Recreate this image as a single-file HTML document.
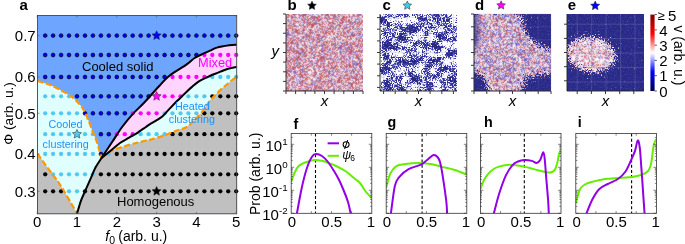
<!DOCTYPE html>
<html><head><meta charset="utf-8"><style>
html,body{margin:0;padding:0;background:#fff;width:685px;height:244px;overflow:hidden;position:relative}
</style></head><body>
<svg xmlns="http://www.w3.org/2000/svg" width="685" height="244" viewBox="0 0 685 244" style="position:absolute;left:0;top:0;will-change:transform">
<defs>
<clipPath id="ca"><rect x="37.5" y="15.5" width="199.2" height="198.3"/></clipPath>
</defs>
<g clip-path="url(#ca)">
<rect x="37.5" y="15.5" width="199.2" height="198.3" fill="#6ea6ff"/>
<path d="M37.5,153.6 C38.7,155.3 42.0,160.2 44.5,163.6 C47.0,167.0 50.0,170.9 52.3,174.0 C54.6,177.1 56.6,179.6 58.5,182.3 C60.4,185.1 61.8,187.4 63.7,190.5 C65.6,193.6 67.6,197.1 69.8,200.9 C72.0,204.8 75.8,211.5 77.0,213.6 L37.5,214 Z" fill="#c0c0c0"/>
<path d="M77.0,213.6 C77.7,211.4 79.7,204.3 81.0,200.6 C82.3,196.9 83.5,194.9 85.0,191.3 C86.5,187.8 88.5,183.3 90.3,179.3 C92.1,175.3 93.7,170.9 95.6,167.3 C97.5,163.8 100.5,159.6 101.5,158.0 " fill="none"/>
<path d="M77.0,213.6 C77.7,211.4 79.7,204.3 81.0,200.6 C82.3,196.9 83.5,194.9 85.0,191.3 C86.5,187.8 88.5,183.3 90.3,179.3 C92.1,175.3 93.7,170.9 95.6,167.3 C97.5,163.8 100.5,159.6 101.5,158.0 L101.5,158.0 C102.2,157.3 104.2,155.3 106.0,154.0 C107.8,152.7 109.2,151.7 112.3,150.4 C115.4,149.1 120.6,147.4 124.6,146.2 C128.5,145.0 132.4,143.9 136.0,143.0 C139.6,142.1 143.3,141.2 146.0,140.5 C148.7,139.8 149.2,139.9 152.3,139.1 C155.4,138.2 160.5,136.8 164.6,135.4 C168.7,134.0 173.7,131.7 176.9,130.5 C180.1,129.3 182.0,129.2 184.0,128.3 C186.0,127.4 187.5,126.5 189.0,125.3 C190.5,124.1 191.6,122.8 193.0,121.4 C194.4,120.1 195.8,118.8 197.3,117.2 C198.8,115.6 200.6,113.8 202.2,111.7 C203.8,109.7 205.7,106.9 207.1,104.9 C208.5,103.0 209.2,101.5 210.5,100.0 C211.8,98.5 212.9,97.5 214.7,95.7 C216.5,93.9 219.4,90.9 221.3,89.1 C223.2,87.3 224.5,86.4 226.2,85.0 C227.9,83.6 229.8,81.9 231.6,80.5 C233.4,79.1 236.1,77.2 237.0,76.5 L240,76.5 L240,214 L77.0,214 Z" fill="#c0c0c0"/>
<path d="M101.5,158.0 C102.2,157.3 104.2,155.3 106.0,154.0 C107.8,152.7 109.2,151.7 112.3,150.4 C115.4,149.1 120.6,147.4 124.6,146.2 C128.5,145.0 132.4,143.9 136.0,143.0 C139.6,142.1 143.3,141.2 146.0,140.5 C148.7,139.8 149.2,139.9 152.3,139.1 C155.4,138.2 160.5,136.8 164.6,135.4 C168.7,134.0 173.7,131.7 176.9,130.5 C180.1,129.3 182.0,129.2 184.0,128.3 C186.0,127.4 187.5,126.5 189.0,125.3 C190.5,124.1 191.6,122.8 193.0,121.4 C194.4,120.1 195.8,118.8 197.3,117.2 C198.8,115.6 200.6,113.8 202.2,111.7 C203.8,109.7 205.7,106.9 207.1,104.9 C208.5,103.0 209.2,101.5 210.5,100.0 C211.8,98.5 212.9,97.5 214.7,95.7 C216.5,93.9 219.4,90.9 221.3,89.1 C223.2,87.3 224.5,86.4 226.2,85.0 C227.9,83.6 229.8,81.9 231.6,80.5 C233.4,79.1 236.1,77.2 237.0,76.5 L240,76.5 L240,66.8 L237.0,66.8 C235.7,67.1 231.4,67.8 229.0,68.5 C226.6,69.2 224.7,69.9 222.7,70.7 C220.7,71.5 218.9,72.3 216.9,73.1 C214.9,73.9 212.9,74.6 210.8,75.5 C208.8,76.4 206.7,77.4 204.6,78.4 C202.5,79.4 200.6,80.3 198.5,81.7 C196.4,83.1 194.4,84.8 192.3,86.6 C190.2,88.3 188.2,90.3 186.2,92.2 C184.1,94.1 181.9,96.3 180.0,98.2 C178.1,100.1 176.5,101.5 174.6,103.5 C172.7,105.5 170.6,107.7 168.5,109.9 C166.4,112.1 164.4,114.7 162.3,116.5 C160.2,118.3 158.1,119.3 156.0,120.6 C153.9,121.9 151.7,123.0 150.0,124.1 C148.3,125.2 147.2,126.1 145.6,127.2 C144.0,128.3 142.2,129.5 140.5,130.7 C138.8,131.8 137.1,133.1 135.4,134.1 C133.7,135.1 131.9,135.9 130.2,136.9 C128.5,137.9 126.8,139.0 125.1,140.0 C123.4,141.0 122.5,141.1 120.0,143.0 C117.5,144.9 113.1,148.7 110.0,151.2 C106.9,153.7 102.9,156.9 101.5,158.0 Z" fill="#e0ffff"/>
<path d="M101.5,158.0 C102.9,156.9 106.9,153.7 110.0,151.2 C113.1,148.7 117.5,144.9 120.0,143.0 C122.5,141.1 123.4,141.0 125.1,140.0 C126.8,139.0 128.5,137.9 130.2,136.9 C131.9,135.9 133.7,135.1 135.4,134.1 C137.1,133.1 138.8,131.8 140.5,130.7 C142.2,129.5 144.0,128.3 145.6,127.2 C147.2,126.1 148.3,125.2 150.0,124.1 C151.7,123.0 153.9,121.9 156.0,120.6 C158.1,119.3 160.2,118.3 162.3,116.5 C164.4,114.7 166.4,112.1 168.5,109.9 C170.6,107.7 172.7,105.5 174.6,103.5 C176.5,101.5 178.1,100.1 180.0,98.2 C181.9,96.3 184.1,94.1 186.2,92.2 C188.2,90.3 190.2,88.3 192.3,86.6 C194.4,84.8 196.4,83.1 198.5,81.7 C200.6,80.3 202.5,79.4 204.6,78.4 C206.7,77.4 208.8,76.4 210.8,75.5 C212.9,74.6 214.9,73.9 216.9,73.1 C218.9,72.3 220.7,71.5 222.7,70.7 C224.7,69.9 226.6,69.2 229.0,68.5 C231.4,67.8 235.7,67.1 237.0,66.8 L240,66.8 L240,44.6 L237.0,44.6 C235.7,44.7 232.5,44.8 229.2,45.3 C225.8,45.8 220.1,46.7 216.9,47.6 C213.7,48.5 212.3,49.7 210.0,50.7 C207.7,51.8 205.4,52.7 202.8,53.9 C200.2,55.1 197.3,56.2 194.6,58.0 C191.9,59.8 190.5,61.7 186.4,64.6 C182.3,67.5 174.5,71.7 170.0,75.2 C165.5,78.7 163.8,81.2 159.5,85.7 C155.2,90.2 148.9,97.7 144.3,102.5 C139.7,107.3 135.7,110.7 132.0,114.8 C128.3,118.9 125.4,122.5 122.1,127.0 C118.8,131.5 115.7,136.6 112.3,141.8 C108.9,147.0 103.3,155.3 101.5,158.0 Z" fill="#ffd5ff"/>
<path d="M37.5,81.0 C39.4,81.6 45.3,83.0 49.0,84.5 C52.7,86.0 55.8,87.6 59.6,89.7 C63.4,91.8 68.2,94.1 71.9,97.0 C75.6,99.9 79.0,103.2 81.7,106.9 C84.4,110.6 86.1,115.2 87.9,119.2 C89.7,123.2 91.0,127.2 92.5,131.0 C94.0,134.8 95.7,138.7 96.9,142.0 C98.1,145.3 98.7,148.3 99.5,151.0 C100.3,153.7 101.2,156.8 101.5,158.0 L101.5,158.0 C100.5,159.6 97.5,163.8 95.6,167.3 C93.7,170.9 92.1,175.3 90.3,179.3 C88.5,183.3 86.5,187.8 85.0,191.3 C83.5,194.9 82.3,196.9 81.0,200.6 C79.7,204.3 77.7,211.4 77.0,213.6 L77.0,213.6 C75.8,211.5 72.0,204.8 69.8,200.9 C67.6,197.1 65.6,193.6 63.7,190.5 C61.8,187.4 60.4,185.1 58.5,182.3 C56.6,179.6 54.6,177.1 52.3,174.0 C50.0,170.9 47.0,167.0 44.5,163.6 C42.0,160.2 38.7,155.3 37.5,153.6 L36,153.6 L36,81 Z" fill="#e0ffff"/>
</g>
<g><circle cx="45.2" cy="35.6" r="1.9" fill="#0000ff" stroke="#000" stroke-width="0.65"/><circle cx="53.1" cy="35.6" r="1.9" fill="#0000ff" stroke="#000" stroke-width="0.65"/><circle cx="61.1" cy="35.6" r="1.9" fill="#0000ff" stroke="#000" stroke-width="0.65"/><circle cx="69.0" cy="35.6" r="1.9" fill="#0000ff" stroke="#000" stroke-width="0.65"/><circle cx="77.0" cy="35.6" r="1.9" fill="#0000ff" stroke="#000" stroke-width="0.65"/><circle cx="85.0" cy="35.6" r="1.9" fill="#0000ff" stroke="#000" stroke-width="0.65"/><circle cx="92.9" cy="35.6" r="1.9" fill="#0000ff" stroke="#000" stroke-width="0.65"/><circle cx="100.9" cy="35.6" r="1.9" fill="#0000ff" stroke="#000" stroke-width="0.65"/><circle cx="108.8" cy="35.6" r="1.9" fill="#0000ff" stroke="#000" stroke-width="0.65"/><circle cx="116.8" cy="35.6" r="1.9" fill="#0000ff" stroke="#000" stroke-width="0.65"/><circle cx="124.8" cy="35.6" r="1.9" fill="#0000ff" stroke="#000" stroke-width="0.65"/><circle cx="132.7" cy="35.6" r="1.9" fill="#0000ff" stroke="#000" stroke-width="0.65"/><circle cx="140.7" cy="35.6" r="1.9" fill="#0000ff" stroke="#000" stroke-width="0.65"/><circle cx="148.6" cy="35.6" r="1.9" fill="#0000ff" stroke="#000" stroke-width="0.65"/><circle cx="164.6" cy="35.6" r="1.9" fill="#0000ff" stroke="#000" stroke-width="0.65"/><circle cx="172.5" cy="35.6" r="1.9" fill="#0000ff" stroke="#000" stroke-width="0.65"/><circle cx="180.5" cy="35.6" r="1.9" fill="#0000ff" stroke="#000" stroke-width="0.65"/><circle cx="188.4" cy="35.6" r="1.9" fill="#0000ff" stroke="#000" stroke-width="0.65"/><circle cx="196.4" cy="35.6" r="1.9" fill="#0000ff" stroke="#000" stroke-width="0.65"/><circle cx="204.4" cy="35.6" r="1.9" fill="#0000ff" stroke="#000" stroke-width="0.65"/><circle cx="212.3" cy="35.6" r="1.9" fill="#0000ff" stroke="#000" stroke-width="0.65"/><circle cx="220.3" cy="35.6" r="1.9" fill="#0000ff" stroke="#000" stroke-width="0.65"/><circle cx="228.2" cy="35.6" r="1.9" fill="#0000ff" stroke="#000" stroke-width="0.65"/><circle cx="236.2" cy="35.6" r="1.9" fill="#0000ff" stroke="#000" stroke-width="0.65"/><circle cx="45.2" cy="55.0" r="1.9" fill="#0000ff" stroke="#000" stroke-width="0.65"/><circle cx="53.1" cy="55.0" r="1.9" fill="#0000ff" stroke="#000" stroke-width="0.65"/><circle cx="61.1" cy="55.0" r="1.9" fill="#0000ff" stroke="#000" stroke-width="0.65"/><circle cx="69.0" cy="55.0" r="1.9" fill="#0000ff" stroke="#000" stroke-width="0.65"/><circle cx="77.0" cy="55.0" r="1.9" fill="#0000ff" stroke="#000" stroke-width="0.65"/><circle cx="85.0" cy="55.0" r="1.9" fill="#0000ff" stroke="#000" stroke-width="0.65"/><circle cx="92.9" cy="55.0" r="1.9" fill="#0000ff" stroke="#000" stroke-width="0.65"/><circle cx="100.9" cy="55.0" r="1.9" fill="#0000ff" stroke="#000" stroke-width="0.65"/><circle cx="108.8" cy="55.0" r="1.9" fill="#0000ff" stroke="#000" stroke-width="0.65"/><circle cx="116.8" cy="55.0" r="1.9" fill="#0000ff" stroke="#000" stroke-width="0.65"/><circle cx="124.8" cy="55.0" r="1.9" fill="#0000ff" stroke="#000" stroke-width="0.65"/><circle cx="132.7" cy="55.0" r="1.9" fill="#0000ff" stroke="#000" stroke-width="0.65"/><circle cx="140.7" cy="55.0" r="1.9" fill="#0000ff" stroke="#000" stroke-width="0.65"/><circle cx="148.6" cy="55.0" r="1.9" fill="#0000ff" stroke="#000" stroke-width="0.65"/><circle cx="156.6" cy="55.0" r="1.9" fill="#0000ff" stroke="#000" stroke-width="0.65"/><circle cx="164.6" cy="55.0" r="1.9" fill="#0000ff" stroke="#000" stroke-width="0.65"/><circle cx="172.5" cy="55.0" r="1.9" fill="#0000ff" stroke="#000" stroke-width="0.65"/><circle cx="180.5" cy="55.0" r="1.9" fill="#0000ff" stroke="#000" stroke-width="0.65"/><circle cx="188.4" cy="55.0" r="1.9" fill="#0000ff" stroke="#000" stroke-width="0.65"/><circle cx="196.4" cy="55.0" r="1.9" fill="#0000ff" stroke="#000" stroke-width="0.65"/><circle cx="204.4" cy="55.0" r="2.15" fill="#ff00ff"/><circle cx="212.3" cy="55.0" r="2.15" fill="#ff00ff"/><circle cx="220.3" cy="55.0" r="2.15" fill="#ff00ff"/><circle cx="228.2" cy="55.0" r="2.15" fill="#ff00ff"/><circle cx="236.2" cy="55.0" r="2.15" fill="#ff00ff"/><circle cx="45.2" cy="77.0" r="1.9" fill="#0000ff" stroke="#000" stroke-width="0.65"/><circle cx="53.1" cy="77.0" r="1.9" fill="#0000ff" stroke="#000" stroke-width="0.65"/><circle cx="61.1" cy="77.0" r="1.9" fill="#0000ff" stroke="#000" stroke-width="0.65"/><circle cx="69.0" cy="77.0" r="1.9" fill="#0000ff" stroke="#000" stroke-width="0.65"/><circle cx="77.0" cy="77.0" r="1.9" fill="#0000ff" stroke="#000" stroke-width="0.65"/><circle cx="85.0" cy="77.0" r="1.9" fill="#0000ff" stroke="#000" stroke-width="0.65"/><circle cx="92.9" cy="77.0" r="1.9" fill="#0000ff" stroke="#000" stroke-width="0.65"/><circle cx="100.9" cy="77.0" r="1.9" fill="#0000ff" stroke="#000" stroke-width="0.65"/><circle cx="108.8" cy="77.0" r="1.9" fill="#0000ff" stroke="#000" stroke-width="0.65"/><circle cx="116.8" cy="77.0" r="1.9" fill="#0000ff" stroke="#000" stroke-width="0.65"/><circle cx="124.8" cy="77.0" r="1.9" fill="#0000ff" stroke="#000" stroke-width="0.65"/><circle cx="132.7" cy="77.0" r="1.9" fill="#0000ff" stroke="#000" stroke-width="0.65"/><circle cx="140.7" cy="77.0" r="1.9" fill="#0000ff" stroke="#000" stroke-width="0.65"/><circle cx="148.6" cy="77.0" r="1.9" fill="#0000ff" stroke="#000" stroke-width="0.65"/><circle cx="156.6" cy="77.0" r="1.9" fill="#0000ff" stroke="#000" stroke-width="0.65"/><circle cx="164.6" cy="77.0" r="1.9" fill="#0000ff" stroke="#000" stroke-width="0.65"/><circle cx="172.5" cy="77.0" r="2.15" fill="#ff00ff"/><circle cx="180.5" cy="77.0" r="2.15" fill="#ff00ff"/><circle cx="188.4" cy="77.0" r="2.15" fill="#ff00ff"/><circle cx="196.4" cy="77.0" r="2.15" fill="#ff00ff"/><circle cx="204.4" cy="77.0" r="2.15" fill="#ff00ff"/><circle cx="212.3" cy="77.0" r="2.15" fill="#55c8f0"/><circle cx="220.3" cy="77.0" r="2.15" fill="#55c8f0"/><circle cx="228.2" cy="77.0" r="2.15" fill="#55c8f0"/><circle cx="236.2" cy="77.0" r="2.15" fill="#55c8f0"/><circle cx="45.2" cy="96.3" r="2.15" fill="#55c8f0"/><circle cx="53.1" cy="96.3" r="2.15" fill="#55c8f0"/><circle cx="61.1" cy="96.3" r="2.15" fill="#55c8f0"/><circle cx="69.0" cy="96.3" r="2.15" fill="#55c8f0"/><circle cx="77.0" cy="96.3" r="1.9" fill="#0000ff" stroke="#000" stroke-width="0.65"/><circle cx="85.0" cy="96.3" r="1.9" fill="#0000ff" stroke="#000" stroke-width="0.65"/><circle cx="92.9" cy="96.3" r="1.9" fill="#0000ff" stroke="#000" stroke-width="0.65"/><circle cx="100.9" cy="96.3" r="1.9" fill="#0000ff" stroke="#000" stroke-width="0.65"/><circle cx="108.8" cy="96.3" r="1.9" fill="#0000ff" stroke="#000" stroke-width="0.65"/><circle cx="116.8" cy="96.3" r="1.9" fill="#0000ff" stroke="#000" stroke-width="0.65"/><circle cx="124.8" cy="96.3" r="1.9" fill="#0000ff" stroke="#000" stroke-width="0.65"/><circle cx="132.7" cy="96.3" r="1.9" fill="#0000ff" stroke="#000" stroke-width="0.65"/><circle cx="140.7" cy="96.3" r="1.9" fill="#0000ff" stroke="#000" stroke-width="0.65"/><circle cx="148.6" cy="96.3" r="1.9" fill="#0000ff" stroke="#000" stroke-width="0.65"/><circle cx="164.6" cy="96.3" r="2.15" fill="#ff00ff"/><circle cx="172.5" cy="96.3" r="2.15" fill="#ff00ff"/><circle cx="180.5" cy="96.3" r="2.15" fill="#ff00ff"/><circle cx="188.4" cy="96.3" r="2.15" fill="#55c8f0"/><circle cx="196.4" cy="96.3" r="2.15" fill="#55c8f0"/><circle cx="204.4" cy="96.3" r="2.15" fill="#55c8f0"/><circle cx="212.3" cy="96.3" r="2.15" fill="#000000"/><circle cx="220.3" cy="96.3" r="2.15" fill="#000000"/><circle cx="228.2" cy="96.3" r="2.15" fill="#000000"/><circle cx="236.2" cy="96.3" r="2.15" fill="#000000"/><circle cx="45.2" cy="113.3" r="2.15" fill="#55c8f0"/><circle cx="53.1" cy="113.3" r="2.15" fill="#55c8f0"/><circle cx="61.1" cy="113.3" r="2.15" fill="#55c8f0"/><circle cx="69.0" cy="113.3" r="2.15" fill="#55c8f0"/><circle cx="77.0" cy="113.3" r="2.15" fill="#55c8f0"/><circle cx="85.0" cy="113.3" r="1.9" fill="#0000ff" stroke="#000" stroke-width="0.65"/><circle cx="92.9" cy="113.3" r="1.9" fill="#0000ff" stroke="#000" stroke-width="0.65"/><circle cx="100.9" cy="113.3" r="1.9" fill="#0000ff" stroke="#000" stroke-width="0.65"/><circle cx="108.8" cy="113.3" r="1.9" fill="#0000ff" stroke="#000" stroke-width="0.65"/><circle cx="116.8" cy="113.3" r="1.9" fill="#0000ff" stroke="#000" stroke-width="0.65"/><circle cx="124.8" cy="113.3" r="1.9" fill="#0000ff" stroke="#000" stroke-width="0.65"/><circle cx="132.7" cy="113.3" r="2.15" fill="#ff00ff"/><circle cx="140.7" cy="113.3" r="2.15" fill="#ff00ff"/><circle cx="148.6" cy="113.3" r="2.15" fill="#ff00ff"/><circle cx="156.6" cy="113.3" r="2.15" fill="#ff00ff"/><circle cx="164.6" cy="113.3" r="2.15" fill="#55c8f0"/><circle cx="172.5" cy="113.3" r="2.15" fill="#55c8f0"/><circle cx="180.5" cy="113.3" r="2.15" fill="#55c8f0"/><circle cx="188.4" cy="113.3" r="2.15" fill="#55c8f0"/><circle cx="196.4" cy="113.3" r="2.15" fill="#55c8f0"/><circle cx="204.4" cy="113.3" r="2.15" fill="#000000"/><circle cx="212.3" cy="113.3" r="2.15" fill="#000000"/><circle cx="220.3" cy="113.3" r="2.15" fill="#000000"/><circle cx="228.2" cy="113.3" r="2.15" fill="#000000"/><circle cx="236.2" cy="113.3" r="2.15" fill="#000000"/><circle cx="45.2" cy="134.2" r="2.15" fill="#55c8f0"/><circle cx="53.1" cy="134.2" r="2.15" fill="#55c8f0"/><circle cx="61.1" cy="134.2" r="2.15" fill="#55c8f0"/><circle cx="69.0" cy="134.2" r="2.15" fill="#55c8f0"/><circle cx="85.0" cy="134.2" r="2.15" fill="#55c8f0"/><circle cx="92.9" cy="134.2" r="2.15" fill="#55c8f0"/><circle cx="100.9" cy="134.2" r="1.9" fill="#0000ff" stroke="#000" stroke-width="0.65"/><circle cx="108.8" cy="134.2" r="1.9" fill="#0000ff" stroke="#000" stroke-width="0.65"/><circle cx="116.8" cy="134.2" r="2.15" fill="#ff00ff"/><circle cx="124.8" cy="134.2" r="2.15" fill="#ff00ff"/><circle cx="132.7" cy="134.2" r="2.15" fill="#ff00ff"/><circle cx="140.7" cy="134.2" r="2.15" fill="#55c8f0"/><circle cx="148.6" cy="134.2" r="2.15" fill="#55c8f0"/><circle cx="156.6" cy="134.2" r="2.15" fill="#55c8f0"/><circle cx="164.6" cy="134.2" r="2.15" fill="#55c8f0"/><circle cx="172.5" cy="134.2" r="2.15" fill="#000000"/><circle cx="180.5" cy="134.2" r="2.15" fill="#000000"/><circle cx="188.4" cy="134.2" r="2.15" fill="#000000"/><circle cx="196.4" cy="134.2" r="2.15" fill="#000000"/><circle cx="204.4" cy="134.2" r="2.15" fill="#000000"/><circle cx="212.3" cy="134.2" r="2.15" fill="#000000"/><circle cx="220.3" cy="134.2" r="2.15" fill="#000000"/><circle cx="228.2" cy="134.2" r="2.15" fill="#000000"/><circle cx="236.2" cy="134.2" r="2.15" fill="#000000"/><circle cx="45.2" cy="154.0" r="2.15" fill="#55c8f0"/><circle cx="53.1" cy="154.0" r="2.15" fill="#55c8f0"/><circle cx="61.1" cy="154.0" r="2.15" fill="#55c8f0"/><circle cx="69.0" cy="154.0" r="2.15" fill="#55c8f0"/><circle cx="77.0" cy="154.0" r="2.15" fill="#55c8f0"/><circle cx="85.0" cy="154.0" r="2.15" fill="#55c8f0"/><circle cx="92.9" cy="154.0" r="2.15" fill="#55c8f0"/><circle cx="100.9" cy="154.0" r="1.9" fill="#0000ff" stroke="#000" stroke-width="0.65"/><circle cx="108.8" cy="154.0" r="2.15" fill="#55c8f0"/><circle cx="116.8" cy="154.0" r="2.15" fill="#000000"/><circle cx="124.8" cy="154.0" r="2.15" fill="#000000"/><circle cx="132.7" cy="154.0" r="2.15" fill="#000000"/><circle cx="140.7" cy="154.0" r="2.15" fill="#000000"/><circle cx="148.6" cy="154.0" r="2.15" fill="#000000"/><circle cx="156.6" cy="154.0" r="2.15" fill="#000000"/><circle cx="164.6" cy="154.0" r="2.15" fill="#000000"/><circle cx="172.5" cy="154.0" r="2.15" fill="#000000"/><circle cx="180.5" cy="154.0" r="2.15" fill="#000000"/><circle cx="188.4" cy="154.0" r="2.15" fill="#000000"/><circle cx="196.4" cy="154.0" r="2.15" fill="#000000"/><circle cx="204.4" cy="154.0" r="2.15" fill="#000000"/><circle cx="212.3" cy="154.0" r="2.15" fill="#000000"/><circle cx="220.3" cy="154.0" r="2.15" fill="#000000"/><circle cx="228.2" cy="154.0" r="2.15" fill="#000000"/><circle cx="236.2" cy="154.0" r="2.15" fill="#000000"/><circle cx="45.2" cy="174.3" r="2.15" fill="#000000"/><circle cx="53.1" cy="174.3" r="2.15" fill="#55c8f0"/><circle cx="61.1" cy="174.3" r="2.15" fill="#55c8f0"/><circle cx="69.0" cy="174.3" r="2.15" fill="#55c8f0"/><circle cx="77.0" cy="174.3" r="2.15" fill="#55c8f0"/><circle cx="85.0" cy="174.3" r="2.15" fill="#55c8f0"/><circle cx="92.9" cy="174.3" r="2.15" fill="#55c8f0"/><circle cx="100.9" cy="174.3" r="2.15" fill="#000000"/><circle cx="108.8" cy="174.3" r="2.15" fill="#000000"/><circle cx="116.8" cy="174.3" r="2.15" fill="#000000"/><circle cx="124.8" cy="174.3" r="2.15" fill="#000000"/><circle cx="132.7" cy="174.3" r="2.15" fill="#000000"/><circle cx="140.7" cy="174.3" r="2.15" fill="#000000"/><circle cx="148.6" cy="174.3" r="2.15" fill="#000000"/><circle cx="156.6" cy="174.3" r="2.15" fill="#000000"/><circle cx="164.6" cy="174.3" r="2.15" fill="#000000"/><circle cx="172.5" cy="174.3" r="2.15" fill="#000000"/><circle cx="180.5" cy="174.3" r="2.15" fill="#000000"/><circle cx="188.4" cy="174.3" r="2.15" fill="#000000"/><circle cx="196.4" cy="174.3" r="2.15" fill="#000000"/><circle cx="204.4" cy="174.3" r="2.15" fill="#000000"/><circle cx="212.3" cy="174.3" r="2.15" fill="#000000"/><circle cx="220.3" cy="174.3" r="2.15" fill="#000000"/><circle cx="228.2" cy="174.3" r="2.15" fill="#000000"/><circle cx="236.2" cy="174.3" r="2.15" fill="#000000"/><circle cx="45.2" cy="191.3" r="2.15" fill="#000000"/><circle cx="53.1" cy="191.3" r="2.15" fill="#000000"/><circle cx="61.1" cy="191.3" r="2.15" fill="#000000"/><circle cx="69.0" cy="191.3" r="2.15" fill="#55c8f0"/><circle cx="77.0" cy="191.3" r="2.15" fill="#55c8f0"/><circle cx="85.0" cy="191.3" r="2.15" fill="#000000"/><circle cx="92.9" cy="191.3" r="2.15" fill="#000000"/><circle cx="100.9" cy="191.3" r="2.15" fill="#000000"/><circle cx="108.8" cy="191.3" r="2.15" fill="#000000"/><circle cx="116.8" cy="191.3" r="2.15" fill="#000000"/><circle cx="124.8" cy="191.3" r="2.15" fill="#000000"/><circle cx="132.7" cy="191.3" r="2.15" fill="#000000"/><circle cx="140.7" cy="191.3" r="2.15" fill="#000000"/><circle cx="148.6" cy="191.3" r="2.15" fill="#000000"/><circle cx="164.6" cy="191.3" r="2.15" fill="#000000"/><circle cx="172.5" cy="191.3" r="2.15" fill="#000000"/><circle cx="180.5" cy="191.3" r="2.15" fill="#000000"/><circle cx="188.4" cy="191.3" r="2.15" fill="#000000"/><circle cx="196.4" cy="191.3" r="2.15" fill="#000000"/><circle cx="204.4" cy="191.3" r="2.15" fill="#000000"/><circle cx="212.3" cy="191.3" r="2.15" fill="#000000"/><circle cx="220.3" cy="191.3" r="2.15" fill="#000000"/><circle cx="228.2" cy="191.3" r="2.15" fill="#000000"/><circle cx="236.2" cy="191.3" r="2.15" fill="#000000"/></g>
<g clip-path="url(#ca)" fill="none">
<path d="M37.5,153.6 C38.7,155.3 42.0,160.2 44.5,163.6 C47.0,167.0 50.0,170.9 52.3,174.0 C54.6,177.1 56.6,179.6 58.5,182.3 C60.4,185.1 61.8,187.4 63.7,190.5 C65.6,193.6 67.6,197.1 69.8,200.9 C72.0,204.8 75.8,211.5 77.0,213.6" stroke="#ff9800" stroke-width="2.2" stroke-dasharray="6 2.6"/>
<path d="M37.5,81.0 C39.4,81.6 45.3,83.0 49.0,84.5 C52.7,86.0 55.8,87.6 59.6,89.7 C63.4,91.8 68.2,94.1 71.9,97.0 C75.6,99.9 79.0,103.2 81.7,106.9 C84.4,110.6 86.1,115.2 87.9,119.2 C89.7,123.2 91.0,127.2 92.5,131.0 C94.0,134.8 95.7,138.7 96.9,142.0 C98.1,145.3 98.7,148.3 99.5,151.0 C100.3,153.7 101.2,156.8 101.5,158.0" stroke="#ff9800" stroke-width="2.2" stroke-dasharray="6 2.6"/>
<path d="M101.5,158.0 C102.2,157.3 104.2,155.3 106.0,154.0 C107.8,152.7 109.2,151.7 112.3,150.4 C115.4,149.1 120.6,147.4 124.6,146.2 C128.5,145.0 132.4,143.9 136.0,143.0 C139.6,142.1 143.3,141.2 146.0,140.5 C148.7,139.8 149.2,139.9 152.3,139.1 C155.4,138.2 160.5,136.8 164.6,135.4 C168.7,134.0 173.7,131.7 176.9,130.5 C180.1,129.3 182.0,129.2 184.0,128.3 C186.0,127.4 187.5,126.5 189.0,125.3 C190.5,124.1 191.6,122.8 193.0,121.4 C194.4,120.1 195.8,118.8 197.3,117.2 C198.8,115.6 200.6,113.8 202.2,111.7 C203.8,109.7 205.7,106.9 207.1,104.9 C208.5,103.0 209.2,101.5 210.5,100.0 C211.8,98.5 212.9,97.5 214.7,95.7 C216.5,93.9 219.4,90.9 221.3,89.1 C223.2,87.3 224.5,86.4 226.2,85.0 C227.9,83.6 229.8,81.9 231.6,80.5 C233.4,79.1 236.1,77.2 237.0,76.5" stroke="#ff9800" stroke-width="2.2" stroke-dasharray="6 2.6"/>
<path d="M77.0,213.6 C77.7,211.4 79.7,204.3 81.0,200.6 C82.3,196.9 83.5,194.9 85.0,191.3 C86.5,187.8 88.5,183.3 90.3,179.3 C92.1,175.3 93.7,170.9 95.6,167.3 C97.5,163.8 100.5,159.6 101.5,158.0 L101.5,158.0 C103.3,155.3 108.9,147.0 112.3,141.8 C115.7,136.6 118.8,131.5 122.1,127.0 C125.4,122.5 128.3,118.9 132.0,114.8 C135.7,110.7 139.7,107.3 144.3,102.5 C148.9,97.7 155.2,90.2 159.5,85.7 C163.8,81.2 165.5,78.7 170.0,75.2 C174.5,71.7 182.3,67.5 186.4,64.6 C190.5,61.7 191.9,59.8 194.6,58.0 C197.3,56.2 200.2,55.1 202.8,53.9 C205.4,52.7 207.7,51.8 210.0,50.7 C212.3,49.7 213.7,48.5 216.9,47.6 C220.1,46.7 225.8,45.8 229.2,45.3 C232.5,44.8 235.7,44.7 237.0,44.6" stroke="#000" stroke-width="2"/>
<path d="M101.5,158.0 C102.9,156.9 106.9,153.7 110.0,151.2 C113.1,148.7 117.5,144.9 120.0,143.0 C122.5,141.1 123.4,141.0 125.1,140.0 C126.8,139.0 128.5,137.9 130.2,136.9 C131.9,135.9 133.7,135.1 135.4,134.1 C137.1,133.1 138.8,131.8 140.5,130.7 C142.2,129.5 144.0,128.3 145.6,127.2 C147.2,126.1 148.3,125.2 150.0,124.1 C151.7,123.0 153.9,121.9 156.0,120.6 C158.1,119.3 160.2,118.3 162.3,116.5 C164.4,114.7 166.4,112.1 168.5,109.9 C170.6,107.7 172.7,105.5 174.6,103.5 C176.5,101.5 178.1,100.1 180.0,98.2 C181.9,96.3 184.1,94.1 186.2,92.2 C188.2,90.3 190.2,88.3 192.3,86.6 C194.4,84.8 196.4,83.1 198.5,81.7 C200.6,80.3 202.5,79.4 204.6,78.4 C206.7,77.4 208.8,76.4 210.8,75.5 C212.9,74.6 214.9,73.9 216.9,73.1 C218.9,72.3 220.7,71.5 222.7,70.7 C224.7,69.9 226.6,69.2 229.0,68.5 C231.4,67.8 235.7,67.1 237.0,66.8" stroke="#000" stroke-width="2"/>
</g>
<path d="M156.6,30.8 L158.0,33.7 L161.2,34.1 L158.8,36.3 L159.4,39.5 L156.6,37.9 L153.8,39.5 L154.4,36.3 L152.0,34.1 L155.2,33.7 Z" fill="#0000ff" stroke="#222" stroke-width="0.5" stroke-linejoin="miter"/>
<path d="M156.6,91.5 L158.0,94.4 L161.2,94.8 L158.8,97.0 L159.4,100.2 L156.6,98.6 L153.8,100.2 L154.4,97.0 L152.0,94.8 L155.2,94.4 Z" fill="#ff00ff" stroke="#222" stroke-width="0.5" stroke-linejoin="miter"/>
<path d="M77.0,129.4 L78.4,132.3 L81.6,132.7 L79.2,134.9 L79.8,138.1 L77.0,136.5 L74.2,138.1 L74.8,134.9 L72.4,132.7 L75.6,132.3 Z" fill="#55c8f0" stroke="#222" stroke-width="0.5" stroke-linejoin="miter"/>
<path d="M156.6,186.5 L158.0,189.4 L161.2,189.8 L158.8,192.0 L159.4,195.2 L156.6,193.6 L153.8,195.2 L154.4,192.0 L152.0,189.8 L155.2,189.4 Z" fill="#000" stroke="#222" stroke-width="0.5" stroke-linejoin="miter"/>
<path d="M37.2,15.5 v2 M37.2,213.8 v-2 M77.0,15.5 v2 M77.0,213.8 v-2 M116.8,15.5 v2 M116.8,213.8 v-2 M156.6,15.5 v2 M156.6,213.8 v-2 M196.4,15.5 v2 M196.4,213.8 v-2 M236.2,15.5 v2 M236.2,213.8 v-2 M37.5,191.3 h2 M236.7,191.3 h-2 M37.5,154.0 h2 M236.7,154.0 h-2 M37.5,113.3 h2 M236.7,113.3 h-2 M37.5,77.0 h2 M236.7,77.0 h-2 M37.5,35.6 h2 M236.7,35.6 h-2" stroke="#555" stroke-width="0.6" fill="none"/>
<rect x="37.5" y="15.5" width="199.2" height="198.3" fill="none" stroke="#444" stroke-width="0.9"/>
<g font-family='"Liberation Sans", sans-serif'>
<text x="19.4" y="10.1" font-size="15" font-weight="bold">a</text>
<text x="35.7" y="196.6" font-size="15" text-anchor="end">0.3</text>
<text x="35.7" y="159.3" font-size="15" text-anchor="end">0.4</text>
<text x="35.7" y="118.6" font-size="15" text-anchor="end">0.5</text>
<text x="35.7" y="82.3" font-size="15" text-anchor="end">0.6</text>
<text x="35.7" y="40.9" font-size="15" text-anchor="end">0.7</text>
<text x="37.2" y="227.2" font-size="15" text-anchor="middle">0</text>
<text x="77.0" y="227.2" font-size="15" text-anchor="middle">1</text>
<text x="116.8" y="227.2" font-size="15" text-anchor="middle">2</text>
<text x="156.6" y="227.2" font-size="15" text-anchor="middle">3</text>
<text x="196.4" y="227.2" font-size="15" text-anchor="middle">4</text>
<text x="236.2" y="227.2" font-size="15" text-anchor="middle">5</text>
<text x="0" y="0" font-size="13.7" text-anchor="middle" transform="translate(12.7,113.4) rotate(-90)">Φ (arb. u.)</text>
<text x="105.2" y="240.5" font-size="14"><tspan font-style="italic">f</tspan><tspan font-size="10.5" dy="3.6" dx="0.2">0</tspan><tspan dy="-3.6" dx="-0.8"> (arb. u.)</tspan></text>
<text x="82" y="71" font-size="13">Cooled solid</text>
<text x="198" y="67" font-size="12.8" fill="#ff00ff">Mixed</text>
<text x="175" y="109.6" font-size="10.8" fill="#1e90ff">Heated</text>
<text x="168.8" y="123.3" font-size="10.8" fill="#1e90ff">clustering</text>
<text x="48.4" y="128.1" font-size="10.8" fill="#1e90ff">Cooled</text>
<text x="42.6" y="148.1" font-size="10.8" fill="#1e90ff">clustering</text>
<text x="117" y="206" font-size="13">Homogenous</text>
</g>
<defs>
<pattern id="pb" width="77" height="77" patternUnits="userSpaceOnUse" x="286" y="14">
<rect width="77" height="77" fill="#c04f58"/>
<path fill="#7a70d0" d="M8 0h2v1h-2zM13 0h1v1h-1zM19 0h2v1h-2zM26 0h1v1h-1zM35 0h1v1h-1zM42 0h1v1h-1zM56 0h1v1h-1zM71 0h2v1h-2zM14 1h1v1h-1zM23 1h1v1h-1zM35 1h1v1h-1zM46 1h3v1h-3zM51 1h1v1h-1zM54 1h1v1h-1zM63 1h1v1h-1zM67 1h1v1h-1zM73 1h2v1h-2zM14 2h1v1h-1zM25 2h1v1h-1zM27 2h1v1h-1zM42 2h1v1h-1zM49 2h1v1h-1zM66 2h1v1h-1zM5 3h3v1h-3zM17 3h1v1h-1zM26 3h1v1h-1zM28 3h2v1h-2zM31 3h1v1h-1zM35 3h1v1h-1zM39 3h1v1h-1zM47 3h1v1h-1zM49 3h2v1h-2zM56 3h1v1h-1zM60 3h1v1h-1zM71 3h1v1h-1zM13 4h1v1h-1zM15 4h1v1h-1zM17 4h2v1h-2zM27 4h1v1h-1zM34 4h1v1h-1zM41 4h1v1h-1zM55 4h1v1h-1zM65 4h1v1h-1zM69 4h1v1h-1zM72 4h1v1h-1zM2 5h1v1h-1zM19 5h2v1h-2zM42 5h1v1h-1zM49 5h1v1h-1zM69 5h1v1h-1zM72 5h1v1h-1zM75 5h1v1h-1zM2 6h1v1h-1zM5 6h1v1h-1zM26 6h1v1h-1zM28 6h1v1h-1zM41 6h1v1h-1zM52 6h1v1h-1zM69 6h1v1h-1zM24 7h1v1h-1zM30 7h1v1h-1zM41 7h1v1h-1zM63 7h1v1h-1zM12 8h1v1h-1zM15 8h1v1h-1zM17 8h1v1h-1zM21 8h1v1h-1zM28 8h1v1h-1zM30 8h1v1h-1zM45 8h1v1h-1zM57 8h1v1h-1zM60 8h1v1h-1zM62 8h1v1h-1zM66 8h2v1h-2zM69 8h1v1h-1zM71 8h3v1h-3zM7 9h1v1h-1zM14 9h1v1h-1zM31 9h2v1h-2zM37 9h1v1h-1zM40 9h1v1h-1zM44 9h1v1h-1zM46 9h1v1h-1zM48 9h2v1h-2zM66 9h1v1h-1zM3 10h1v1h-1zM6 10h1v1h-1zM20 10h1v1h-1zM52 10h2v1h-2zM56 10h1v1h-1zM60 10h2v1h-2zM66 10h1v1h-1zM16 11h1v1h-1zM22 11h2v1h-2zM64 11h1v1h-1zM67 11h1v1h-1zM8 12h2v1h-2zM12 12h1v1h-1zM19 12h1v1h-1zM27 12h1v1h-1zM31 12h1v1h-1zM39 12h1v1h-1zM45 12h1v1h-1zM47 12h1v1h-1zM63 12h1v1h-1zM21 13h1v1h-1zM30 13h1v1h-1zM33 13h1v1h-1zM43 13h2v1h-2zM47 13h1v1h-1zM54 13h1v1h-1zM60 13h2v1h-2zM63 13h1v1h-1zM66 13h2v1h-2zM17 14h1v1h-1zM28 14h1v1h-1zM36 14h1v1h-1zM52 14h1v1h-1zM58 14h1v1h-1zM72 14h1v1h-1zM74 14h1v1h-1zM76 14h1v1h-1zM0 15h2v1h-2zM25 15h1v1h-1zM34 15h1v1h-1zM43 15h1v1h-1zM49 15h1v1h-1zM67 15h3v1h-3zM2 16h1v1h-1zM9 16h1v1h-1zM32 16h1v1h-1zM40 16h1v1h-1zM8 17h1v1h-1zM10 17h1v1h-1zM15 17h1v1h-1zM17 17h1v1h-1zM29 17h1v1h-1zM39 17h1v1h-1zM45 17h1v1h-1zM51 17h1v1h-1zM60 17h2v1h-2zM0 18h1v1h-1zM2 18h1v1h-1zM5 18h1v1h-1zM11 18h1v1h-1zM13 18h1v1h-1zM26 18h1v1h-1zM34 18h1v1h-1zM64 18h1v1h-1zM66 18h1v1h-1zM2 19h1v1h-1zM8 19h1v1h-1zM15 19h2v1h-2zM24 19h1v1h-1zM28 19h1v1h-1zM40 19h1v1h-1zM48 19h1v1h-1zM52 19h1v1h-1zM59 19h1v1h-1zM62 19h1v1h-1zM65 19h1v1h-1zM72 19h1v1h-1zM74 19h1v1h-1zM0 20h1v1h-1zM2 20h1v1h-1zM4 20h1v1h-1zM19 20h3v1h-3zM28 20h1v1h-1zM52 20h1v1h-1zM66 20h1v1h-1zM70 20h1v1h-1zM76 20h1v1h-1zM0 21h1v1h-1zM3 21h1v1h-1zM20 21h1v1h-1zM33 21h1v1h-1zM38 21h1v1h-1zM49 21h1v1h-1zM51 21h1v1h-1zM61 21h1v1h-1zM64 21h1v1h-1zM67 21h3v1h-3zM72 21h2v1h-2zM76 21h1v1h-1zM0 22h1v1h-1zM14 22h1v1h-1zM21 22h1v1h-1zM27 22h1v1h-1zM34 22h1v1h-1zM37 22h1v1h-1zM45 22h1v1h-1zM61 22h2v1h-2zM74 22h2v1h-2zM7 23h1v1h-1zM20 23h1v1h-1zM35 23h1v1h-1zM37 23h1v1h-1zM47 23h1v1h-1zM50 23h2v1h-2zM70 23h1v1h-1zM0 24h1v1h-1zM5 24h1v1h-1zM13 24h1v1h-1zM16 24h2v1h-2zM21 24h1v1h-1zM31 24h2v1h-2zM35 24h1v1h-1zM46 24h1v1h-1zM70 24h1v1h-1zM1 25h1v1h-1zM7 25h1v1h-1zM14 25h1v1h-1zM25 25h1v1h-1zM28 25h1v1h-1zM33 25h1v1h-1zM52 25h1v1h-1zM54 25h1v1h-1zM63 25h1v1h-1zM65 25h1v1h-1zM71 25h1v1h-1zM7 26h1v1h-1zM13 26h2v1h-2zM34 26h3v1h-3zM41 26h1v1h-1zM20 27h1v1h-1zM27 27h1v1h-1zM46 27h1v1h-1zM48 27h1v1h-1zM61 27h1v1h-1zM69 27h1v1h-1zM76 27h1v1h-1zM1 28h1v1h-1zM7 28h1v1h-1zM9 28h1v1h-1zM23 28h1v1h-1zM25 28h1v1h-1zM30 28h1v1h-1zM33 28h1v1h-1zM43 28h1v1h-1zM54 28h2v1h-2zM58 28h2v1h-2zM65 28h1v1h-1zM0 29h1v1h-1zM4 29h2v1h-2zM7 29h1v1h-1zM9 29h1v1h-1zM18 29h1v1h-1zM45 29h1v1h-1zM55 29h1v1h-1zM63 29h1v1h-1zM68 29h1v1h-1zM70 29h1v1h-1zM75 29h1v1h-1zM10 30h3v1h-3zM19 30h1v1h-1zM30 30h1v1h-1zM38 30h1v1h-1zM58 30h1v1h-1zM62 30h1v1h-1zM71 30h1v1h-1zM5 31h1v1h-1zM20 31h1v1h-1zM29 31h1v1h-1zM36 31h1v1h-1zM46 31h1v1h-1zM48 31h1v1h-1zM54 31h1v1h-1zM57 31h1v1h-1zM60 31h1v1h-1zM63 31h3v1h-3zM8 32h1v1h-1zM25 32h1v1h-1zM35 32h2v1h-2zM41 32h1v1h-1zM53 32h2v1h-2zM57 32h2v1h-2zM69 32h1v1h-1zM71 32h1v1h-1zM76 32h1v1h-1zM1 33h1v1h-1zM4 33h1v1h-1zM7 33h1v1h-1zM20 33h2v1h-2zM30 33h1v1h-1zM36 33h1v1h-1zM41 33h1v1h-1zM47 33h1v1h-1zM49 33h1v1h-1zM52 33h1v1h-1zM55 33h1v1h-1zM66 33h1v1h-1zM4 34h1v1h-1zM8 34h1v1h-1zM11 34h1v1h-1zM25 34h1v1h-1zM35 34h2v1h-2zM53 34h3v1h-3zM60 34h1v1h-1zM67 34h1v1h-1zM74 34h1v1h-1zM15 35h1v1h-1zM38 35h1v1h-1zM46 35h1v1h-1zM48 35h1v1h-1zM52 35h1v1h-1zM56 35h2v1h-2zM62 35h1v1h-1zM67 35h1v1h-1zM0 36h1v1h-1zM3 36h1v1h-1zM11 36h1v1h-1zM25 36h2v1h-2zM36 36h1v1h-1zM43 36h2v1h-2zM54 36h1v1h-1zM60 36h1v1h-1zM76 36h1v1h-1zM8 37h1v1h-1zM15 37h1v1h-1zM53 37h2v1h-2zM57 37h1v1h-1zM61 37h2v1h-2zM64 37h2v1h-2zM67 37h1v1h-1zM70 37h1v1h-1zM13 38h2v1h-2zM16 38h2v1h-2zM19 38h1v1h-1zM26 38h1v1h-1zM36 38h1v1h-1zM50 38h1v1h-1zM54 38h2v1h-2zM68 38h1v1h-1zM12 39h2v1h-2zM19 39h1v1h-1zM37 39h1v1h-1zM44 39h1v1h-1zM54 39h1v1h-1zM69 39h1v1h-1zM18 40h1v1h-1zM25 40h1v1h-1zM28 40h2v1h-2zM35 40h2v1h-2zM47 40h1v1h-1zM61 40h1v1h-1zM70 40h1v1h-1zM0 41h1v1h-1zM6 41h1v1h-1zM10 41h1v1h-1zM12 41h1v1h-1zM14 41h1v1h-1zM16 41h1v1h-1zM19 41h1v1h-1zM27 41h2v1h-2zM33 41h1v1h-1zM38 41h1v1h-1zM58 41h1v1h-1zM8 42h1v1h-1zM13 42h1v1h-1zM15 42h1v1h-1zM29 42h1v1h-1zM35 42h1v1h-1zM37 42h1v1h-1zM39 42h1v1h-1zM45 42h1v1h-1zM57 42h1v1h-1zM60 42h1v1h-1zM63 42h1v1h-1zM66 42h1v1h-1zM71 42h1v1h-1zM2 43h1v1h-1zM16 43h1v1h-1zM26 43h1v1h-1zM35 43h1v1h-1zM51 43h1v1h-1zM57 43h1v1h-1zM63 43h1v1h-1zM67 43h1v1h-1zM72 43h1v1h-1zM5 44h1v1h-1zM11 44h1v1h-1zM21 44h1v1h-1zM25 44h1v1h-1zM42 44h1v1h-1zM47 44h1v1h-1zM64 44h1v1h-1zM66 44h1v1h-1zM71 44h1v1h-1zM5 45h2v1h-2zM10 45h1v1h-1zM18 45h1v1h-1zM31 45h1v1h-1zM54 45h2v1h-2zM58 45h1v1h-1zM61 45h1v1h-1zM73 45h1v1h-1zM1 46h1v1h-1zM3 46h1v1h-1zM15 46h1v1h-1zM19 46h1v1h-1zM31 46h1v1h-1zM38 46h1v1h-1zM46 46h1v1h-1zM51 46h1v1h-1zM62 46h1v1h-1zM72 46h1v1h-1zM2 47h1v1h-1zM6 47h1v1h-1zM25 47h2v1h-2zM31 47h1v1h-1zM35 47h2v1h-2zM38 47h1v1h-1zM47 47h1v1h-1zM66 47h2v1h-2zM5 48h1v1h-1zM10 48h1v1h-1zM13 48h1v1h-1zM24 48h1v1h-1zM51 48h1v1h-1zM66 48h1v1h-1zM69 48h1v1h-1zM9 49h1v1h-1zM13 49h2v1h-2zM30 49h1v1h-1zM36 49h1v1h-1zM38 49h1v1h-1zM44 49h1v1h-1zM48 49h1v1h-1zM50 49h1v1h-1zM59 49h1v1h-1zM63 49h1v1h-1zM67 49h1v1h-1zM74 49h1v1h-1zM7 50h1v1h-1zM11 50h1v1h-1zM22 50h1v1h-1zM41 50h1v1h-1zM63 50h1v1h-1zM67 50h5v1h-5zM74 50h1v1h-1zM10 51h2v1h-2zM17 51h1v1h-1zM28 51h1v1h-1zM32 51h1v1h-1zM34 51h1v1h-1zM49 51h1v1h-1zM55 51h1v1h-1zM66 51h1v1h-1zM70 51h1v1h-1zM74 51h1v1h-1zM13 52h1v1h-1zM16 52h2v1h-2zM67 52h1v1h-1zM74 52h1v1h-1zM8 53h1v1h-1zM12 53h1v1h-1zM27 53h1v1h-1zM32 53h1v1h-1zM38 53h1v1h-1zM47 53h2v1h-2zM55 53h1v1h-1zM57 53h1v1h-1zM60 53h1v1h-1zM68 53h1v1h-1zM3 54h1v1h-1zM16 54h1v1h-1zM58 54h1v1h-1zM62 54h1v1h-1zM68 54h1v1h-1zM1 55h1v1h-1zM6 55h3v1h-3zM18 55h1v1h-1zM23 55h1v1h-1zM28 55h1v1h-1zM33 55h1v1h-1zM37 55h1v1h-1zM57 55h1v1h-1zM60 55h2v1h-2zM67 55h1v1h-1zM72 55h1v1h-1zM76 55h1v1h-1zM3 56h1v1h-1zM14 56h1v1h-1zM16 56h1v1h-1zM37 56h1v1h-1zM41 56h1v1h-1zM43 56h1v1h-1zM46 56h1v1h-1zM51 56h1v1h-1zM66 56h1v1h-1zM73 56h1v1h-1zM5 57h1v1h-1zM11 57h1v1h-1zM21 57h1v1h-1zM28 57h2v1h-2zM33 57h2v1h-2zM40 57h1v1h-1zM46 57h1v1h-1zM52 57h1v1h-1zM56 57h1v1h-1zM71 57h1v1h-1zM4 58h1v1h-1zM8 58h1v1h-1zM15 58h2v1h-2zM20 58h1v1h-1zM42 58h2v1h-2zM47 58h2v1h-2zM67 58h2v1h-2zM71 58h1v1h-1zM2 59h1v1h-1zM8 59h2v1h-2zM18 59h1v1h-1zM33 59h1v1h-1zM38 59h1v1h-1zM47 59h1v1h-1zM51 59h1v1h-1zM56 59h1v1h-1zM64 59h1v1h-1zM10 60h2v1h-2zM13 60h1v1h-1zM29 60h1v1h-1zM46 60h1v1h-1zM51 60h1v1h-1zM69 60h1v1h-1zM73 60h1v1h-1zM3 61h1v1h-1zM13 61h1v1h-1zM38 61h1v1h-1zM41 61h1v1h-1zM44 61h1v1h-1zM47 61h1v1h-1zM54 61h1v1h-1zM60 61h1v1h-1zM64 61h1v1h-1zM76 61h1v1h-1zM12 62h1v1h-1zM15 62h1v1h-1zM27 62h1v1h-1zM42 62h1v1h-1zM49 62h2v1h-2zM58 62h1v1h-1zM66 62h1v1h-1zM70 62h2v1h-2zM9 63h1v1h-1zM57 63h1v1h-1zM69 63h1v1h-1zM5 64h1v1h-1zM10 64h1v1h-1zM32 64h1v1h-1zM51 64h1v1h-1zM54 64h1v1h-1zM57 64h1v1h-1zM66 64h1v1h-1zM76 64h1v1h-1zM8 65h1v1h-1zM12 65h1v1h-1zM25 65h1v1h-1zM30 65h1v1h-1zM46 65h1v1h-1zM69 65h1v1h-1zM74 65h1v1h-1zM2 66h2v1h-2zM10 66h1v1h-1zM13 66h1v1h-1zM26 66h1v1h-1zM32 66h1v1h-1zM34 66h1v1h-1zM44 66h1v1h-1zM51 66h1v1h-1zM61 66h1v1h-1zM66 66h1v1h-1zM0 67h1v1h-1zM8 67h1v1h-1zM39 67h2v1h-2zM45 67h1v1h-1zM49 67h1v1h-1zM55 67h1v1h-1zM5 68h1v1h-1zM9 68h1v1h-1zM13 68h2v1h-2zM27 68h1v1h-1zM45 68h1v1h-1zM64 68h1v1h-1zM75 68h1v1h-1zM0 69h1v1h-1zM15 69h2v1h-2zM19 69h1v1h-1zM26 69h1v1h-1zM28 69h2v1h-2zM41 69h1v1h-1zM46 69h1v1h-1zM65 69h1v1h-1zM2 70h1v1h-1zM14 70h1v1h-1zM26 70h1v1h-1zM28 70h1v1h-1zM48 70h1v1h-1zM56 70h1v1h-1zM62 70h1v1h-1zM64 70h1v1h-1zM70 70h1v1h-1zM5 71h2v1h-2zM8 71h1v1h-1zM11 71h1v1h-1zM23 71h1v1h-1zM26 71h1v1h-1zM28 71h1v1h-1zM35 71h1v1h-1zM54 71h1v1h-1zM75 71h1v1h-1zM13 72h1v1h-1zM36 72h1v1h-1zM45 72h1v1h-1zM50 72h1v1h-1zM1 73h1v1h-1zM6 73h3v1h-3zM10 73h1v1h-1zM23 73h1v1h-1zM30 73h1v1h-1zM32 73h1v1h-1zM34 73h1v1h-1zM42 73h1v1h-1zM52 73h1v1h-1zM63 73h2v1h-2zM70 73h1v1h-1zM16 74h1v1h-1zM19 74h1v1h-1zM34 74h1v1h-1zM47 74h2v1h-2zM53 74h1v1h-1zM69 74h1v1h-1zM2 75h1v1h-1zM27 75h1v1h-1zM30 75h1v1h-1zM36 75h1v1h-1zM48 75h1v1h-1zM52 75h1v1h-1zM66 75h1v1h-1zM68 75h1v1h-1zM16 76h1v1h-1zM21 76h1v1h-1zM23 76h1v1h-1zM25 76h1v1h-1zM33 76h1v1h-1zM45 76h1v1h-1zM58 76h1v1h-1zM62 76h1v1h-1zM69 76h1v1h-1zM75 76h2v1h-2z"/>
<path fill="#b8b2ea" d="M0 0h1v1h-1zM16 0h1v1h-1zM24 0h1v1h-1zM27 0h1v1h-1zM30 0h3v1h-3zM39 0h1v1h-1zM60 0h1v1h-1zM0 1h1v1h-1zM6 1h1v1h-1zM26 1h1v1h-1zM36 1h2v1h-2zM55 1h1v1h-1zM57 1h1v1h-1zM66 1h1v1h-1zM70 1h1v1h-1zM75 1h1v1h-1zM0 2h1v1h-1zM4 2h1v1h-1zM8 2h1v1h-1zM31 2h1v1h-1zM38 2h1v1h-1zM41 2h1v1h-1zM50 2h1v1h-1zM55 2h1v1h-1zM64 2h1v1h-1zM67 2h1v1h-1zM69 2h1v1h-1zM3 3h1v1h-1zM16 3h1v1h-1zM32 3h1v1h-1zM36 3h1v1h-1zM61 3h1v1h-1zM24 4h1v1h-1zM29 4h1v1h-1zM39 4h1v1h-1zM49 4h1v1h-1zM51 4h1v1h-1zM71 4h1v1h-1zM1 5h1v1h-1zM9 5h1v1h-1zM12 5h1v1h-1zM23 5h1v1h-1zM37 5h1v1h-1zM39 5h1v1h-1zM47 5h1v1h-1zM56 5h1v1h-1zM67 5h1v1h-1zM3 6h1v1h-1zM9 6h1v1h-1zM34 6h1v1h-1zM51 6h1v1h-1zM65 6h1v1h-1zM20 7h1v1h-1zM37 7h2v1h-2zM47 7h1v1h-1zM53 7h1v1h-1zM55 7h1v1h-1zM59 7h1v1h-1zM70 7h1v1h-1zM72 7h1v1h-1zM3 8h2v1h-2zM16 8h1v1h-1zM20 8h1v1h-1zM34 8h2v1h-2zM39 8h1v1h-1zM55 8h1v1h-1zM58 8h1v1h-1zM17 9h1v1h-1zM27 9h1v1h-1zM53 9h1v1h-1zM0 10h1v1h-1zM16 10h1v1h-1zM30 10h1v1h-1zM44 10h2v1h-2zM49 10h1v1h-1zM64 10h1v1h-1zM7 11h1v1h-1zM19 11h1v1h-1zM43 11h1v1h-1zM68 11h1v1h-1zM11 12h1v1h-1zM50 12h1v1h-1zM59 12h1v1h-1zM73 12h1v1h-1zM0 13h2v1h-2zM7 13h1v1h-1zM12 13h1v1h-1zM17 13h1v1h-1zM31 13h1v1h-1zM38 13h2v1h-2zM48 13h1v1h-1zM56 13h1v1h-1zM68 13h1v1h-1zM19 14h2v1h-2zM39 14h1v1h-1zM41 14h1v1h-1zM43 14h1v1h-1zM48 14h1v1h-1zM2 15h1v1h-1zM13 15h1v1h-1zM16 15h1v1h-1zM37 15h1v1h-1zM47 15h1v1h-1zM59 15h1v1h-1zM65 15h1v1h-1zM70 15h1v1h-1zM75 15h1v1h-1zM15 16h1v1h-1zM19 16h1v1h-1zM39 16h1v1h-1zM53 16h1v1h-1zM56 16h1v1h-1zM59 16h1v1h-1zM66 16h1v1h-1zM71 16h2v1h-2zM74 16h1v1h-1zM0 17h1v1h-1zM6 17h1v1h-1zM25 17h1v1h-1zM31 17h1v1h-1zM49 17h1v1h-1zM57 17h1v1h-1zM62 17h1v1h-1zM6 18h1v1h-1zM18 18h1v1h-1zM21 18h1v1h-1zM30 18h2v1h-2zM53 18h1v1h-1zM3 19h1v1h-1zM5 19h1v1h-1zM7 19h1v1h-1zM25 19h1v1h-1zM32 19h1v1h-1zM44 19h1v1h-1zM58 19h1v1h-1zM60 19h1v1h-1zM64 19h1v1h-1zM70 19h1v1h-1zM6 20h1v1h-1zM12 20h2v1h-2zM55 20h1v1h-1zM75 20h1v1h-1zM7 21h1v1h-1zM10 21h1v1h-1zM21 21h1v1h-1zM28 21h2v1h-2zM60 21h1v1h-1zM1 22h2v1h-2zM6 22h2v1h-2zM9 22h1v1h-1zM15 22h1v1h-1zM18 22h2v1h-2zM24 22h1v1h-1zM26 22h1v1h-1zM35 22h1v1h-1zM40 22h1v1h-1zM47 22h1v1h-1zM76 22h1v1h-1zM3 23h1v1h-1zM6 23h1v1h-1zM9 23h1v1h-1zM11 23h1v1h-1zM21 23h1v1h-1zM25 23h1v1h-1zM41 23h1v1h-1zM52 23h1v1h-1zM55 23h2v1h-2zM71 23h1v1h-1zM73 23h3v1h-3zM7 24h1v1h-1zM20 24h1v1h-1zM36 24h1v1h-1zM49 24h1v1h-1zM5 25h1v1h-1zM17 25h1v1h-1zM23 25h1v1h-1zM26 25h1v1h-1zM37 25h1v1h-1zM45 25h1v1h-1zM51 25h1v1h-1zM68 25h1v1h-1zM72 25h1v1h-1zM1 26h1v1h-1zM3 26h1v1h-1zM9 26h1v1h-1zM19 26h1v1h-1zM25 26h2v1h-2zM29 26h1v1h-1zM31 26h1v1h-1zM37 26h1v1h-1zM49 26h1v1h-1zM67 26h1v1h-1zM69 26h1v1h-1zM8 27h1v1h-1zM12 27h1v1h-1zM19 27h1v1h-1zM29 27h1v1h-1zM34 27h1v1h-1zM41 27h2v1h-2zM44 27h1v1h-1zM49 27h1v1h-1zM54 27h1v1h-1zM56 27h2v1h-2zM64 27h1v1h-1zM66 27h1v1h-1zM74 27h1v1h-1zM3 28h1v1h-1zM15 28h1v1h-1zM22 28h1v1h-1zM24 28h1v1h-1zM53 28h1v1h-1zM12 29h1v1h-1zM30 29h1v1h-1zM34 29h1v1h-1zM46 29h1v1h-1zM9 30h1v1h-1zM16 30h2v1h-2zM24 30h1v1h-1zM36 30h1v1h-1zM48 30h1v1h-1zM53 30h1v1h-1zM75 30h1v1h-1zM8 31h1v1h-1zM19 31h1v1h-1zM24 31h1v1h-1zM31 31h1v1h-1zM53 31h1v1h-1zM72 31h1v1h-1zM12 32h1v1h-1zM14 32h1v1h-1zM16 32h2v1h-2zM24 32h1v1h-1zM26 32h1v1h-1zM30 32h1v1h-1zM37 32h1v1h-1zM45 32h1v1h-1zM47 32h1v1h-1zM63 32h2v1h-2zM72 32h1v1h-1zM0 33h1v1h-1zM2 33h1v1h-1zM6 33h1v1h-1zM15 33h1v1h-1zM19 33h1v1h-1zM23 33h1v1h-1zM32 33h1v1h-1zM37 33h1v1h-1zM43 33h1v1h-1zM46 33h1v1h-1zM58 33h1v1h-1zM26 34h1v1h-1zM39 34h1v1h-1zM41 34h1v1h-1zM62 34h1v1h-1zM71 34h1v1h-1zM73 34h1v1h-1zM0 35h1v1h-1zM2 35h1v1h-1zM18 35h1v1h-1zM24 35h1v1h-1zM37 35h1v1h-1zM42 35h1v1h-1zM49 35h1v1h-1zM51 35h1v1h-1zM60 35h1v1h-1zM76 35h1v1h-1zM8 36h1v1h-1zM12 36h1v1h-1zM14 36h1v1h-1zM21 36h1v1h-1zM28 36h1v1h-1zM42 36h1v1h-1zM21 37h1v1h-1zM32 37h2v1h-2zM48 37h1v1h-1zM76 37h1v1h-1zM3 38h1v1h-1zM28 38h1v1h-1zM42 38h1v1h-1zM44 38h2v1h-2zM47 38h1v1h-1zM58 38h2v1h-2zM66 38h1v1h-1zM71 38h1v1h-1zM73 38h1v1h-1zM1 39h1v1h-1zM7 39h2v1h-2zM24 39h1v1h-1zM40 39h1v1h-1zM47 39h1v1h-1zM55 39h1v1h-1zM66 39h1v1h-1zM75 39h1v1h-1zM10 40h1v1h-1zM16 40h1v1h-1zM38 40h1v1h-1zM43 40h1v1h-1zM46 40h1v1h-1zM59 40h1v1h-1zM66 40h1v1h-1zM73 40h1v1h-1zM7 41h1v1h-1zM9 41h1v1h-1zM17 41h1v1h-1zM25 41h1v1h-1zM37 41h1v1h-1zM43 41h1v1h-1zM50 41h1v1h-1zM55 41h1v1h-1zM59 41h2v1h-2zM62 41h1v1h-1zM5 42h1v1h-1zM7 42h1v1h-1zM11 42h1v1h-1zM25 42h1v1h-1zM40 42h1v1h-1zM44 42h1v1h-1zM53 42h1v1h-1zM72 42h1v1h-1zM75 42h1v1h-1zM1 43h1v1h-1zM4 43h1v1h-1zM7 43h1v1h-1zM18 43h1v1h-1zM43 43h2v1h-2zM47 43h1v1h-1zM52 43h1v1h-1zM54 43h1v1h-1zM58 43h1v1h-1zM62 43h1v1h-1zM9 44h1v1h-1zM13 44h1v1h-1zM15 44h2v1h-2zM29 44h2v1h-2zM39 44h1v1h-1zM41 44h1v1h-1zM49 44h1v1h-1zM52 44h1v1h-1zM56 44h1v1h-1zM61 44h1v1h-1zM67 44h1v1h-1zM75 44h1v1h-1zM1 45h1v1h-1zM7 45h1v1h-1zM32 45h1v1h-1zM36 45h1v1h-1zM45 45h3v1h-3zM50 45h2v1h-2zM59 45h1v1h-1zM66 45h1v1h-1zM74 45h1v1h-1zM10 46h1v1h-1zM13 46h2v1h-2zM22 46h1v1h-1zM30 46h1v1h-1zM53 46h1v1h-1zM57 46h1v1h-1zM60 46h1v1h-1zM10 47h1v1h-1zM12 47h1v1h-1zM14 47h1v1h-1zM18 47h3v1h-3zM28 47h1v1h-1zM52 47h1v1h-1zM58 47h1v1h-1zM64 47h1v1h-1zM71 47h1v1h-1zM3 48h1v1h-1zM23 48h1v1h-1zM26 48h1v1h-1zM28 48h1v1h-1zM34 48h1v1h-1zM41 48h1v1h-1zM43 48h1v1h-1zM62 48h1v1h-1zM68 48h1v1h-1zM70 48h1v1h-1zM74 48h1v1h-1zM1 49h1v1h-1zM22 49h1v1h-1zM35 49h1v1h-1zM53 49h1v1h-1zM58 49h1v1h-1zM69 49h1v1h-1zM3 50h1v1h-1zM19 50h1v1h-1zM25 50h1v1h-1zM27 50h1v1h-1zM30 50h1v1h-1zM48 50h1v1h-1zM53 50h2v1h-2zM13 51h1v1h-1zM16 51h1v1h-1zM19 51h1v1h-1zM29 51h1v1h-1zM33 51h1v1h-1zM41 51h1v1h-1zM44 51h1v1h-1zM46 51h1v1h-1zM51 51h1v1h-1zM61 51h1v1h-1zM1 52h1v1h-1zM8 52h1v1h-1zM27 52h1v1h-1zM40 52h1v1h-1zM69 52h2v1h-2zM22 53h1v1h-1zM25 53h2v1h-2zM28 53h1v1h-1zM33 53h1v1h-1zM36 53h1v1h-1zM40 53h1v1h-1zM62 53h1v1h-1zM64 53h1v1h-1zM4 54h1v1h-1zM13 54h1v1h-1zM29 54h2v1h-2zM40 54h2v1h-2zM46 54h1v1h-1zM51 54h1v1h-1zM66 54h1v1h-1zM75 54h1v1h-1zM0 55h1v1h-1zM21 55h1v1h-1zM32 55h1v1h-1zM41 55h2v1h-2zM44 55h1v1h-1zM46 55h1v1h-1zM49 55h1v1h-1zM4 56h1v1h-1zM9 56h2v1h-2zM35 56h1v1h-1zM39 56h1v1h-1zM58 56h1v1h-1zM60 56h4v1h-4zM65 56h1v1h-1zM75 56h1v1h-1zM32 57h1v1h-1zM35 57h1v1h-1zM37 57h1v1h-1zM45 57h1v1h-1zM54 57h2v1h-2zM74 57h1v1h-1zM5 58h1v1h-1zM17 58h3v1h-3zM21 58h1v1h-1zM39 58h1v1h-1zM45 58h1v1h-1zM56 58h1v1h-1zM60 58h2v1h-2zM3 59h1v1h-1zM6 59h2v1h-2zM10 59h1v1h-1zM23 59h1v1h-1zM25 59h1v1h-1zM28 59h1v1h-1zM34 59h1v1h-1zM40 59h1v1h-1zM46 59h1v1h-1zM50 59h1v1h-1zM54 59h1v1h-1zM68 59h1v1h-1zM5 60h1v1h-1zM30 60h2v1h-2zM64 60h1v1h-1zM75 60h1v1h-1zM17 61h1v1h-1zM20 61h1v1h-1zM63 61h1v1h-1zM67 61h1v1h-1zM21 62h1v1h-1zM25 62h1v1h-1zM30 62h1v1h-1zM43 62h2v1h-2zM51 62h1v1h-1zM69 62h1v1h-1zM74 62h1v1h-1zM5 63h1v1h-1zM8 63h1v1h-1zM10 63h1v1h-1zM15 63h1v1h-1zM22 63h1v1h-1zM29 63h2v1h-2zM45 63h1v1h-1zM49 63h1v1h-1zM58 63h1v1h-1zM61 63h1v1h-1zM3 64h1v1h-1zM14 64h1v1h-1zM16 64h2v1h-2zM29 64h1v1h-1zM37 64h1v1h-1zM39 64h1v1h-1zM47 64h1v1h-1zM75 64h1v1h-1zM0 65h1v1h-1zM2 65h1v1h-1zM7 65h1v1h-1zM11 65h1v1h-1zM16 65h1v1h-1zM23 65h2v1h-2zM32 65h2v1h-2zM35 65h1v1h-1zM42 65h1v1h-1zM47 65h1v1h-1zM56 65h1v1h-1zM58 65h1v1h-1zM73 65h1v1h-1zM12 66h1v1h-1zM21 66h1v1h-1zM27 66h1v1h-1zM31 66h1v1h-1zM37 66h1v1h-1zM46 66h2v1h-2zM65 66h1v1h-1zM20 67h1v1h-1zM25 67h1v1h-1zM27 67h1v1h-1zM43 67h1v1h-1zM75 67h1v1h-1zM7 68h1v1h-1zM10 68h1v1h-1zM15 68h1v1h-1zM17 68h3v1h-3zM28 68h1v1h-1zM31 68h1v1h-1zM48 68h3v1h-3zM56 68h1v1h-1zM61 68h1v1h-1zM73 68h1v1h-1zM9 69h1v1h-1zM12 69h1v1h-1zM30 69h1v1h-1zM33 69h1v1h-1zM44 69h1v1h-1zM10 70h1v1h-1zM23 70h1v1h-1zM38 70h2v1h-2zM44 70h1v1h-1zM61 70h1v1h-1zM41 71h2v1h-2zM49 71h1v1h-1zM76 71h1v1h-1zM6 72h1v1h-1zM22 72h1v1h-1zM24 72h1v1h-1zM35 72h1v1h-1zM41 72h1v1h-1zM43 72h1v1h-1zM54 72h1v1h-1zM61 72h1v1h-1zM9 73h1v1h-1zM19 73h1v1h-1zM25 73h2v1h-2zM37 73h1v1h-1zM39 73h1v1h-1zM48 73h1v1h-1zM53 73h1v1h-1zM55 73h1v1h-1zM57 73h1v1h-1zM62 73h1v1h-1zM69 73h1v1h-1zM71 73h1v1h-1zM5 74h1v1h-1zM18 74h1v1h-1zM28 74h1v1h-1zM55 74h1v1h-1zM63 74h1v1h-1zM74 74h2v1h-2zM6 75h1v1h-1zM15 75h1v1h-1zM19 75h1v1h-1zM22 75h1v1h-1zM24 75h1v1h-1zM32 75h1v1h-1zM38 75h1v1h-1zM43 75h1v1h-1zM45 75h1v1h-1zM60 75h1v1h-1zM63 75h1v1h-1zM69 75h1v1h-1zM11 76h1v1h-1zM28 76h3v1h-3zM42 76h1v1h-1zM47 76h1v1h-1zM57 76h1v1h-1zM63 76h2v1h-2zM68 76h1v1h-1zM71 76h1v1h-1z"/>
<path fill="#faf9fb" d="M3 0h1v1h-1zM5 0h1v1h-1zM11 0h1v1h-1zM14 0h1v1h-1zM23 0h1v1h-1zM25 0h1v1h-1zM28 0h1v1h-1zM33 0h2v1h-2zM43 0h1v1h-1zM47 0h1v1h-1zM50 0h1v1h-1zM57 0h1v1h-1zM59 0h1v1h-1zM64 0h2v1h-2zM69 0h1v1h-1zM76 0h1v1h-1zM10 1h2v1h-2zM22 1h1v1h-1zM29 1h2v1h-2zM34 1h1v1h-1zM43 1h1v1h-1zM50 1h1v1h-1zM53 1h1v1h-1zM58 1h1v1h-1zM60 1h2v1h-2zM64 1h2v1h-2zM10 2h1v1h-1zM12 2h1v1h-1zM15 2h1v1h-1zM18 2h1v1h-1zM20 2h1v1h-1zM23 2h2v1h-2zM36 2h2v1h-2zM40 2h1v1h-1zM44 2h1v1h-1zM46 2h1v1h-1zM51 2h1v1h-1zM54 2h1v1h-1zM59 2h1v1h-1zM73 2h3v1h-3zM11 3h1v1h-1zM14 3h1v1h-1zM18 3h1v1h-1zM22 3h2v1h-2zM34 3h1v1h-1zM37 3h1v1h-1zM41 3h1v1h-1zM44 3h2v1h-2zM52 3h1v1h-1zM54 3h2v1h-2zM67 3h1v1h-1zM69 3h2v1h-2zM72 3h1v1h-1zM74 3h1v1h-1zM1 4h4v1h-4zM7 4h2v1h-2zM12 4h1v1h-1zM14 4h1v1h-1zM20 4h1v1h-1zM33 4h1v1h-1zM37 4h1v1h-1zM42 4h1v1h-1zM50 4h1v1h-1zM54 4h1v1h-1zM61 4h4v1h-4zM67 4h1v1h-1zM70 4h1v1h-1zM73 4h1v1h-1zM75 4h2v1h-2zM6 5h1v1h-1zM13 5h1v1h-1zM17 5h1v1h-1zM26 5h1v1h-1zM29 5h1v1h-1zM38 5h1v1h-1zM45 5h1v1h-1zM53 5h1v1h-1zM61 5h1v1h-1zM64 5h1v1h-1zM66 5h1v1h-1zM68 5h1v1h-1zM74 5h1v1h-1zM76 5h1v1h-1zM0 6h1v1h-1zM4 6h1v1h-1zM10 6h1v1h-1zM12 6h1v1h-1zM14 6h1v1h-1zM24 6h2v1h-2zM37 6h1v1h-1zM39 6h1v1h-1zM42 6h4v1h-4zM50 6h1v1h-1zM53 6h1v1h-1zM61 6h1v1h-1zM64 6h1v1h-1zM68 6h1v1h-1zM70 6h3v1h-3zM6 7h1v1h-1zM15 7h2v1h-2zM27 7h2v1h-2zM34 7h1v1h-1zM40 7h1v1h-1zM44 7h1v1h-1zM51 7h1v1h-1zM58 7h1v1h-1zM66 7h2v1h-2zM74 7h1v1h-1zM1 8h1v1h-1zM6 8h1v1h-1zM8 8h1v1h-1zM11 8h1v1h-1zM13 8h1v1h-1zM26 8h1v1h-1zM31 8h1v1h-1zM33 8h1v1h-1zM41 8h1v1h-1zM48 8h2v1h-2zM52 8h1v1h-1zM61 8h1v1h-1zM70 8h1v1h-1zM2 9h1v1h-1zM6 9h1v1h-1zM10 9h1v1h-1zM15 9h2v1h-2zM19 9h1v1h-1zM25 9h1v1h-1zM35 9h1v1h-1zM39 9h1v1h-1zM41 9h1v1h-1zM50 9h1v1h-1zM52 9h1v1h-1zM57 9h3v1h-3zM61 9h2v1h-2zM68 9h1v1h-1zM76 9h1v1h-1zM1 10h1v1h-1zM4 10h1v1h-1zM9 10h4v1h-4zM18 10h2v1h-2zM37 10h1v1h-1zM40 10h1v1h-1zM50 10h1v1h-1zM55 10h1v1h-1zM57 10h1v1h-1zM67 10h1v1h-1zM70 10h1v1h-1zM75 10h1v1h-1zM6 11h1v1h-1zM12 11h1v1h-1zM18 11h1v1h-1zM20 11h1v1h-1zM24 11h1v1h-1zM35 11h1v1h-1zM37 11h2v1h-2zM48 11h2v1h-2zM56 11h1v1h-1zM59 11h1v1h-1zM62 11h2v1h-2zM65 11h2v1h-2zM69 11h1v1h-1zM72 11h1v1h-1zM74 11h1v1h-1zM1 12h1v1h-1zM13 12h1v1h-1zM16 12h1v1h-1zM24 12h1v1h-1zM29 12h1v1h-1zM32 12h2v1h-2zM40 12h1v1h-1zM42 12h1v1h-1zM48 12h1v1h-1zM52 12h1v1h-1zM55 12h1v1h-1zM61 12h1v1h-1zM68 12h1v1h-1zM70 12h1v1h-1zM74 12h1v1h-1zM76 12h1v1h-1zM8 13h2v1h-2zM11 13h1v1h-1zM13 13h1v1h-1zM15 13h1v1h-1zM22 13h1v1h-1zM27 13h1v1h-1zM29 13h1v1h-1zM32 13h1v1h-1zM42 13h1v1h-1zM45 13h1v1h-1zM51 13h1v1h-1zM55 13h1v1h-1zM57 13h1v1h-1zM64 13h2v1h-2zM69 13h1v1h-1zM72 13h1v1h-1zM74 13h1v1h-1zM76 13h1v1h-1zM1 14h1v1h-1zM7 14h1v1h-1zM13 14h1v1h-1zM21 14h1v1h-1zM23 14h2v1h-2zM27 14h1v1h-1zM29 14h1v1h-1zM37 14h1v1h-1zM46 14h1v1h-1zM50 14h2v1h-2zM54 14h1v1h-1zM62 14h1v1h-1zM65 14h1v1h-1zM68 14h1v1h-1zM70 14h1v1h-1zM4 15h2v1h-2zM11 15h1v1h-1zM15 15h1v1h-1zM19 15h1v1h-1zM21 15h1v1h-1zM26 15h3v1h-3zM30 15h1v1h-1zM40 15h1v1h-1zM45 15h1v1h-1zM50 15h1v1h-1zM60 15h1v1h-1zM66 15h1v1h-1zM74 15h1v1h-1zM3 16h1v1h-1zM8 16h1v1h-1zM14 16h1v1h-1zM22 16h1v1h-1zM30 16h1v1h-1zM34 16h1v1h-1zM42 16h3v1h-3zM48 16h1v1h-1zM50 16h1v1h-1zM52 16h1v1h-1zM54 16h2v1h-2zM58 16h1v1h-1zM65 16h1v1h-1zM67 16h3v1h-3zM73 16h1v1h-1zM1 17h1v1h-1zM5 17h1v1h-1zM12 17h1v1h-1zM18 17h3v1h-3zM23 17h1v1h-1zM27 17h1v1h-1zM33 17h1v1h-1zM38 17h1v1h-1zM41 17h1v1h-1zM48 17h1v1h-1zM55 17h1v1h-1zM59 17h1v1h-1zM64 17h1v1h-1zM67 17h1v1h-1zM75 17h2v1h-2zM4 18h1v1h-1zM14 18h2v1h-2zM22 18h1v1h-1zM28 18h1v1h-1zM33 18h1v1h-1zM38 18h1v1h-1zM43 18h1v1h-1zM50 18h1v1h-1zM52 18h1v1h-1zM56 18h1v1h-1zM60 18h1v1h-1zM68 18h2v1h-2zM76 18h1v1h-1zM4 19h1v1h-1zM9 19h1v1h-1zM19 19h1v1h-1zM27 19h1v1h-1zM29 19h1v1h-1zM31 19h1v1h-1zM33 19h1v1h-1zM36 19h1v1h-1zM41 19h1v1h-1zM45 19h2v1h-2zM49 19h1v1h-1zM56 19h1v1h-1zM63 19h1v1h-1zM67 19h1v1h-1zM75 19h1v1h-1zM7 20h1v1h-1zM9 20h2v1h-2zM15 20h1v1h-1zM17 20h1v1h-1zM25 20h1v1h-1zM27 20h1v1h-1zM29 20h1v1h-1zM41 20h1v1h-1zM49 20h2v1h-2zM53 20h1v1h-1zM56 20h1v1h-1zM61 20h2v1h-2zM64 20h1v1h-1zM69 20h1v1h-1zM71 20h1v1h-1zM14 21h3v1h-3zM26 21h2v1h-2zM35 21h1v1h-1zM39 21h1v1h-1zM43 21h1v1h-1zM46 21h1v1h-1zM48 21h1v1h-1zM50 21h1v1h-1zM58 21h2v1h-2zM75 21h1v1h-1zM3 22h1v1h-1zM5 22h1v1h-1zM11 22h3v1h-3zM28 22h2v1h-2zM31 22h1v1h-1zM41 22h4v1h-4zM46 22h1v1h-1zM48 22h2v1h-2zM54 22h3v1h-3zM69 22h4v1h-4zM4 23h1v1h-1zM13 23h2v1h-2zM26 23h1v1h-1zM34 23h1v1h-1zM38 23h1v1h-1zM42 23h1v1h-1zM44 23h3v1h-3zM53 23h1v1h-1zM57 23h1v1h-1zM63 23h1v1h-1zM68 23h2v1h-2zM76 23h1v1h-1zM1 24h1v1h-1zM8 24h1v1h-1zM14 24h1v1h-1zM18 24h1v1h-1zM22 24h1v1h-1zM30 24h1v1h-1zM37 24h2v1h-2zM40 24h2v1h-2zM44 24h1v1h-1zM47 24h1v1h-1zM50 24h1v1h-1zM56 24h3v1h-3zM62 24h2v1h-2zM66 24h1v1h-1zM68 24h1v1h-1zM10 25h1v1h-1zM13 25h1v1h-1zM16 25h1v1h-1zM18 25h1v1h-1zM34 25h1v1h-1zM36 25h1v1h-1zM40 25h1v1h-1zM42 25h2v1h-2zM50 25h1v1h-1zM55 25h1v1h-1zM59 25h1v1h-1zM61 25h1v1h-1zM66 25h2v1h-2zM69 25h1v1h-1zM74 25h2v1h-2zM11 26h1v1h-1zM21 26h1v1h-1zM32 26h1v1h-1zM38 26h3v1h-3zM43 26h1v1h-1zM45 26h1v1h-1zM47 26h1v1h-1zM51 26h2v1h-2zM55 26h1v1h-1zM61 26h1v1h-1zM65 26h1v1h-1zM68 26h1v1h-1zM71 26h1v1h-1zM75 26h1v1h-1zM0 27h2v1h-2zM4 27h1v1h-1zM7 27h1v1h-1zM9 27h1v1h-1zM13 27h1v1h-1zM22 27h1v1h-1zM24 27h2v1h-2zM28 27h1v1h-1zM35 27h1v1h-1zM50 27h1v1h-1zM53 27h1v1h-1zM55 27h1v1h-1zM65 27h1v1h-1zM68 27h1v1h-1zM8 28h1v1h-1zM16 28h2v1h-2zM19 28h2v1h-2zM27 28h1v1h-1zM34 28h1v1h-1zM36 28h1v1h-1zM44 28h1v1h-1zM48 28h1v1h-1zM50 28h1v1h-1zM52 28h1v1h-1zM56 28h1v1h-1zM62 28h1v1h-1zM71 28h1v1h-1zM76 28h1v1h-1zM3 29h1v1h-1zM13 29h1v1h-1zM17 29h1v1h-1zM20 29h1v1h-1zM22 29h2v1h-2zM25 29h1v1h-1zM29 29h1v1h-1zM32 29h1v1h-1zM39 29h1v1h-1zM44 29h1v1h-1zM50 29h1v1h-1zM54 29h1v1h-1zM59 29h1v1h-1zM71 29h1v1h-1zM4 30h1v1h-1zM14 30h1v1h-1zM20 30h1v1h-1zM23 30h1v1h-1zM26 30h1v1h-1zM28 30h1v1h-1zM32 30h1v1h-1zM34 30h1v1h-1zM41 30h1v1h-1zM43 30h2v1h-2zM50 30h1v1h-1zM52 30h1v1h-1zM54 30h1v1h-1zM63 30h1v1h-1zM70 30h1v1h-1zM73 30h1v1h-1zM3 31h1v1h-1zM6 31h1v1h-1zM9 31h1v1h-1zM13 31h1v1h-1zM15 31h1v1h-1zM21 31h1v1h-1zM25 31h1v1h-1zM27 31h1v1h-1zM40 31h1v1h-1zM42 31h1v1h-1zM44 31h1v1h-1zM56 31h1v1h-1zM62 31h1v1h-1zM66 31h2v1h-2zM75 31h1v1h-1zM3 32h1v1h-1zM6 32h2v1h-2zM13 32h1v1h-1zM15 32h1v1h-1zM22 32h1v1h-1zM29 32h1v1h-1zM34 32h1v1h-1zM43 32h1v1h-1zM46 32h1v1h-1zM50 32h3v1h-3zM59 32h3v1h-3zM8 33h2v1h-2zM14 33h1v1h-1zM17 33h1v1h-1zM22 33h1v1h-1zM24 33h1v1h-1zM33 33h3v1h-3zM67 33h1v1h-1zM70 33h1v1h-1zM74 33h1v1h-1zM76 33h1v1h-1zM2 34h1v1h-1zM9 34h1v1h-1zM17 34h1v1h-1zM21 34h1v1h-1zM31 34h1v1h-1zM33 34h2v1h-2zM42 34h1v1h-1zM45 34h1v1h-1zM56 34h1v1h-1zM64 34h1v1h-1zM69 34h1v1h-1zM72 34h1v1h-1zM6 35h1v1h-1zM10 35h1v1h-1zM12 35h2v1h-2zM19 35h1v1h-1zM27 35h2v1h-2zM32 35h2v1h-2zM40 35h1v1h-1zM45 35h1v1h-1zM50 35h1v1h-1zM66 35h1v1h-1zM69 35h3v1h-3zM74 35h2v1h-2zM19 36h1v1h-1zM22 36h1v1h-1zM27 36h1v1h-1zM30 36h1v1h-1zM32 36h1v1h-1zM45 36h1v1h-1zM47 36h1v1h-1zM49 36h1v1h-1zM52 36h2v1h-2zM55 36h2v1h-2zM58 36h1v1h-1zM63 36h1v1h-1zM68 36h1v1h-1zM71 36h1v1h-1zM1 37h1v1h-1zM4 37h1v1h-1zM13 37h2v1h-2zM26 37h1v1h-1zM29 37h1v1h-1zM31 37h1v1h-1zM34 37h1v1h-1zM43 37h2v1h-2zM50 37h3v1h-3zM68 37h1v1h-1zM5 38h1v1h-1zM9 38h1v1h-1zM20 38h2v1h-2zM25 38h1v1h-1zM34 38h1v1h-1zM37 38h1v1h-1zM39 38h2v1h-2zM49 38h1v1h-1zM52 38h1v1h-1zM56 38h1v1h-1zM61 38h2v1h-2zM70 38h1v1h-1zM72 38h1v1h-1zM2 39h1v1h-1zM4 39h1v1h-1zM17 39h1v1h-1zM22 39h1v1h-1zM27 39h2v1h-2zM30 39h1v1h-1zM35 39h2v1h-2zM42 39h2v1h-2zM52 39h1v1h-1zM61 39h1v1h-1zM67 39h1v1h-1zM70 39h1v1h-1zM72 39h1v1h-1zM74 39h1v1h-1zM76 39h1v1h-1zM0 40h3v1h-3zM6 40h2v1h-2zM9 40h1v1h-1zM11 40h1v1h-1zM21 40h1v1h-1zM23 40h2v1h-2zM30 40h3v1h-3zM37 40h1v1h-1zM45 40h1v1h-1zM48 40h1v1h-1zM52 40h2v1h-2zM56 40h1v1h-1zM63 40h1v1h-1zM75 40h2v1h-2zM4 41h2v1h-2zM8 41h1v1h-1zM11 41h1v1h-1zM15 41h1v1h-1zM26 41h1v1h-1zM29 41h1v1h-1zM35 41h2v1h-2zM39 41h1v1h-1zM46 41h3v1h-3zM52 41h1v1h-1zM61 41h1v1h-1zM65 41h2v1h-2zM68 41h1v1h-1zM73 41h1v1h-1zM75 41h1v1h-1zM1 42h2v1h-2zM9 42h1v1h-1zM14 42h1v1h-1zM21 42h2v1h-2zM26 42h2v1h-2zM42 42h1v1h-1zM46 42h1v1h-1zM50 42h1v1h-1zM61 42h1v1h-1zM64 42h1v1h-1zM69 42h1v1h-1zM76 42h1v1h-1zM6 43h1v1h-1zM15 43h1v1h-1zM20 43h1v1h-1zM29 43h2v1h-2zM32 43h1v1h-1zM42 43h1v1h-1zM46 43h1v1h-1zM49 43h1v1h-1zM53 43h1v1h-1zM60 43h2v1h-2zM65 43h2v1h-2zM76 43h1v1h-1zM2 44h1v1h-1zM17 44h1v1h-1zM24 44h1v1h-1zM26 44h1v1h-1zM32 44h1v1h-1zM51 44h1v1h-1zM59 44h1v1h-1zM62 44h1v1h-1zM65 44h1v1h-1zM68 44h1v1h-1zM74 44h1v1h-1zM2 45h2v1h-2zM16 45h1v1h-1zM20 45h2v1h-2zM24 45h4v1h-4zM29 45h2v1h-2zM39 45h1v1h-1zM56 45h2v1h-2zM62 45h1v1h-1zM65 45h1v1h-1zM67 45h4v1h-4zM5 46h1v1h-1zM17 46h2v1h-2zM27 46h2v1h-2zM37 46h1v1h-1zM40 46h4v1h-4zM48 46h1v1h-1zM50 46h1v1h-1zM52 46h1v1h-1zM54 46h1v1h-1zM64 46h1v1h-1zM70 46h1v1h-1zM5 47h1v1h-1zM13 47h1v1h-1zM29 47h1v1h-1zM33 47h1v1h-1zM40 47h2v1h-2zM44 47h3v1h-3zM51 47h1v1h-1zM54 47h1v1h-1zM59 47h1v1h-1zM72 47h1v1h-1zM0 48h1v1h-1zM6 48h1v1h-1zM9 48h1v1h-1zM15 48h2v1h-2zM21 48h2v1h-2zM33 48h1v1h-1zM36 48h1v1h-1zM39 48h2v1h-2zM49 48h1v1h-1zM53 48h1v1h-1zM61 48h1v1h-1zM65 48h1v1h-1zM67 48h1v1h-1zM72 48h1v1h-1zM76 48h1v1h-1zM0 49h1v1h-1zM3 49h1v1h-1zM16 49h1v1h-1zM18 49h3v1h-3zM24 49h1v1h-1zM27 49h1v1h-1zM32 49h2v1h-2zM41 49h1v1h-1zM47 49h1v1h-1zM51 49h1v1h-1zM61 49h1v1h-1zM64 49h1v1h-1zM75 49h1v1h-1zM0 50h1v1h-1zM4 50h1v1h-1zM6 50h1v1h-1zM9 50h1v1h-1zM14 50h2v1h-2zM23 50h1v1h-1zM28 50h2v1h-2zM33 50h1v1h-1zM39 50h2v1h-2zM43 50h1v1h-1zM45 50h1v1h-1zM47 50h1v1h-1zM49 50h1v1h-1zM52 50h1v1h-1zM59 50h1v1h-1zM65 50h1v1h-1zM76 50h1v1h-1zM2 51h1v1h-1zM5 51h3v1h-3zM22 51h1v1h-1zM27 51h1v1h-1zM35 51h1v1h-1zM52 51h1v1h-1zM54 51h1v1h-1zM56 51h2v1h-2zM65 51h1v1h-1zM68 51h1v1h-1zM72 51h1v1h-1zM75 51h1v1h-1zM0 52h1v1h-1zM18 52h1v1h-1zM20 52h1v1h-1zM26 52h1v1h-1zM29 52h1v1h-1zM36 52h1v1h-1zM43 52h2v1h-2zM47 52h1v1h-1zM53 52h1v1h-1zM57 52h1v1h-1zM62 52h1v1h-1zM68 52h1v1h-1zM71 52h1v1h-1zM2 53h1v1h-1zM5 53h1v1h-1zM10 53h1v1h-1zM15 53h1v1h-1zM18 53h2v1h-2zM24 53h1v1h-1zM29 53h2v1h-2zM39 53h1v1h-1zM41 53h1v1h-1zM50 53h1v1h-1zM53 53h1v1h-1zM56 53h1v1h-1zM58 53h1v1h-1zM72 53h1v1h-1zM76 53h1v1h-1zM0 54h2v1h-2zM10 54h1v1h-1zM15 54h1v1h-1zM17 54h1v1h-1zM22 54h5v1h-5zM34 54h1v1h-1zM37 54h1v1h-1zM39 54h1v1h-1zM52 54h3v1h-3zM59 54h1v1h-1zM61 54h1v1h-1zM63 54h1v1h-1zM65 54h1v1h-1zM67 54h1v1h-1zM70 54h1v1h-1zM73 54h1v1h-1zM3 55h1v1h-1zM10 55h4v1h-4zM19 55h1v1h-1zM25 55h2v1h-2zM30 55h2v1h-2zM34 55h3v1h-3zM45 55h1v1h-1zM56 55h1v1h-1zM59 55h1v1h-1zM62 55h1v1h-1zM65 55h1v1h-1zM68 55h1v1h-1zM6 56h2v1h-2zM19 56h3v1h-3zM24 56h1v1h-1zM26 56h2v1h-2zM30 56h1v1h-1zM33 56h1v1h-1zM42 56h1v1h-1zM44 56h1v1h-1zM48 56h1v1h-1zM50 56h1v1h-1zM52 56h1v1h-1zM55 56h3v1h-3zM72 56h1v1h-1zM74 56h1v1h-1zM76 56h1v1h-1zM10 57h1v1h-1zM15 57h1v1h-1zM22 57h3v1h-3zM26 57h2v1h-2zM31 57h1v1h-1zM38 57h1v1h-1zM58 57h1v1h-1zM62 57h1v1h-1zM64 57h1v1h-1zM69 57h2v1h-2zM2 58h2v1h-2zM6 58h1v1h-1zM12 58h1v1h-1zM22 58h3v1h-3zM32 58h2v1h-2zM41 58h1v1h-1zM44 58h1v1h-1zM46 58h1v1h-1zM49 58h1v1h-1zM57 58h1v1h-1zM63 58h1v1h-1zM66 58h1v1h-1zM69 58h2v1h-2zM73 58h3v1h-3zM4 59h1v1h-1zM11 59h2v1h-2zM17 59h1v1h-1zM20 59h1v1h-1zM22 59h1v1h-1zM24 59h1v1h-1zM26 59h1v1h-1zM31 59h2v1h-2zM37 59h1v1h-1zM45 59h1v1h-1zM48 59h2v1h-2zM52 59h2v1h-2zM57 59h3v1h-3zM71 59h1v1h-1zM1 60h1v1h-1zM4 60h1v1h-1zM6 60h2v1h-2zM9 60h1v1h-1zM23 60h2v1h-2zM27 60h1v1h-1zM32 60h1v1h-1zM36 60h1v1h-1zM38 60h1v1h-1zM41 60h1v1h-1zM44 60h1v1h-1zM49 60h1v1h-1zM54 60h3v1h-3zM58 60h1v1h-1zM63 60h1v1h-1zM65 60h1v1h-1zM67 60h1v1h-1zM74 60h1v1h-1zM1 61h1v1h-1zM5 61h2v1h-2zM10 61h1v1h-1zM12 61h1v1h-1zM21 61h2v1h-2zM25 61h1v1h-1zM30 61h1v1h-1zM34 61h1v1h-1zM39 61h1v1h-1zM43 61h1v1h-1zM50 61h2v1h-2zM66 61h1v1h-1zM72 61h2v1h-2zM2 62h1v1h-1zM7 62h1v1h-1zM10 62h1v1h-1zM19 62h1v1h-1zM23 62h1v1h-1zM31 62h2v1h-2zM37 62h1v1h-1zM46 62h2v1h-2zM53 62h1v1h-1zM62 62h1v1h-1zM64 62h1v1h-1zM72 62h1v1h-1zM0 63h1v1h-1zM3 63h2v1h-2zM11 63h2v1h-2zM24 63h3v1h-3zM33 63h1v1h-1zM36 63h1v1h-1zM39 63h1v1h-1zM41 63h1v1h-1zM44 63h1v1h-1zM48 63h1v1h-1zM51 63h1v1h-1zM59 63h1v1h-1zM72 63h1v1h-1zM74 63h1v1h-1zM0 64h1v1h-1zM2 64h1v1h-1zM9 64h1v1h-1zM11 64h2v1h-2zM15 64h1v1h-1zM18 64h1v1h-1zM25 64h1v1h-1zM27 64h2v1h-2zM30 64h1v1h-1zM38 64h1v1h-1zM41 64h2v1h-2zM44 64h1v1h-1zM46 64h1v1h-1zM48 64h2v1h-2zM56 64h1v1h-1zM71 64h1v1h-1zM73 64h1v1h-1zM1 65h1v1h-1zM9 65h1v1h-1zM13 65h1v1h-1zM15 65h1v1h-1zM17 65h1v1h-1zM22 65h1v1h-1zM27 65h3v1h-3zM31 65h1v1h-1zM38 65h1v1h-1zM44 65h1v1h-1zM51 65h1v1h-1zM57 65h1v1h-1zM60 65h1v1h-1zM65 65h1v1h-1zM67 65h2v1h-2zM6 66h1v1h-1zM8 66h2v1h-2zM11 66h1v1h-1zM14 66h1v1h-1zM19 66h1v1h-1zM22 66h2v1h-2zM35 66h2v1h-2zM40 66h2v1h-2zM58 66h1v1h-1zM68 66h1v1h-1zM73 66h4v1h-4zM1 67h1v1h-1zM4 67h2v1h-2zM9 67h2v1h-2zM12 67h1v1h-1zM23 67h1v1h-1zM46 67h2v1h-2zM50 67h1v1h-1zM56 67h1v1h-1zM61 67h1v1h-1zM63 67h4v1h-4zM68 67h1v1h-1zM70 67h2v1h-2zM74 67h1v1h-1zM0 68h1v1h-1zM3 68h2v1h-2zM12 68h1v1h-1zM20 68h2v1h-2zM46 68h1v1h-1zM65 68h1v1h-1zM71 68h1v1h-1zM4 69h1v1h-1zM8 69h1v1h-1zM23 69h1v1h-1zM27 69h1v1h-1zM37 69h1v1h-1zM47 69h1v1h-1zM54 69h1v1h-1zM56 69h1v1h-1zM60 69h2v1h-2zM76 69h1v1h-1zM0 70h1v1h-1zM4 70h1v1h-1zM7 70h1v1h-1zM9 70h1v1h-1zM12 70h2v1h-2zM17 70h2v1h-2zM29 70h2v1h-2zM32 70h1v1h-1zM40 70h1v1h-1zM43 70h1v1h-1zM52 70h1v1h-1zM54 70h1v1h-1zM58 70h1v1h-1zM60 70h1v1h-1zM63 70h1v1h-1zM67 70h1v1h-1zM69 70h1v1h-1zM73 70h2v1h-2zM76 70h1v1h-1zM1 71h1v1h-1zM7 71h1v1h-1zM9 71h1v1h-1zM12 71h2v1h-2zM19 71h2v1h-2zM22 71h1v1h-1zM27 71h1v1h-1zM33 71h2v1h-2zM36 71h1v1h-1zM39 71h1v1h-1zM43 71h2v1h-2zM48 71h1v1h-1zM51 71h1v1h-1zM56 71h1v1h-1zM62 71h1v1h-1zM67 71h2v1h-2zM70 71h3v1h-3zM0 72h1v1h-1zM4 72h1v1h-1zM10 72h2v1h-2zM17 72h1v1h-1zM23 72h1v1h-1zM27 72h1v1h-1zM38 72h1v1h-1zM46 72h1v1h-1zM49 72h1v1h-1zM51 72h1v1h-1zM60 72h1v1h-1zM67 72h2v1h-2zM70 72h1v1h-1zM72 72h1v1h-1zM74 72h1v1h-1zM5 73h1v1h-1zM11 73h1v1h-1zM13 73h2v1h-2zM17 73h1v1h-1zM27 73h1v1h-1zM36 73h1v1h-1zM38 73h1v1h-1zM40 73h1v1h-1zM45 73h2v1h-2zM56 73h1v1h-1zM59 73h1v1h-1zM65 73h1v1h-1zM74 73h1v1h-1zM76 73h1v1h-1zM4 74h1v1h-1zM7 74h1v1h-1zM10 74h1v1h-1zM20 74h1v1h-1zM26 74h1v1h-1zM37 74h1v1h-1zM40 74h1v1h-1zM44 74h3v1h-3zM49 74h1v1h-1zM51 74h1v1h-1zM56 74h1v1h-1zM58 74h1v1h-1zM61 74h1v1h-1zM68 74h1v1h-1zM71 74h2v1h-2zM3 75h1v1h-1zM10 75h1v1h-1zM16 75h1v1h-1zM18 75h1v1h-1zM23 75h1v1h-1zM26 75h1v1h-1zM31 75h1v1h-1zM51 75h1v1h-1zM56 75h1v1h-1zM58 75h2v1h-2zM65 75h1v1h-1zM67 75h1v1h-1zM74 75h2v1h-2zM6 76h2v1h-2zM26 76h1v1h-1zM44 76h1v1h-1zM46 76h1v1h-1zM50 76h2v1h-2zM53 76h2v1h-2zM60 76h1v1h-1zM72 76h1v1h-1z"/>
<path fill="#f0c8cd" d="M4 0h1v1h-1zM21 0h1v1h-1zM29 0h1v1h-1zM37 0h1v1h-1zM51 0h1v1h-1zM54 0h2v1h-2zM61 0h1v1h-1zM66 0h1v1h-1zM68 0h1v1h-1zM70 0h1v1h-1zM1 1h1v1h-1zM4 1h1v1h-1zM7 1h1v1h-1zM9 1h1v1h-1zM12 1h1v1h-1zM20 1h2v1h-2zM25 1h1v1h-1zM27 1h2v1h-2zM31 1h1v1h-1zM38 1h1v1h-1zM56 1h1v1h-1zM62 1h1v1h-1zM69 1h1v1h-1zM3 2h1v1h-1zM7 2h1v1h-1zM11 2h1v1h-1zM30 2h1v1h-1zM35 2h1v1h-1zM45 2h1v1h-1zM62 2h1v1h-1zM4 3h1v1h-1zM15 3h1v1h-1zM20 3h1v1h-1zM46 3h1v1h-1zM64 3h1v1h-1zM68 3h1v1h-1zM9 4h2v1h-2zM16 4h1v1h-1zM22 4h1v1h-1zM25 4h1v1h-1zM35 4h1v1h-1zM58 4h2v1h-2zM68 4h1v1h-1zM3 5h2v1h-2zM10 5h2v1h-2zM14 5h1v1h-1zM21 5h1v1h-1zM36 5h1v1h-1zM40 5h1v1h-1zM46 5h1v1h-1zM11 6h1v1h-1zM13 6h1v1h-1zM19 6h2v1h-2zM23 6h1v1h-1zM30 6h1v1h-1zM35 6h2v1h-2zM38 6h1v1h-1zM40 6h1v1h-1zM48 6h1v1h-1zM57 6h1v1h-1zM59 6h1v1h-1zM67 6h1v1h-1zM74 6h1v1h-1zM1 7h1v1h-1zM19 7h1v1h-1zM22 7h2v1h-2zM25 7h1v1h-1zM31 7h1v1h-1zM43 7h1v1h-1zM45 7h1v1h-1zM54 7h1v1h-1zM2 8h1v1h-1zM14 8h1v1h-1zM32 8h1v1h-1zM37 8h2v1h-2zM50 8h1v1h-1zM63 8h1v1h-1zM12 9h2v1h-2zM34 9h1v1h-1zM38 9h1v1h-1zM45 9h1v1h-1zM60 9h1v1h-1zM65 9h1v1h-1zM73 9h1v1h-1zM2 10h1v1h-1zM5 10h1v1h-1zM14 10h2v1h-2zM22 10h1v1h-1zM31 10h2v1h-2zM41 10h1v1h-1zM43 10h1v1h-1zM47 10h1v1h-1zM54 10h1v1h-1zM59 10h1v1h-1zM0 11h1v1h-1zM10 11h2v1h-2zM15 11h1v1h-1zM28 11h5v1h-5zM39 11h3v1h-3zM47 11h1v1h-1zM57 11h1v1h-1zM61 11h1v1h-1zM71 11h1v1h-1zM75 11h1v1h-1zM3 12h1v1h-1zM5 12h1v1h-1zM14 12h1v1h-1zM22 12h2v1h-2zM28 12h1v1h-1zM34 12h1v1h-1zM43 12h1v1h-1zM51 12h1v1h-1zM56 12h1v1h-1zM58 12h1v1h-1zM62 12h1v1h-1zM69 12h1v1h-1zM2 13h1v1h-1zM5 13h1v1h-1zM14 13h1v1h-1zM20 13h1v1h-1zM28 13h1v1h-1zM34 13h1v1h-1zM36 13h1v1h-1zM40 13h1v1h-1zM53 13h1v1h-1zM75 13h1v1h-1zM10 14h3v1h-3zM16 14h1v1h-1zM18 14h1v1h-1zM22 14h1v1h-1zM25 14h2v1h-2zM31 14h2v1h-2zM63 14h1v1h-1zM73 14h1v1h-1zM3 15h1v1h-1zM14 15h1v1h-1zM33 15h1v1h-1zM39 15h1v1h-1zM54 15h3v1h-3zM61 15h2v1h-2zM7 16h1v1h-1zM20 16h2v1h-2zM29 16h1v1h-1zM35 16h1v1h-1zM37 16h1v1h-1zM49 16h1v1h-1zM51 16h1v1h-1zM60 16h1v1h-1zM70 16h1v1h-1zM76 16h1v1h-1zM3 17h2v1h-2zM16 17h1v1h-1zM28 17h1v1h-1zM32 17h1v1h-1zM50 17h1v1h-1zM65 17h1v1h-1zM71 17h1v1h-1zM3 18h1v1h-1zM8 18h1v1h-1zM19 18h2v1h-2zM35 18h1v1h-1zM45 18h1v1h-1zM47 18h1v1h-1zM49 18h1v1h-1zM51 18h1v1h-1zM54 18h1v1h-1zM63 18h1v1h-1zM65 18h1v1h-1zM70 18h1v1h-1zM72 18h2v1h-2zM0 19h1v1h-1zM10 19h1v1h-1zM21 19h2v1h-2zM34 19h1v1h-1zM53 19h1v1h-1zM61 19h1v1h-1zM76 19h1v1h-1zM5 20h1v1h-1zM8 20h1v1h-1zM18 20h1v1h-1zM34 20h4v1h-4zM39 20h1v1h-1zM42 20h1v1h-1zM45 20h2v1h-2zM72 20h1v1h-1zM12 21h2v1h-2zM17 21h2v1h-2zM36 21h1v1h-1zM40 21h1v1h-1zM42 21h1v1h-1zM45 21h1v1h-1zM47 21h1v1h-1zM52 21h2v1h-2zM62 21h2v1h-2zM74 21h1v1h-1zM4 22h1v1h-1zM10 22h1v1h-1zM30 22h1v1h-1zM65 22h1v1h-1zM73 22h1v1h-1zM0 23h1v1h-1zM15 23h1v1h-1zM22 23h1v1h-1zM28 23h1v1h-1zM58 23h1v1h-1zM60 23h1v1h-1zM62 23h1v1h-1zM65 23h3v1h-3zM9 24h1v1h-1zM15 24h1v1h-1zM19 24h1v1h-1zM24 24h1v1h-1zM28 24h2v1h-2zM42 24h1v1h-1zM52 24h2v1h-2zM59 24h2v1h-2zM71 24h2v1h-2zM76 24h1v1h-1zM0 25h1v1h-1zM2 25h2v1h-2zM6 25h1v1h-1zM21 25h1v1h-1zM24 25h1v1h-1zM30 25h1v1h-1zM41 25h1v1h-1zM44 25h1v1h-1zM5 26h1v1h-1zM15 26h1v1h-1zM17 26h2v1h-2zM20 26h1v1h-1zM24 26h1v1h-1zM42 26h1v1h-1zM46 26h1v1h-1zM50 26h1v1h-1zM53 26h2v1h-2zM58 26h1v1h-1zM63 26h2v1h-2zM66 26h1v1h-1zM30 27h1v1h-1zM36 27h1v1h-1zM47 27h1v1h-1zM58 27h2v1h-2zM62 27h2v1h-2zM70 27h2v1h-2zM12 28h1v1h-1zM21 28h1v1h-1zM29 28h1v1h-1zM42 28h1v1h-1zM46 28h2v1h-2zM57 28h1v1h-1zM63 28h1v1h-1zM66 28h1v1h-1zM70 28h1v1h-1zM73 28h2v1h-2zM10 29h1v1h-1zM15 29h2v1h-2zM27 29h2v1h-2zM33 29h1v1h-1zM35 29h1v1h-1zM42 29h1v1h-1zM53 29h1v1h-1zM62 29h1v1h-1zM65 29h1v1h-1zM69 29h1v1h-1zM74 29h1v1h-1zM6 30h2v1h-2zM13 30h1v1h-1zM22 30h1v1h-1zM25 30h1v1h-1zM33 30h1v1h-1zM57 30h1v1h-1zM4 31h1v1h-1zM7 31h1v1h-1zM14 31h1v1h-1zM47 31h1v1h-1zM51 31h1v1h-1zM68 31h1v1h-1zM9 32h1v1h-1zM18 32h1v1h-1zM32 32h1v1h-1zM38 32h1v1h-1zM40 32h1v1h-1zM44 32h1v1h-1zM73 32h1v1h-1zM5 33h1v1h-1zM10 33h1v1h-1zM12 33h2v1h-2zM16 33h1v1h-1zM42 33h1v1h-1zM44 33h2v1h-2zM48 33h1v1h-1zM56 33h2v1h-2zM60 33h1v1h-1zM68 33h2v1h-2zM72 33h1v1h-1zM1 34h1v1h-1zM10 34h1v1h-1zM18 34h1v1h-1zM22 34h1v1h-1zM30 34h1v1h-1zM47 34h1v1h-1zM50 34h2v1h-2zM57 34h1v1h-1zM68 34h1v1h-1zM75 34h1v1h-1zM11 35h1v1h-1zM21 35h3v1h-3zM31 35h1v1h-1zM34 35h1v1h-1zM53 35h1v1h-1zM58 35h1v1h-1zM6 36h1v1h-1zM23 36h1v1h-1zM31 36h1v1h-1zM40 36h2v1h-2zM48 36h1v1h-1zM69 36h1v1h-1zM18 37h1v1h-1zM22 37h1v1h-1zM24 37h1v1h-1zM39 37h1v1h-1zM59 37h1v1h-1zM0 38h1v1h-1zM6 38h1v1h-1zM15 38h1v1h-1zM31 38h1v1h-1zM57 38h1v1h-1zM6 39h1v1h-1zM31 39h1v1h-1zM41 39h1v1h-1zM50 39h1v1h-1zM56 39h1v1h-1zM58 39h1v1h-1zM60 39h1v1h-1zM68 39h1v1h-1zM4 40h2v1h-2zM15 40h1v1h-1zM19 40h1v1h-1zM22 40h1v1h-1zM34 40h1v1h-1zM57 40h2v1h-2zM60 40h1v1h-1zM69 40h1v1h-1zM13 41h1v1h-1zM23 41h1v1h-1zM40 41h1v1h-1zM54 41h1v1h-1zM57 41h1v1h-1zM4 42h1v1h-1zM6 42h1v1h-1zM24 42h1v1h-1zM33 42h1v1h-1zM47 42h1v1h-1zM52 42h1v1h-1zM54 42h1v1h-1zM59 42h1v1h-1zM68 42h1v1h-1zM3 43h1v1h-1zM10 43h1v1h-1zM14 43h1v1h-1zM17 43h1v1h-1zM19 43h1v1h-1zM21 43h3v1h-3zM25 43h1v1h-1zM31 43h1v1h-1zM39 43h1v1h-1zM41 43h1v1h-1zM45 43h1v1h-1zM56 43h1v1h-1zM68 43h1v1h-1zM73 43h3v1h-3zM4 44h1v1h-1zM18 44h1v1h-1zM20 44h1v1h-1zM48 44h1v1h-1zM50 44h1v1h-1zM53 44h1v1h-1zM8 45h1v1h-1zM12 45h1v1h-1zM23 45h1v1h-1zM28 45h1v1h-1zM43 45h1v1h-1zM71 45h1v1h-1zM76 45h1v1h-1zM21 46h1v1h-1zM24 46h1v1h-1zM44 46h1v1h-1zM61 46h1v1h-1zM65 46h1v1h-1zM68 46h2v1h-2zM71 46h1v1h-1zM73 46h1v1h-1zM75 46h1v1h-1zM1 47h1v1h-1zM4 47h1v1h-1zM9 47h1v1h-1zM15 47h1v1h-1zM17 47h1v1h-1zM21 47h1v1h-1zM27 47h1v1h-1zM61 47h2v1h-2zM65 47h1v1h-1zM7 48h1v1h-1zM25 48h1v1h-1zM27 48h1v1h-1zM29 48h1v1h-1zM31 48h1v1h-1zM38 48h1v1h-1zM44 48h1v1h-1zM56 48h1v1h-1zM59 48h1v1h-1zM6 49h1v1h-1zM11 49h1v1h-1zM21 49h1v1h-1zM40 49h1v1h-1zM49 49h1v1h-1zM52 49h1v1h-1zM54 49h1v1h-1zM56 49h2v1h-2zM60 49h1v1h-1zM65 49h1v1h-1zM10 50h1v1h-1zM12 50h1v1h-1zM17 50h2v1h-2zM32 50h1v1h-1zM36 50h1v1h-1zM58 50h1v1h-1zM73 50h1v1h-1zM9 51h1v1h-1zM21 51h1v1h-1zM38 51h2v1h-2zM48 51h1v1h-1zM59 51h1v1h-1zM76 51h1v1h-1zM3 52h1v1h-1zM5 52h1v1h-1zM12 52h1v1h-1zM31 52h1v1h-1zM72 52h1v1h-1zM76 52h1v1h-1zM14 53h1v1h-1zM16 53h1v1h-1zM23 53h1v1h-1zM35 53h1v1h-1zM42 53h1v1h-1zM44 53h1v1h-1zM51 53h1v1h-1zM61 53h1v1h-1zM66 53h1v1h-1zM69 53h1v1h-1zM71 53h1v1h-1zM11 54h1v1h-1zM31 54h1v1h-1zM35 54h1v1h-1zM43 54h1v1h-1zM49 54h1v1h-1zM57 54h1v1h-1zM64 54h1v1h-1zM71 54h2v1h-2zM76 54h1v1h-1zM5 55h1v1h-1zM9 55h1v1h-1zM43 55h1v1h-1zM54 55h2v1h-2zM64 55h1v1h-1zM70 55h2v1h-2zM0 56h1v1h-1zM11 56h1v1h-1zM17 56h1v1h-1zM31 56h1v1h-1zM47 56h1v1h-1zM54 56h1v1h-1zM59 56h1v1h-1zM68 56h1v1h-1zM71 56h1v1h-1zM6 57h1v1h-1zM12 57h2v1h-2zM30 57h1v1h-1zM36 57h1v1h-1zM48 57h1v1h-1zM53 57h1v1h-1zM13 58h1v1h-1zM25 58h1v1h-1zM27 58h1v1h-1zM31 58h1v1h-1zM34 58h2v1h-2zM51 58h1v1h-1zM54 58h2v1h-2zM62 58h1v1h-1zM5 59h1v1h-1zM15 59h2v1h-2zM36 59h1v1h-1zM41 59h1v1h-1zM61 59h1v1h-1zM66 59h1v1h-1zM69 59h1v1h-1zM72 59h1v1h-1zM74 59h2v1h-2zM39 60h1v1h-1zM48 60h1v1h-1zM52 60h1v1h-1zM62 60h1v1h-1zM66 60h1v1h-1zM68 60h1v1h-1zM76 60h1v1h-1zM11 61h1v1h-1zM14 61h1v1h-1zM18 61h1v1h-1zM32 61h2v1h-2zM37 61h1v1h-1zM45 61h1v1h-1zM48 61h1v1h-1zM53 61h1v1h-1zM57 61h1v1h-1zM69 61h1v1h-1zM9 62h1v1h-1zM13 62h1v1h-1zM17 62h2v1h-2zM22 62h1v1h-1zM24 62h1v1h-1zM26 62h1v1h-1zM29 62h1v1h-1zM55 62h3v1h-3zM60 62h1v1h-1zM67 62h1v1h-1zM2 63h1v1h-1zM19 63h1v1h-1zM43 63h1v1h-1zM46 63h2v1h-2zM50 63h1v1h-1zM52 63h1v1h-1zM55 63h1v1h-1zM60 63h1v1h-1zM62 63h1v1h-1zM8 64h1v1h-1zM13 64h1v1h-1zM21 64h1v1h-1zM24 64h1v1h-1zM40 64h1v1h-1zM50 64h1v1h-1zM64 64h2v1h-2zM3 65h1v1h-1zM5 65h1v1h-1zM18 65h1v1h-1zM37 65h1v1h-1zM40 65h1v1h-1zM43 65h1v1h-1zM49 65h2v1h-2zM54 65h2v1h-2zM59 65h1v1h-1zM66 65h1v1h-1zM75 65h1v1h-1zM5 66h1v1h-1zM7 66h1v1h-1zM24 66h1v1h-1zM28 66h1v1h-1zM39 66h1v1h-1zM48 66h1v1h-1zM50 66h1v1h-1zM57 66h1v1h-1zM63 66h1v1h-1zM67 66h1v1h-1zM71 66h1v1h-1zM2 67h1v1h-1zM18 67h1v1h-1zM21 67h2v1h-2zM24 67h1v1h-1zM54 67h1v1h-1zM58 67h1v1h-1zM60 67h1v1h-1zM23 68h2v1h-2zM30 68h1v1h-1zM34 68h2v1h-2zM40 68h3v1h-3zM44 68h1v1h-1zM58 68h1v1h-1zM3 69h1v1h-1zM6 69h1v1h-1zM10 69h1v1h-1zM17 69h1v1h-1zM22 69h1v1h-1zM24 69h1v1h-1zM31 69h2v1h-2zM36 69h1v1h-1zM40 69h1v1h-1zM43 69h1v1h-1zM50 69h4v1h-4zM58 69h2v1h-2zM68 69h1v1h-1zM75 69h1v1h-1zM1 70h1v1h-1zM15 70h1v1h-1zM19 70h1v1h-1zM50 70h2v1h-2zM53 70h1v1h-1zM55 70h1v1h-1zM68 70h1v1h-1zM75 70h1v1h-1zM0 71h1v1h-1zM4 71h1v1h-1zM25 71h1v1h-1zM32 71h1v1h-1zM38 71h1v1h-1zM47 71h1v1h-1zM53 71h1v1h-1zM55 71h1v1h-1zM57 71h1v1h-1zM64 71h1v1h-1zM3 72h1v1h-1zM5 72h1v1h-1zM7 72h2v1h-2zM15 72h2v1h-2zM25 72h1v1h-1zM29 72h1v1h-1zM31 72h1v1h-1zM55 72h1v1h-1zM58 72h1v1h-1zM63 72h1v1h-1zM2 73h1v1h-1zM4 73h1v1h-1zM12 73h1v1h-1zM16 73h1v1h-1zM18 73h1v1h-1zM49 73h2v1h-2zM60 73h2v1h-2zM68 73h1v1h-1zM75 73h1v1h-1zM3 74h1v1h-1zM6 74h1v1h-1zM8 74h1v1h-1zM11 74h1v1h-1zM15 74h1v1h-1zM17 74h1v1h-1zM23 74h2v1h-2zM39 74h1v1h-1zM41 74h1v1h-1zM43 74h1v1h-1zM52 74h1v1h-1zM65 74h1v1h-1zM1 75h1v1h-1zM8 75h1v1h-1zM12 75h1v1h-1zM14 75h1v1h-1zM33 75h1v1h-1zM35 75h1v1h-1zM49 75h1v1h-1zM57 75h1v1h-1zM64 75h1v1h-1zM3 76h1v1h-1zM8 76h1v1h-1zM39 76h1v1h-1zM41 76h1v1h-1zM49 76h1v1h-1zM55 76h1v1h-1zM61 76h1v1h-1zM67 76h1v1h-1zM73 76h1v1h-1z"/>
<path fill="#dc8c93" d="M6 0h1v1h-1zM15 0h1v1h-1zM38 0h1v1h-1zM44 0h2v1h-2zM49 0h1v1h-1zM62 0h2v1h-2zM73 0h1v1h-1zM75 0h1v1h-1zM32 1h2v1h-2zM45 1h1v1h-1zM52 1h1v1h-1zM59 1h1v1h-1zM71 1h1v1h-1zM76 1h1v1h-1zM1 2h2v1h-2zM9 2h1v1h-1zM13 2h1v1h-1zM34 2h1v1h-1zM39 2h1v1h-1zM43 2h1v1h-1zM56 2h1v1h-1zM61 2h1v1h-1zM65 2h1v1h-1zM71 2h1v1h-1zM0 3h1v1h-1zM12 3h1v1h-1zM27 3h1v1h-1zM48 3h1v1h-1zM53 3h1v1h-1zM62 3h1v1h-1zM65 3h2v1h-2zM75 3h2v1h-2zM11 4h1v1h-1zM19 4h1v1h-1zM48 4h1v1h-1zM52 4h2v1h-2zM66 4h1v1h-1zM0 5h1v1h-1zM5 5h1v1h-1zM7 5h2v1h-2zM18 5h1v1h-1zM27 5h1v1h-1zM30 5h3v1h-3zM43 5h2v1h-2zM48 5h1v1h-1zM52 5h1v1h-1zM59 5h2v1h-2zM73 5h1v1h-1zM6 6h2v1h-2zM15 6h1v1h-1zM47 6h1v1h-1zM49 6h1v1h-1zM54 6h1v1h-1zM66 6h1v1h-1zM75 6h1v1h-1zM3 7h3v1h-3zM7 7h2v1h-2zM14 7h1v1h-1zM17 7h1v1h-1zM29 7h1v1h-1zM33 7h1v1h-1zM35 7h2v1h-2zM46 7h1v1h-1zM48 7h2v1h-2zM52 7h1v1h-1zM61 7h1v1h-1zM65 7h1v1h-1zM71 7h1v1h-1zM76 7h1v1h-1zM0 8h1v1h-1zM5 8h1v1h-1zM9 8h2v1h-2zM18 8h1v1h-1zM22 8h1v1h-1zM25 8h1v1h-1zM29 8h1v1h-1zM40 8h1v1h-1zM42 8h1v1h-1zM59 8h1v1h-1zM74 8h1v1h-1zM76 8h1v1h-1zM1 9h1v1h-1zM3 9h1v1h-1zM5 9h1v1h-1zM9 9h1v1h-1zM11 9h1v1h-1zM20 9h2v1h-2zM23 9h1v1h-1zM42 9h1v1h-1zM51 9h1v1h-1zM67 9h1v1h-1zM70 9h1v1h-1zM72 9h1v1h-1zM8 10h1v1h-1zM35 10h1v1h-1zM39 10h1v1h-1zM46 10h1v1h-1zM51 10h1v1h-1zM58 10h1v1h-1zM63 10h1v1h-1zM69 10h1v1h-1zM72 10h1v1h-1zM76 10h1v1h-1zM3 11h1v1h-1zM21 11h1v1h-1zM36 11h1v1h-1zM44 11h1v1h-1zM46 11h1v1h-1zM52 11h1v1h-1zM76 11h1v1h-1zM0 12h1v1h-1zM4 12h1v1h-1zM7 12h1v1h-1zM17 12h1v1h-1zM20 12h1v1h-1zM30 12h1v1h-1zM38 12h1v1h-1zM41 12h1v1h-1zM65 12h1v1h-1zM75 12h1v1h-1zM3 13h1v1h-1zM6 13h1v1h-1zM10 13h1v1h-1zM16 13h1v1h-1zM19 13h1v1h-1zM23 13h2v1h-2zM35 13h1v1h-1zM37 13h1v1h-1zM46 13h1v1h-1zM49 13h1v1h-1zM52 13h1v1h-1zM59 13h1v1h-1zM62 13h1v1h-1zM71 13h1v1h-1zM73 13h1v1h-1zM3 14h1v1h-1zM5 14h1v1h-1zM8 14h2v1h-2zM15 14h1v1h-1zM30 14h1v1h-1zM34 14h2v1h-2zM38 14h1v1h-1zM53 14h1v1h-1zM55 14h1v1h-1zM57 14h1v1h-1zM61 14h1v1h-1zM67 14h1v1h-1zM71 14h1v1h-1zM75 14h1v1h-1zM8 15h1v1h-1zM22 15h1v1h-1zM31 15h2v1h-2zM35 15h1v1h-1zM38 15h1v1h-1zM41 15h1v1h-1zM48 15h1v1h-1zM52 15h1v1h-1zM58 15h1v1h-1zM72 15h1v1h-1zM4 16h2v1h-2zM13 16h1v1h-1zM25 16h4v1h-4zM33 16h1v1h-1zM36 16h1v1h-1zM45 16h1v1h-1zM47 16h1v1h-1zM63 16h2v1h-2zM7 17h1v1h-1zM13 17h2v1h-2zM21 17h1v1h-1zM26 17h1v1h-1zM35 17h2v1h-2zM44 17h1v1h-1zM47 17h1v1h-1zM53 17h1v1h-1zM58 17h1v1h-1zM66 17h1v1h-1zM68 17h2v1h-2zM12 18h1v1h-1zM17 18h1v1h-1zM42 18h1v1h-1zM71 18h1v1h-1zM74 18h1v1h-1zM14 19h1v1h-1zM17 19h1v1h-1zM23 19h1v1h-1zM30 19h1v1h-1zM35 19h1v1h-1zM54 19h1v1h-1zM69 19h1v1h-1zM11 20h1v1h-1zM14 20h1v1h-1zM22 20h2v1h-2zM26 20h1v1h-1zM30 20h1v1h-1zM38 20h1v1h-1zM44 20h1v1h-1zM48 20h1v1h-1zM51 20h1v1h-1zM57 20h1v1h-1zM59 20h2v1h-2zM63 20h1v1h-1zM2 21h1v1h-1zM4 21h1v1h-1zM6 21h1v1h-1zM9 21h1v1h-1zM23 21h3v1h-3zM34 21h1v1h-1zM37 21h1v1h-1zM44 21h1v1h-1zM70 21h1v1h-1zM16 22h1v1h-1zM33 22h1v1h-1zM51 22h2v1h-2zM60 22h1v1h-1zM2 23h1v1h-1zM5 23h1v1h-1zM8 23h1v1h-1zM10 23h1v1h-1zM19 23h1v1h-1zM24 23h1v1h-1zM32 23h2v1h-2zM39 23h1v1h-1zM49 23h1v1h-1zM2 24h2v1h-2zM6 24h1v1h-1zM11 24h1v1h-1zM26 24h1v1h-1zM33 24h1v1h-1zM45 24h1v1h-1zM51 24h1v1h-1zM54 24h2v1h-2zM67 24h1v1h-1zM73 24h1v1h-1zM8 25h1v1h-1zM11 25h2v1h-2zM29 25h1v1h-1zM39 25h1v1h-1zM46 25h1v1h-1zM48 25h1v1h-1zM56 25h3v1h-3zM64 25h1v1h-1zM2 26h1v1h-1zM28 26h1v1h-1zM59 26h2v1h-2zM62 26h1v1h-1zM70 26h1v1h-1zM2 27h2v1h-2zM10 27h2v1h-2zM16 27h1v1h-1zM21 27h1v1h-1zM23 27h1v1h-1zM31 27h1v1h-1zM37 27h2v1h-2zM52 27h1v1h-1zM73 27h1v1h-1zM0 28h1v1h-1zM10 28h1v1h-1zM13 28h2v1h-2zM26 28h1v1h-1zM28 28h1v1h-1zM38 28h2v1h-2zM45 28h1v1h-1zM51 28h1v1h-1zM64 28h1v1h-1zM67 28h1v1h-1zM69 28h1v1h-1zM75 28h1v1h-1zM1 29h1v1h-1zM8 29h1v1h-1zM14 29h1v1h-1zM19 29h1v1h-1zM21 29h1v1h-1zM31 29h1v1h-1zM36 29h1v1h-1zM38 29h1v1h-1zM40 29h2v1h-2zM43 29h1v1h-1zM60 29h1v1h-1zM67 29h1v1h-1zM73 29h1v1h-1zM76 29h1v1h-1zM0 30h3v1h-3zM5 30h1v1h-1zM8 30h1v1h-1zM21 30h1v1h-1zM31 30h1v1h-1zM39 30h1v1h-1zM55 30h1v1h-1zM59 30h1v1h-1zM65 30h1v1h-1zM69 30h1v1h-1zM0 31h1v1h-1zM2 31h1v1h-1zM10 31h2v1h-2zM17 31h1v1h-1zM22 31h2v1h-2zM26 31h1v1h-1zM32 31h1v1h-1zM37 31h1v1h-1zM58 31h1v1h-1zM61 31h1v1h-1zM69 31h1v1h-1zM73 31h1v1h-1zM76 31h1v1h-1zM1 32h2v1h-2zM21 32h1v1h-1zM28 32h1v1h-1zM31 32h1v1h-1zM39 32h1v1h-1zM48 32h1v1h-1zM66 32h3v1h-3zM26 33h2v1h-2zM31 33h1v1h-1zM38 33h1v1h-1zM64 33h1v1h-1zM3 34h1v1h-1zM5 34h2v1h-2zM14 34h1v1h-1zM20 34h1v1h-1zM27 34h3v1h-3zM37 34h2v1h-2zM43 34h1v1h-1zM48 34h1v1h-1zM58 34h2v1h-2zM66 34h1v1h-1zM76 34h1v1h-1zM4 35h1v1h-1zM8 35h2v1h-2zM29 35h1v1h-1zM36 35h1v1h-1zM39 35h1v1h-1zM54 35h1v1h-1zM61 35h1v1h-1zM72 35h2v1h-2zM4 36h1v1h-1zM9 36h1v1h-1zM15 36h1v1h-1zM17 36h1v1h-1zM24 36h1v1h-1zM37 36h1v1h-1zM46 36h1v1h-1zM57 36h1v1h-1zM59 36h1v1h-1zM61 36h2v1h-2zM67 36h1v1h-1zM74 36h1v1h-1zM2 37h2v1h-2zM5 37h1v1h-1zM11 37h1v1h-1zM19 37h1v1h-1zM23 37h1v1h-1zM27 37h1v1h-1zM38 37h1v1h-1zM40 37h2v1h-2zM45 37h1v1h-1zM47 37h1v1h-1zM49 37h1v1h-1zM55 37h1v1h-1zM66 37h1v1h-1zM74 37h1v1h-1zM8 38h1v1h-1zM29 38h1v1h-1zM35 38h1v1h-1zM38 38h1v1h-1zM46 38h1v1h-1zM51 38h1v1h-1zM53 38h1v1h-1zM74 38h1v1h-1zM76 38h1v1h-1zM11 39h1v1h-1zM16 39h1v1h-1zM20 39h2v1h-2zM32 39h1v1h-1zM45 39h1v1h-1zM53 39h1v1h-1zM65 39h1v1h-1zM73 39h1v1h-1zM12 40h1v1h-1zM26 40h2v1h-2zM33 40h1v1h-1zM42 40h1v1h-1zM50 40h2v1h-2zM64 40h1v1h-1zM71 40h2v1h-2zM1 41h1v1h-1zM3 41h1v1h-1zM18 41h1v1h-1zM21 41h2v1h-2zM24 41h1v1h-1zM30 41h1v1h-1zM42 41h1v1h-1zM44 41h1v1h-1zM51 41h1v1h-1zM53 41h1v1h-1zM63 41h2v1h-2zM67 41h1v1h-1zM71 41h1v1h-1zM0 42h1v1h-1zM16 42h2v1h-2zM23 42h1v1h-1zM30 42h2v1h-2zM34 42h1v1h-1zM38 42h1v1h-1zM41 42h1v1h-1zM43 42h1v1h-1zM55 42h1v1h-1zM65 42h1v1h-1zM67 42h1v1h-1zM74 42h1v1h-1zM5 43h1v1h-1zM8 43h1v1h-1zM33 43h1v1h-1zM40 43h1v1h-1zM48 43h1v1h-1zM59 43h1v1h-1zM69 43h1v1h-1zM1 44h1v1h-1zM6 44h1v1h-1zM8 44h1v1h-1zM19 44h1v1h-1zM33 44h1v1h-1zM37 44h1v1h-1zM46 44h1v1h-1zM55 44h1v1h-1zM70 44h1v1h-1zM76 44h1v1h-1zM15 45h1v1h-1zM34 45h1v1h-1zM48 45h1v1h-1zM63 45h2v1h-2zM6 46h1v1h-1zM8 46h1v1h-1zM12 46h1v1h-1zM26 46h1v1h-1zM33 46h1v1h-1zM35 46h1v1h-1zM39 46h1v1h-1zM45 46h1v1h-1zM49 46h1v1h-1zM55 46h2v1h-2zM58 46h2v1h-2zM63 46h1v1h-1zM67 46h1v1h-1zM7 47h1v1h-1zM11 47h1v1h-1zM16 47h1v1h-1zM23 47h1v1h-1zM30 47h1v1h-1zM34 47h1v1h-1zM37 47h1v1h-1zM39 47h1v1h-1zM49 47h2v1h-2zM53 47h1v1h-1zM63 47h1v1h-1zM69 47h2v1h-2zM75 47h1v1h-1zM2 48h1v1h-1zM11 48h2v1h-2zM14 48h1v1h-1zM20 48h1v1h-1zM35 48h1v1h-1zM37 48h1v1h-1zM48 48h1v1h-1zM54 48h1v1h-1zM63 48h1v1h-1zM71 48h1v1h-1zM75 48h1v1h-1zM4 49h2v1h-2zM7 49h2v1h-2zM15 49h1v1h-1zM39 49h1v1h-1zM45 49h1v1h-1zM62 49h1v1h-1zM76 49h1v1h-1zM1 50h1v1h-1zM20 50h1v1h-1zM24 50h1v1h-1zM34 50h1v1h-1zM37 50h2v1h-2zM42 50h1v1h-1zM50 50h2v1h-2zM55 50h2v1h-2zM61 50h2v1h-2zM66 50h1v1h-1zM0 51h2v1h-2zM12 51h1v1h-1zM15 51h1v1h-1zM18 51h1v1h-1zM24 51h2v1h-2zM31 51h1v1h-1zM36 51h1v1h-1zM43 51h1v1h-1zM47 51h1v1h-1zM53 51h1v1h-1zM69 51h1v1h-1zM7 52h1v1h-1zM9 52h1v1h-1zM11 52h1v1h-1zM19 52h1v1h-1zM23 52h3v1h-3zM32 52h1v1h-1zM39 52h1v1h-1zM46 52h1v1h-1zM50 52h1v1h-1zM52 52h1v1h-1zM55 52h1v1h-1zM59 52h1v1h-1zM66 52h1v1h-1zM3 53h1v1h-1zM31 53h1v1h-1zM52 53h1v1h-1zM5 54h1v1h-1zM8 54h1v1h-1zM14 54h1v1h-1zM20 54h2v1h-2zM28 54h1v1h-1zM32 54h2v1h-2zM36 54h1v1h-1zM42 54h1v1h-1zM48 54h1v1h-1zM55 54h1v1h-1zM60 54h1v1h-1zM2 55h1v1h-1zM22 55h1v1h-1zM40 55h1v1h-1zM48 55h1v1h-1zM51 55h1v1h-1zM53 55h1v1h-1zM63 55h1v1h-1zM73 55h2v1h-2zM8 56h1v1h-1zM12 56h1v1h-1zM15 56h1v1h-1zM18 56h1v1h-1zM28 56h2v1h-2zM34 56h1v1h-1zM40 56h1v1h-1zM45 56h1v1h-1zM1 57h1v1h-1zM25 57h1v1h-1zM41 57h1v1h-1zM47 57h1v1h-1zM50 57h1v1h-1zM66 57h1v1h-1zM73 57h1v1h-1zM75 57h1v1h-1zM7 58h1v1h-1zM10 58h1v1h-1zM26 58h1v1h-1zM37 58h1v1h-1zM40 58h1v1h-1zM50 58h1v1h-1zM52 58h1v1h-1zM64 58h1v1h-1zM0 59h1v1h-1zM13 59h1v1h-1zM19 59h1v1h-1zM21 59h1v1h-1zM29 59h1v1h-1zM39 59h1v1h-1zM60 59h1v1h-1zM62 59h2v1h-2zM76 59h1v1h-1zM8 60h1v1h-1zM16 60h2v1h-2zM20 60h1v1h-1zM26 60h1v1h-1zM40 60h1v1h-1zM42 60h1v1h-1zM57 60h1v1h-1zM4 61h1v1h-1zM7 61h1v1h-1zM23 61h1v1h-1zM26 61h1v1h-1zM31 61h1v1h-1zM49 61h1v1h-1zM52 61h1v1h-1zM59 61h1v1h-1zM62 61h1v1h-1zM68 61h1v1h-1zM71 61h1v1h-1zM4 62h2v1h-2zM28 62h1v1h-1zM35 62h1v1h-1zM41 62h1v1h-1zM45 62h1v1h-1zM52 62h1v1h-1zM59 62h1v1h-1zM61 62h1v1h-1zM75 62h1v1h-1zM20 63h1v1h-1zM27 63h2v1h-2zM35 63h1v1h-1zM38 63h1v1h-1zM56 63h1v1h-1zM64 63h1v1h-1zM66 63h1v1h-1zM68 63h1v1h-1zM70 63h2v1h-2zM6 64h1v1h-1zM22 64h2v1h-2zM26 64h1v1h-1zM35 64h2v1h-2zM52 64h1v1h-1zM60 64h1v1h-1zM10 65h1v1h-1zM20 65h1v1h-1zM26 65h1v1h-1zM36 65h1v1h-1zM62 65h1v1h-1zM64 65h1v1h-1zM0 66h2v1h-2zM15 66h1v1h-1zM20 66h1v1h-1zM29 66h1v1h-1zM38 66h1v1h-1zM49 66h1v1h-1zM54 66h1v1h-1zM59 66h1v1h-1zM62 66h1v1h-1zM64 66h1v1h-1zM14 67h1v1h-1zM17 67h1v1h-1zM26 67h1v1h-1zM28 67h2v1h-2zM31 67h3v1h-3zM35 67h1v1h-1zM52 67h1v1h-1zM57 67h1v1h-1zM62 67h1v1h-1zM73 67h1v1h-1zM8 68h1v1h-1zM11 68h1v1h-1zM22 68h1v1h-1zM25 68h2v1h-2zM29 68h1v1h-1zM33 68h1v1h-1zM37 68h3v1h-3zM54 68h1v1h-1zM57 68h1v1h-1zM59 68h1v1h-1zM63 68h1v1h-1zM66 68h1v1h-1zM69 68h1v1h-1zM74 68h1v1h-1zM2 69h1v1h-1zM5 69h1v1h-1zM7 69h1v1h-1zM11 69h1v1h-1zM14 69h1v1h-1zM21 69h1v1h-1zM34 69h1v1h-1zM49 69h1v1h-1zM67 69h1v1h-1zM71 69h3v1h-3zM3 70h1v1h-1zM5 70h1v1h-1zM21 70h1v1h-1zM27 70h1v1h-1zM34 70h1v1h-1zM36 70h2v1h-2zM42 70h1v1h-1zM45 70h1v1h-1zM47 70h1v1h-1zM49 70h1v1h-1zM59 70h1v1h-1zM71 70h2v1h-2zM2 71h1v1h-1zM14 71h1v1h-1zM17 71h2v1h-2zM21 71h1v1h-1zM24 71h1v1h-1zM52 71h1v1h-1zM63 71h1v1h-1zM1 72h1v1h-1zM21 72h1v1h-1zM26 72h1v1h-1zM34 72h1v1h-1zM39 72h2v1h-2zM48 72h1v1h-1zM57 72h1v1h-1zM59 72h1v1h-1zM62 72h1v1h-1zM64 72h1v1h-1zM73 72h1v1h-1zM75 72h2v1h-2zM0 73h1v1h-1zM15 73h1v1h-1zM20 73h1v1h-1zM22 73h1v1h-1zM31 73h1v1h-1zM33 73h1v1h-1zM41 73h1v1h-1zM44 73h1v1h-1zM47 73h1v1h-1zM54 73h1v1h-1zM73 73h1v1h-1zM9 74h1v1h-1zM12 74h1v1h-1zM21 74h1v1h-1zM27 74h1v1h-1zM30 74h3v1h-3zM36 74h1v1h-1zM50 74h1v1h-1zM60 74h1v1h-1zM62 74h1v1h-1zM66 74h1v1h-1zM70 74h1v1h-1zM76 74h1v1h-1zM0 75h1v1h-1zM7 75h1v1h-1zM11 75h1v1h-1zM17 75h1v1h-1zM29 75h1v1h-1zM34 75h1v1h-1zM37 75h1v1h-1zM39 75h1v1h-1zM41 75h2v1h-2zM44 75h1v1h-1zM53 75h2v1h-2zM62 75h1v1h-1zM76 75h1v1h-1zM0 76h1v1h-1zM4 76h1v1h-1zM10 76h1v1h-1zM12 76h1v1h-1zM14 76h1v1h-1zM20 76h1v1h-1zM22 76h1v1h-1zM32 76h1v1h-1zM34 76h3v1h-3zM38 76h1v1h-1zM40 76h1v1h-1zM56 76h1v1h-1zM59 76h1v1h-1zM66 76h1v1h-1zM70 76h1v1h-1z"/>
</pattern>
<pattern id="pd" width="60" height="60" patternUnits="userSpaceOnUse" x="474" y="14">
<rect width="60" height="60" fill="#faf9fb"/>
<path fill="#5854c4" d="M2 0h2v1h-2zM11 0h1v1h-1zM20 0h2v1h-2zM29 0h1v1h-1zM31 0h1v1h-1zM45 0h1v1h-1zM5 1h1v1h-1zM21 1h1v1h-1zM27 1h1v1h-1zM32 1h1v1h-1zM40 1h1v1h-1zM44 1h1v1h-1zM46 1h1v1h-1zM48 1h1v1h-1zM51 1h1v1h-1zM55 1h1v1h-1zM57 1h2v1h-2zM2 2h1v1h-1zM4 2h1v1h-1zM16 2h1v1h-1zM19 2h1v1h-1zM23 2h1v1h-1zM28 2h1v1h-1zM30 2h5v1h-5zM50 2h2v1h-2zM53 2h1v1h-1zM56 2h1v1h-1zM11 3h1v1h-1zM15 3h1v1h-1zM24 3h1v1h-1zM26 3h1v1h-1zM30 3h1v1h-1zM36 3h1v1h-1zM40 3h1v1h-1zM48 3h3v1h-3zM55 3h1v1h-1zM19 4h1v1h-1zM22 4h1v1h-1zM24 4h2v1h-2zM29 4h1v1h-1zM36 4h1v1h-1zM40 4h1v1h-1zM51 4h1v1h-1zM53 4h1v1h-1zM16 5h1v1h-1zM22 5h1v1h-1zM28 5h1v1h-1zM36 5h1v1h-1zM44 5h2v1h-2zM55 5h2v1h-2zM5 6h2v1h-2zM10 6h1v1h-1zM23 6h1v1h-1zM31 6h1v1h-1zM44 6h1v1h-1zM49 6h1v1h-1zM51 6h1v1h-1zM0 7h1v1h-1zM36 7h2v1h-2zM50 7h1v1h-1zM53 7h2v1h-2zM6 8h2v1h-2zM11 8h1v1h-1zM33 8h2v1h-2zM36 8h1v1h-1zM40 8h1v1h-1zM43 8h2v1h-2zM47 8h1v1h-1zM49 8h1v1h-1zM52 8h1v1h-1zM57 8h1v1h-1zM59 8h1v1h-1zM6 9h1v1h-1zM8 9h3v1h-3zM12 9h1v1h-1zM21 9h2v1h-2zM42 9h1v1h-1zM52 9h1v1h-1zM57 9h1v1h-1zM59 9h1v1h-1zM19 10h1v1h-1zM56 10h1v1h-1zM7 11h1v1h-1zM9 11h2v1h-2zM13 11h1v1h-1zM20 11h1v1h-1zM32 11h1v1h-1zM34 11h1v1h-1zM46 11h1v1h-1zM49 11h1v1h-1zM53 11h1v1h-1zM1 12h1v1h-1zM3 12h2v1h-2zM10 12h1v1h-1zM12 12h1v1h-1zM15 12h1v1h-1zM24 12h1v1h-1zM33 12h1v1h-1zM36 12h1v1h-1zM41 12h1v1h-1zM47 12h2v1h-2zM55 12h1v1h-1zM1 13h1v1h-1zM3 13h1v1h-1zM6 13h1v1h-1zM11 13h1v1h-1zM16 13h1v1h-1zM28 13h1v1h-1zM30 13h1v1h-1zM32 13h1v1h-1zM47 13h1v1h-1zM11 14h1v1h-1zM24 14h1v1h-1zM41 14h1v1h-1zM43 14h1v1h-1zM51 14h1v1h-1zM56 14h3v1h-3zM1 15h1v1h-1zM11 15h1v1h-1zM33 15h1v1h-1zM44 15h1v1h-1zM47 15h2v1h-2zM54 15h1v1h-1zM59 15h1v1h-1zM6 16h2v1h-2zM9 16h1v1h-1zM14 16h1v1h-1zM18 16h1v1h-1zM22 16h1v1h-1zM25 16h1v1h-1zM32 16h1v1h-1zM34 16h3v1h-3zM48 16h2v1h-2zM54 16h1v1h-1zM0 17h1v1h-1zM3 17h1v1h-1zM8 17h1v1h-1zM13 17h1v1h-1zM19 17h1v1h-1zM32 17h1v1h-1zM41 17h1v1h-1zM54 17h1v1h-1zM4 18h1v1h-1zM9 18h2v1h-2zM13 18h1v1h-1zM18 18h1v1h-1zM22 18h1v1h-1zM42 18h2v1h-2zM47 18h1v1h-1zM52 18h1v1h-1zM2 19h2v1h-2zM5 19h1v1h-1zM11 19h1v1h-1zM27 19h1v1h-1zM31 19h1v1h-1zM40 19h1v1h-1zM46 19h1v1h-1zM52 19h1v1h-1zM2 20h1v1h-1zM12 20h2v1h-2zM19 20h2v1h-2zM22 20h1v1h-1zM26 20h1v1h-1zM36 20h1v1h-1zM45 20h1v1h-1zM53 20h1v1h-1zM56 20h1v1h-1zM1 21h1v1h-1zM9 21h1v1h-1zM11 21h1v1h-1zM21 21h1v1h-1zM26 21h1v1h-1zM30 21h1v1h-1zM38 21h1v1h-1zM42 21h1v1h-1zM44 21h2v1h-2zM52 21h3v1h-3zM5 22h1v1h-1zM15 22h1v1h-1zM17 22h3v1h-3zM29 22h1v1h-1zM34 22h1v1h-1zM2 23h1v1h-1zM6 23h1v1h-1zM14 23h1v1h-1zM24 23h1v1h-1zM26 23h1v1h-1zM35 23h1v1h-1zM39 23h1v1h-1zM41 23h1v1h-1zM52 23h1v1h-1zM58 23h1v1h-1zM4 24h1v1h-1zM6 24h1v1h-1zM17 24h1v1h-1zM22 24h1v1h-1zM27 24h1v1h-1zM45 24h1v1h-1zM58 24h2v1h-2zM3 25h1v1h-1zM8 25h1v1h-1zM27 25h1v1h-1zM31 25h1v1h-1zM38 25h1v1h-1zM45 25h1v1h-1zM48 25h1v1h-1zM2 26h2v1h-2zM11 26h2v1h-2zM14 26h1v1h-1zM22 26h1v1h-1zM24 26h1v1h-1zM46 26h2v1h-2zM55 26h1v1h-1zM10 27h1v1h-1zM18 27h1v1h-1zM23 27h1v1h-1zM40 27h1v1h-1zM47 27h1v1h-1zM1 28h1v1h-1zM3 28h1v1h-1zM8 28h2v1h-2zM11 28h1v1h-1zM20 28h1v1h-1zM33 28h1v1h-1zM41 28h1v1h-1zM43 28h1v1h-1zM50 28h2v1h-2zM55 28h1v1h-1zM1 29h1v1h-1zM21 29h1v1h-1zM25 29h1v1h-1zM32 29h1v1h-1zM34 29h1v1h-1zM37 29h2v1h-2zM41 29h2v1h-2zM44 29h1v1h-1zM49 29h1v1h-1zM1 30h1v1h-1zM8 30h1v1h-1zM17 30h1v1h-1zM29 30h2v1h-2zM33 30h2v1h-2zM42 30h1v1h-1zM44 30h2v1h-2zM48 30h1v1h-1zM51 30h2v1h-2zM54 30h1v1h-1zM57 30h1v1h-1zM8 31h1v1h-1zM13 31h1v1h-1zM21 31h1v1h-1zM25 31h1v1h-1zM29 31h1v1h-1zM33 31h1v1h-1zM42 31h1v1h-1zM57 31h3v1h-3zM2 32h1v1h-1zM15 32h1v1h-1zM22 32h2v1h-2zM37 32h1v1h-1zM53 32h1v1h-1zM4 33h1v1h-1zM10 33h1v1h-1zM15 33h1v1h-1zM21 33h1v1h-1zM42 33h1v1h-1zM56 33h1v1h-1zM58 33h1v1h-1zM5 34h2v1h-2zM10 34h2v1h-2zM31 34h1v1h-1zM55 34h1v1h-1zM0 35h1v1h-1zM14 35h1v1h-1zM24 35h1v1h-1zM26 35h1v1h-1zM47 35h1v1h-1zM0 36h1v1h-1zM5 36h1v1h-1zM9 36h1v1h-1zM12 36h1v1h-1zM16 36h2v1h-2zM20 36h1v1h-1zM22 36h1v1h-1zM30 36h1v1h-1zM46 36h1v1h-1zM48 36h2v1h-2zM53 36h1v1h-1zM55 36h1v1h-1zM57 36h1v1h-1zM3 37h1v1h-1zM10 37h2v1h-2zM14 37h1v1h-1zM21 37h1v1h-1zM28 37h1v1h-1zM32 37h1v1h-1zM44 37h1v1h-1zM48 37h1v1h-1zM11 38h1v1h-1zM15 38h1v1h-1zM43 38h1v1h-1zM46 38h1v1h-1zM50 38h1v1h-1zM56 38h1v1h-1zM8 39h1v1h-1zM46 39h1v1h-1zM53 39h1v1h-1zM55 39h1v1h-1zM58 39h1v1h-1zM5 40h1v1h-1zM7 40h1v1h-1zM15 40h1v1h-1zM38 40h2v1h-2zM43 40h3v1h-3zM47 40h1v1h-1zM8 41h1v1h-1zM10 41h1v1h-1zM12 41h1v1h-1zM27 41h1v1h-1zM51 41h1v1h-1zM54 41h1v1h-1zM59 41h1v1h-1zM10 42h1v1h-1zM14 42h2v1h-2zM21 42h1v1h-1zM23 42h1v1h-1zM30 42h1v1h-1zM34 42h1v1h-1zM36 42h1v1h-1zM44 42h1v1h-1zM49 42h1v1h-1zM54 42h1v1h-1zM58 42h1v1h-1zM12 43h1v1h-1zM16 43h1v1h-1zM22 43h2v1h-2zM28 43h1v1h-1zM33 43h1v1h-1zM35 43h1v1h-1zM41 43h1v1h-1zM46 43h3v1h-3zM1 44h1v1h-1zM8 44h1v1h-1zM10 44h1v1h-1zM14 44h1v1h-1zM27 44h1v1h-1zM32 44h1v1h-1zM38 44h1v1h-1zM40 44h1v1h-1zM50 44h1v1h-1zM52 44h1v1h-1zM56 44h2v1h-2zM15 45h1v1h-1zM22 45h1v1h-1zM24 45h1v1h-1zM26 45h1v1h-1zM40 45h1v1h-1zM48 45h1v1h-1zM50 45h1v1h-1zM52 45h1v1h-1zM12 46h2v1h-2zM16 46h1v1h-1zM18 46h1v1h-1zM21 46h1v1h-1zM32 46h1v1h-1zM39 46h1v1h-1zM41 46h1v1h-1zM44 46h1v1h-1zM50 46h3v1h-3zM54 46h1v1h-1zM2 47h1v1h-1zM4 47h2v1h-2zM9 47h1v1h-1zM14 47h1v1h-1zM21 47h1v1h-1zM28 47h2v1h-2zM43 47h1v1h-1zM53 47h1v1h-1zM4 48h1v1h-1zM13 48h2v1h-2zM16 48h1v1h-1zM21 48h1v1h-1zM25 48h1v1h-1zM29 48h1v1h-1zM31 48h1v1h-1zM38 48h2v1h-2zM52 48h1v1h-1zM57 48h1v1h-1zM0 49h1v1h-1zM2 49h2v1h-2zM19 49h1v1h-1zM24 49h1v1h-1zM29 49h1v1h-1zM34 49h1v1h-1zM40 49h1v1h-1zM54 49h1v1h-1zM14 50h1v1h-1zM17 50h2v1h-2zM39 50h1v1h-1zM42 50h1v1h-1zM49 50h1v1h-1zM54 50h1v1h-1zM2 51h1v1h-1zM8 51h1v1h-1zM16 51h1v1h-1zM34 51h1v1h-1zM39 51h1v1h-1zM51 51h3v1h-3zM5 52h2v1h-2zM25 52h1v1h-1zM29 52h1v1h-1zM33 52h1v1h-1zM35 52h1v1h-1zM38 52h1v1h-1zM1 53h1v1h-1zM6 53h1v1h-1zM11 53h1v1h-1zM14 53h1v1h-1zM20 53h1v1h-1zM22 53h1v1h-1zM24 53h1v1h-1zM30 53h1v1h-1zM34 53h1v1h-1zM37 53h1v1h-1zM46 53h1v1h-1zM51 53h1v1h-1zM57 53h1v1h-1zM0 54h1v1h-1zM8 54h3v1h-3zM16 54h1v1h-1zM22 54h1v1h-1zM25 54h1v1h-1zM32 54h1v1h-1zM36 54h1v1h-1zM39 54h2v1h-2zM48 54h2v1h-2zM55 54h1v1h-1zM57 54h1v1h-1zM11 55h1v1h-1zM20 55h2v1h-2zM23 55h2v1h-2zM26 55h1v1h-1zM28 55h2v1h-2zM34 55h1v1h-1zM36 55h1v1h-1zM40 55h1v1h-1zM46 55h2v1h-2zM49 55h1v1h-1zM54 55h1v1h-1zM58 55h1v1h-1zM2 56h1v1h-1zM13 56h1v1h-1zM34 56h1v1h-1zM36 56h1v1h-1zM41 56h2v1h-2zM50 56h1v1h-1zM59 56h1v1h-1zM2 57h2v1h-2zM15 57h1v1h-1zM24 57h1v1h-1zM27 57h1v1h-1zM30 57h1v1h-1zM35 57h1v1h-1zM39 57h1v1h-1zM47 57h1v1h-1zM57 57h1v1h-1zM59 57h1v1h-1zM0 58h1v1h-1zM8 58h1v1h-1zM11 58h1v1h-1zM22 58h1v1h-1zM28 58h1v1h-1zM37 58h1v1h-1zM45 58h1v1h-1zM53 58h1v1h-1zM4 59h1v1h-1zM12 59h1v1h-1zM17 59h1v1h-1zM21 59h1v1h-1zM23 59h1v1h-1zM56 59h1v1h-1z"/>
<path fill="#a09ae4" d="M19 0h1v1h-1zM28 0h1v1h-1zM35 0h1v1h-1zM2 1h1v1h-1zM7 1h1v1h-1zM17 1h1v1h-1zM25 1h1v1h-1zM29 1h2v1h-2zM35 1h2v1h-2zM42 1h1v1h-1zM49 1h1v1h-1zM52 1h1v1h-1zM13 2h1v1h-1zM25 2h1v1h-1zM40 2h1v1h-1zM42 2h1v1h-1zM47 2h1v1h-1zM55 2h1v1h-1zM57 2h3v1h-3zM4 3h1v1h-1zM14 3h1v1h-1zM21 3h1v1h-1zM34 3h1v1h-1zM37 3h1v1h-1zM42 3h1v1h-1zM3 4h1v1h-1zM10 4h2v1h-2zM13 4h1v1h-1zM30 4h2v1h-2zM43 4h1v1h-1zM56 4h1v1h-1zM10 5h1v1h-1zM31 5h1v1h-1zM34 5h1v1h-1zM39 5h1v1h-1zM42 5h1v1h-1zM53 5h1v1h-1zM58 5h1v1h-1zM9 6h1v1h-1zM39 6h1v1h-1zM41 6h2v1h-2zM53 6h1v1h-1zM1 7h2v1h-2zM7 7h1v1h-1zM24 7h1v1h-1zM29 7h1v1h-1zM34 7h1v1h-1zM45 7h1v1h-1zM48 7h1v1h-1zM55 7h2v1h-2zM58 7h1v1h-1zM0 8h2v1h-2zM46 8h1v1h-1zM54 8h1v1h-1zM0 9h1v1h-1zM11 9h1v1h-1zM13 9h1v1h-1zM25 9h1v1h-1zM27 9h1v1h-1zM35 9h1v1h-1zM38 9h1v1h-1zM44 9h2v1h-2zM58 9h1v1h-1zM2 10h1v1h-1zM7 10h2v1h-2zM11 10h1v1h-1zM21 10h1v1h-1zM23 10h1v1h-1zM29 10h1v1h-1zM37 10h2v1h-2zM40 10h1v1h-1zM44 10h1v1h-1zM47 10h1v1h-1zM53 10h1v1h-1zM55 10h1v1h-1zM58 10h1v1h-1zM1 11h1v1h-1zM21 11h1v1h-1zM24 11h1v1h-1zM30 11h2v1h-2zM42 11h2v1h-2zM0 12h1v1h-1zM53 12h1v1h-1zM56 12h1v1h-1zM4 13h2v1h-2zM9 13h1v1h-1zM37 13h1v1h-1zM41 13h2v1h-2zM54 13h1v1h-1zM48 14h1v1h-1zM9 15h1v1h-1zM17 15h1v1h-1zM20 15h1v1h-1zM23 15h2v1h-2zM27 15h1v1h-1zM29 15h1v1h-1zM37 15h2v1h-2zM45 15h1v1h-1zM50 15h2v1h-2zM1 16h1v1h-1zM13 16h1v1h-1zM16 16h1v1h-1zM21 16h1v1h-1zM26 16h1v1h-1zM46 16h1v1h-1zM59 16h1v1h-1zM17 17h1v1h-1zM20 17h1v1h-1zM29 17h1v1h-1zM37 17h2v1h-2zM44 17h1v1h-1zM51 17h1v1h-1zM55 17h1v1h-1zM0 18h1v1h-1zM3 18h1v1h-1zM8 18h1v1h-1zM17 18h1v1h-1zM23 18h4v1h-4zM35 18h1v1h-1zM37 18h1v1h-1zM53 18h1v1h-1zM9 19h1v1h-1zM24 19h3v1h-3zM33 19h1v1h-1zM35 19h1v1h-1zM39 19h1v1h-1zM49 19h1v1h-1zM54 19h1v1h-1zM56 19h1v1h-1zM14 20h1v1h-1zM21 20h1v1h-1zM31 20h1v1h-1zM37 20h4v1h-4zM43 20h1v1h-1zM49 20h1v1h-1zM52 20h1v1h-1zM55 20h1v1h-1zM58 20h2v1h-2zM0 21h1v1h-1zM5 21h1v1h-1zM24 21h1v1h-1zM31 21h1v1h-1zM35 21h1v1h-1zM46 21h1v1h-1zM50 21h1v1h-1zM1 22h1v1h-1zM9 22h1v1h-1zM31 22h1v1h-1zM35 22h1v1h-1zM40 22h1v1h-1zM45 22h1v1h-1zM7 23h1v1h-1zM18 23h1v1h-1zM27 23h1v1h-1zM30 23h1v1h-1zM32 23h1v1h-1zM40 23h1v1h-1zM42 23h2v1h-2zM46 23h1v1h-1zM1 24h2v1h-2zM7 24h1v1h-1zM18 24h1v1h-1zM24 24h1v1h-1zM26 24h1v1h-1zM36 24h2v1h-2zM54 24h1v1h-1zM57 24h1v1h-1zM1 25h1v1h-1zM10 25h1v1h-1zM13 25h1v1h-1zM17 25h1v1h-1zM35 25h1v1h-1zM43 25h1v1h-1zM47 25h1v1h-1zM54 25h1v1h-1zM57 25h1v1h-1zM59 25h1v1h-1zM0 26h1v1h-1zM4 26h1v1h-1zM16 26h1v1h-1zM32 26h1v1h-1zM35 26h1v1h-1zM40 26h4v1h-4zM48 26h1v1h-1zM52 26h2v1h-2zM1 27h1v1h-1zM13 27h1v1h-1zM17 27h1v1h-1zM19 27h1v1h-1zM38 27h1v1h-1zM46 27h1v1h-1zM4 28h1v1h-1zM10 28h1v1h-1zM13 28h1v1h-1zM19 28h1v1h-1zM24 28h1v1h-1zM27 28h2v1h-2zM36 28h1v1h-1zM38 28h1v1h-1zM23 29h2v1h-2zM29 29h1v1h-1zM36 29h1v1h-1zM39 29h1v1h-1zM43 29h1v1h-1zM51 29h1v1h-1zM54 29h1v1h-1zM3 30h1v1h-1zM12 30h1v1h-1zM25 30h1v1h-1zM36 30h1v1h-1zM43 30h1v1h-1zM50 30h1v1h-1zM1 31h1v1h-1zM5 31h1v1h-1zM12 31h1v1h-1zM26 31h2v1h-2zM38 31h1v1h-1zM41 31h1v1h-1zM47 31h1v1h-1zM51 31h1v1h-1zM13 32h1v1h-1zM18 32h1v1h-1zM24 32h1v1h-1zM36 32h1v1h-1zM50 32h1v1h-1zM57 32h1v1h-1zM3 33h1v1h-1zM20 33h1v1h-1zM34 33h2v1h-2zM45 33h1v1h-1zM47 33h1v1h-1zM53 33h1v1h-1zM9 34h1v1h-1zM20 34h1v1h-1zM28 34h1v1h-1zM36 34h2v1h-2zM42 34h1v1h-1zM46 34h1v1h-1zM6 35h2v1h-2zM27 35h1v1h-1zM34 35h2v1h-2zM38 35h1v1h-1zM42 35h1v1h-1zM57 35h1v1h-1zM11 36h1v1h-1zM25 36h1v1h-1zM28 36h1v1h-1zM32 36h1v1h-1zM36 36h1v1h-1zM40 36h2v1h-2zM44 36h1v1h-1zM0 37h3v1h-3zM8 37h1v1h-1zM26 37h1v1h-1zM33 37h1v1h-1zM35 37h1v1h-1zM37 37h1v1h-1zM47 37h1v1h-1zM49 37h1v1h-1zM54 37h1v1h-1zM6 38h1v1h-1zM10 38h1v1h-1zM29 38h1v1h-1zM37 38h1v1h-1zM44 38h1v1h-1zM48 38h2v1h-2zM51 38h1v1h-1zM59 38h1v1h-1zM1 39h1v1h-1zM6 39h1v1h-1zM17 39h1v1h-1zM20 39h1v1h-1zM22 39h1v1h-1zM24 39h1v1h-1zM42 39h1v1h-1zM48 39h1v1h-1zM54 39h1v1h-1zM57 39h1v1h-1zM11 40h1v1h-1zM23 40h1v1h-1zM31 40h1v1h-1zM34 40h1v1h-1zM49 40h1v1h-1zM51 40h1v1h-1zM55 40h1v1h-1zM57 40h1v1h-1zM9 41h1v1h-1zM14 41h2v1h-2zM18 41h2v1h-2zM21 41h1v1h-1zM26 41h1v1h-1zM29 41h2v1h-2zM46 41h1v1h-1zM57 41h1v1h-1zM2 42h1v1h-1zM4 42h1v1h-1zM9 42h1v1h-1zM20 42h1v1h-1zM35 42h1v1h-1zM47 42h1v1h-1zM56 42h1v1h-1zM9 43h1v1h-1zM29 43h1v1h-1zM36 43h2v1h-2zM55 43h1v1h-1zM4 44h1v1h-1zM15 44h1v1h-1zM19 44h1v1h-1zM26 44h1v1h-1zM33 44h1v1h-1zM39 44h1v1h-1zM41 44h1v1h-1zM44 44h1v1h-1zM51 44h1v1h-1zM54 44h2v1h-2zM2 45h1v1h-1zM7 45h2v1h-2zM11 45h1v1h-1zM17 45h1v1h-1zM44 45h1v1h-1zM5 46h1v1h-1zM19 46h1v1h-1zM22 46h1v1h-1zM34 46h1v1h-1zM47 46h1v1h-1zM49 46h1v1h-1zM57 46h1v1h-1zM0 47h1v1h-1zM8 47h1v1h-1zM10 47h1v1h-1zM17 47h1v1h-1zM20 47h1v1h-1zM22 47h1v1h-1zM24 47h1v1h-1zM31 47h1v1h-1zM40 47h1v1h-1zM54 47h1v1h-1zM2 48h1v1h-1zM11 48h2v1h-2zM18 48h1v1h-1zM32 48h1v1h-1zM36 48h1v1h-1zM55 48h1v1h-1zM1 49h1v1h-1zM4 49h1v1h-1zM28 49h1v1h-1zM31 49h1v1h-1zM51 49h1v1h-1zM53 49h1v1h-1zM57 49h1v1h-1zM4 50h1v1h-1zM12 50h1v1h-1zM16 50h1v1h-1zM23 50h1v1h-1zM47 50h2v1h-2zM57 50h1v1h-1zM20 51h2v1h-2zM27 51h1v1h-1zM29 51h1v1h-1zM43 51h1v1h-1zM48 51h2v1h-2zM2 52h1v1h-1zM12 52h1v1h-1zM16 52h1v1h-1zM21 52h1v1h-1zM26 52h1v1h-1zM39 52h1v1h-1zM43 52h2v1h-2zM57 52h1v1h-1zM9 53h1v1h-1zM29 53h1v1h-1zM31 53h3v1h-3zM35 53h1v1h-1zM39 53h1v1h-1zM53 53h1v1h-1zM58 53h1v1h-1zM4 54h2v1h-2zM11 54h2v1h-2zM23 54h1v1h-1zM29 54h1v1h-1zM50 54h1v1h-1zM53 54h1v1h-1zM8 55h1v1h-1zM38 55h2v1h-2zM7 56h1v1h-1zM10 56h1v1h-1zM12 56h1v1h-1zM17 56h1v1h-1zM23 56h1v1h-1zM32 56h1v1h-1zM35 56h1v1h-1zM40 56h1v1h-1zM47 56h2v1h-2zM56 56h2v1h-2zM0 57h1v1h-1zM14 57h1v1h-1zM22 57h1v1h-1zM38 57h1v1h-1zM45 57h1v1h-1zM3 58h1v1h-1zM7 58h1v1h-1zM17 58h1v1h-1zM20 58h1v1h-1zM36 58h1v1h-1zM48 58h1v1h-1zM15 59h1v1h-1zM26 59h1v1h-1zM30 59h1v1h-1zM36 59h1v1h-1zM39 59h1v1h-1zM42 59h1v1h-1zM48 59h1v1h-1zM50 59h1v1h-1zM53 59h1v1h-1zM59 59h1v1h-1z"/>
<path fill="#f0c8cd" d="M5 0h2v1h-2zM14 0h1v1h-1zM34 0h1v1h-1zM38 0h1v1h-1zM47 0h1v1h-1zM0 1h1v1h-1zM4 1h1v1h-1zM11 1h1v1h-1zM14 1h1v1h-1zM20 1h1v1h-1zM23 1h1v1h-1zM28 1h1v1h-1zM39 1h1v1h-1zM43 1h1v1h-1zM47 1h1v1h-1zM53 1h1v1h-1zM7 2h1v1h-1zM11 2h1v1h-1zM14 2h1v1h-1zM35 2h1v1h-1zM44 2h1v1h-1zM46 2h1v1h-1zM54 2h1v1h-1zM3 3h1v1h-1zM7 3h1v1h-1zM25 3h1v1h-1zM29 3h1v1h-1zM52 3h1v1h-1zM54 3h1v1h-1zM56 3h1v1h-1zM58 3h1v1h-1zM15 4h1v1h-1zM28 4h1v1h-1zM32 4h2v1h-2zM42 4h1v1h-1zM46 4h1v1h-1zM0 5h1v1h-1zM2 5h1v1h-1zM7 5h1v1h-1zM11 5h1v1h-1zM13 5h1v1h-1zM15 5h1v1h-1zM18 5h1v1h-1zM20 5h1v1h-1zM24 5h1v1h-1zM48 5h1v1h-1zM51 5h1v1h-1zM2 6h1v1h-1zM19 6h1v1h-1zM26 6h1v1h-1zM28 6h1v1h-1zM32 6h1v1h-1zM37 6h1v1h-1zM57 6h1v1h-1zM3 7h1v1h-1zM9 7h1v1h-1zM16 7h1v1h-1zM25 7h2v1h-2zM49 7h1v1h-1zM38 8h1v1h-1zM48 8h1v1h-1zM51 8h1v1h-1zM4 9h1v1h-1zM15 9h1v1h-1zM18 9h1v1h-1zM24 9h1v1h-1zM39 9h3v1h-3zM47 9h2v1h-2zM50 9h1v1h-1zM0 10h1v1h-1zM10 10h1v1h-1zM16 10h1v1h-1zM18 10h1v1h-1zM20 10h1v1h-1zM31 10h1v1h-1zM49 10h1v1h-1zM51 10h1v1h-1zM2 11h1v1h-1zM16 11h1v1h-1zM25 11h1v1h-1zM28 11h1v1h-1zM33 11h1v1h-1zM35 11h1v1h-1zM48 11h1v1h-1zM50 11h1v1h-1zM58 11h2v1h-2zM8 12h1v1h-1zM13 12h1v1h-1zM17 12h1v1h-1zM28 12h1v1h-1zM37 12h1v1h-1zM39 12h1v1h-1zM52 12h1v1h-1zM10 13h1v1h-1zM27 13h1v1h-1zM33 13h1v1h-1zM35 13h1v1h-1zM46 13h1v1h-1zM53 13h1v1h-1zM55 13h1v1h-1zM59 13h1v1h-1zM9 14h1v1h-1zM13 14h1v1h-1zM20 14h1v1h-1zM25 14h2v1h-2zM35 14h1v1h-1zM38 14h2v1h-2zM47 14h1v1h-1zM0 15h1v1h-1zM7 15h1v1h-1zM15 15h1v1h-1zM26 15h1v1h-1zM39 15h1v1h-1zM46 15h1v1h-1zM28 16h1v1h-1zM30 16h1v1h-1zM45 16h1v1h-1zM50 16h2v1h-2zM55 16h1v1h-1zM57 16h1v1h-1zM1 17h1v1h-1zM23 17h1v1h-1zM27 17h1v1h-1zM31 17h1v1h-1zM33 17h1v1h-1zM43 17h1v1h-1zM45 17h3v1h-3zM15 18h1v1h-1zM51 18h1v1h-1zM55 18h1v1h-1zM7 19h2v1h-2zM17 19h1v1h-1zM37 19h1v1h-1zM44 19h1v1h-1zM51 19h1v1h-1zM53 19h1v1h-1zM55 19h1v1h-1zM5 20h1v1h-1zM15 20h1v1h-1zM27 20h3v1h-3zM34 20h1v1h-1zM41 20h2v1h-2zM48 20h1v1h-1zM50 20h1v1h-1zM4 21h1v1h-1zM13 21h1v1h-1zM17 21h1v1h-1zM20 21h1v1h-1zM23 21h1v1h-1zM25 21h1v1h-1zM33 21h1v1h-1zM57 21h1v1h-1zM6 22h1v1h-1zM14 22h1v1h-1zM16 22h1v1h-1zM20 22h1v1h-1zM23 22h1v1h-1zM41 22h1v1h-1zM49 22h1v1h-1zM54 22h3v1h-3zM0 23h1v1h-1zM3 23h1v1h-1zM15 23h1v1h-1zM19 23h1v1h-1zM22 23h2v1h-2zM25 23h1v1h-1zM55 23h1v1h-1zM12 24h1v1h-1zM16 24h1v1h-1zM21 24h1v1h-1zM31 24h1v1h-1zM40 24h2v1h-2zM48 24h1v1h-1zM0 25h1v1h-1zM9 25h1v1h-1zM30 25h1v1h-1zM41 25h1v1h-1zM51 25h1v1h-1zM55 25h1v1h-1zM8 26h1v1h-1zM19 26h1v1h-1zM28 26h1v1h-1zM36 26h1v1h-1zM45 26h1v1h-1zM5 27h1v1h-1zM20 27h3v1h-3zM25 27h2v1h-2zM34 27h1v1h-1zM42 27h1v1h-1zM56 27h2v1h-2zM5 28h1v1h-1zM12 28h1v1h-1zM16 28h1v1h-1zM18 28h1v1h-1zM23 28h1v1h-1zM25 28h1v1h-1zM45 28h1v1h-1zM53 28h1v1h-1zM3 29h1v1h-1zM5 29h1v1h-1zM7 29h1v1h-1zM14 29h1v1h-1zM40 29h1v1h-1zM45 29h1v1h-1zM50 29h1v1h-1zM55 29h1v1h-1zM59 29h1v1h-1zM10 30h1v1h-1zM15 30h1v1h-1zM39 30h1v1h-1zM41 30h1v1h-1zM2 31h2v1h-2zM16 31h2v1h-2zM28 31h1v1h-1zM44 31h1v1h-1zM48 31h1v1h-1zM55 31h1v1h-1zM5 32h1v1h-1zM9 32h1v1h-1zM21 32h1v1h-1zM31 32h1v1h-1zM34 32h1v1h-1zM44 32h1v1h-1zM0 33h1v1h-1zM6 33h1v1h-1zM13 33h1v1h-1zM18 33h1v1h-1zM28 33h2v1h-2zM38 33h1v1h-1zM44 33h1v1h-1zM52 33h1v1h-1zM4 34h1v1h-1zM15 34h1v1h-1zM18 34h1v1h-1zM23 34h1v1h-1zM40 34h2v1h-2zM48 34h1v1h-1zM56 34h1v1h-1zM3 35h1v1h-1zM5 35h1v1h-1zM17 35h1v1h-1zM25 35h1v1h-1zM41 35h1v1h-1zM45 35h1v1h-1zM54 35h1v1h-1zM58 35h1v1h-1zM7 36h1v1h-1zM13 36h2v1h-2zM18 36h1v1h-1zM24 36h1v1h-1zM27 36h1v1h-1zM29 36h1v1h-1zM31 36h1v1h-1zM52 36h1v1h-1zM45 37h2v1h-2zM51 37h3v1h-3zM59 37h1v1h-1zM2 38h1v1h-1zM12 38h1v1h-1zM22 38h1v1h-1zM35 38h1v1h-1zM47 38h1v1h-1zM53 38h1v1h-1zM0 39h1v1h-1zM9 39h1v1h-1zM12 39h1v1h-1zM28 39h1v1h-1zM30 39h1v1h-1zM38 39h1v1h-1zM59 39h1v1h-1zM1 40h1v1h-1zM10 40h1v1h-1zM16 40h1v1h-1zM26 40h1v1h-1zM28 40h3v1h-3zM37 40h1v1h-1zM52 40h1v1h-1zM24 41h1v1h-1zM3 42h1v1h-1zM6 42h1v1h-1zM18 42h2v1h-2zM22 42h1v1h-1zM25 42h1v1h-1zM29 42h1v1h-1zM33 42h1v1h-1zM45 42h1v1h-1zM59 42h1v1h-1zM3 43h1v1h-1zM11 43h1v1h-1zM13 43h1v1h-1zM15 43h1v1h-1zM21 43h1v1h-1zM32 43h1v1h-1zM34 43h1v1h-1zM54 43h1v1h-1zM57 43h1v1h-1zM9 44h1v1h-1zM11 44h1v1h-1zM13 44h1v1h-1zM21 44h1v1h-1zM29 44h1v1h-1zM48 44h1v1h-1zM1 45h1v1h-1zM9 45h1v1h-1zM35 45h1v1h-1zM38 45h1v1h-1zM53 45h1v1h-1zM56 45h2v1h-2zM6 46h1v1h-1zM36 46h1v1h-1zM58 46h1v1h-1zM26 47h1v1h-1zM33 47h1v1h-1zM42 47h1v1h-1zM57 47h1v1h-1zM59 47h1v1h-1zM3 48h1v1h-1zM5 48h1v1h-1zM7 48h1v1h-1zM23 48h1v1h-1zM27 48h1v1h-1zM45 48h1v1h-1zM49 48h1v1h-1zM56 48h1v1h-1zM9 49h1v1h-1zM21 49h1v1h-1zM26 49h1v1h-1zM46 49h1v1h-1zM48 49h1v1h-1zM55 49h1v1h-1zM59 49h1v1h-1zM3 50h1v1h-1zM31 50h1v1h-1zM33 50h1v1h-1zM37 50h1v1h-1zM40 50h2v1h-2zM59 50h1v1h-1zM1 51h1v1h-1zM3 51h1v1h-1zM5 51h1v1h-1zM17 51h1v1h-1zM22 51h2v1h-2zM32 51h1v1h-1zM38 51h1v1h-1zM46 51h1v1h-1zM3 52h1v1h-1zM10 52h1v1h-1zM24 52h1v1h-1zM34 52h1v1h-1zM36 52h1v1h-1zM41 52h1v1h-1zM45 52h1v1h-1zM52 52h1v1h-1zM54 52h1v1h-1zM56 52h1v1h-1zM4 53h1v1h-1zM23 53h1v1h-1zM26 53h1v1h-1zM38 53h1v1h-1zM42 53h2v1h-2zM45 53h1v1h-1zM48 53h1v1h-1zM52 53h1v1h-1zM1 54h1v1h-1zM7 54h1v1h-1zM18 54h1v1h-1zM21 54h1v1h-1zM43 54h2v1h-2zM56 54h1v1h-1zM0 55h3v1h-3zM6 55h2v1h-2zM13 55h1v1h-1zM50 55h1v1h-1zM52 55h1v1h-1zM59 55h1v1h-1zM1 56h1v1h-1zM3 56h1v1h-1zM6 56h1v1h-1zM8 56h2v1h-2zM16 56h1v1h-1zM24 56h1v1h-1zM29 56h3v1h-3zM37 56h1v1h-1zM49 56h1v1h-1zM55 56h1v1h-1zM9 57h1v1h-1zM11 57h1v1h-1zM20 57h1v1h-1zM26 57h1v1h-1zM28 57h2v1h-2zM37 57h1v1h-1zM44 57h1v1h-1zM58 57h1v1h-1zM15 58h1v1h-1zM18 58h1v1h-1zM23 58h1v1h-1zM27 58h1v1h-1zM31 58h1v1h-1zM35 58h1v1h-1zM38 58h1v1h-1zM42 58h1v1h-1zM49 58h1v1h-1zM3 59h1v1h-1zM10 59h1v1h-1zM27 59h1v1h-1zM40 59h1v1h-1zM57 59h2v1h-2z"/>
<path fill="#dc8c93" d="M4 0h1v1h-1zM37 0h1v1h-1zM40 0h2v1h-2zM46 0h1v1h-1zM53 0h1v1h-1zM22 1h1v1h-1zM26 1h1v1h-1zM50 1h1v1h-1zM1 2h1v1h-1zM6 2h1v1h-1zM9 2h1v1h-1zM45 2h1v1h-1zM16 3h1v1h-1zM41 3h1v1h-1zM46 3h1v1h-1zM57 3h1v1h-1zM2 4h1v1h-1zM7 4h1v1h-1zM9 4h1v1h-1zM18 4h1v1h-1zM39 4h1v1h-1zM49 4h1v1h-1zM6 5h1v1h-1zM8 5h1v1h-1zM21 5h1v1h-1zM29 5h2v1h-2zM32 5h1v1h-1zM35 5h1v1h-1zM47 5h1v1h-1zM49 5h1v1h-1zM57 5h1v1h-1zM59 5h1v1h-1zM0 6h1v1h-1zM3 6h1v1h-1zM24 6h1v1h-1zM27 6h1v1h-1zM36 6h1v1h-1zM45 6h1v1h-1zM6 7h1v1h-1zM8 7h1v1h-1zM11 7h1v1h-1zM18 7h2v1h-2zM22 7h1v1h-1zM42 7h1v1h-1zM46 7h1v1h-1zM5 8h1v1h-1zM10 8h1v1h-1zM15 8h1v1h-1zM23 8h1v1h-1zM42 8h1v1h-1zM2 9h1v1h-1zM23 9h1v1h-1zM31 9h2v1h-2zM36 9h1v1h-1zM49 9h1v1h-1zM53 9h3v1h-3zM9 10h1v1h-1zM30 10h1v1h-1zM32 10h1v1h-1zM54 10h1v1h-1zM6 11h1v1h-1zM18 11h1v1h-1zM45 11h1v1h-1zM56 11h1v1h-1zM25 12h1v1h-1zM29 12h1v1h-1zM35 12h1v1h-1zM46 12h1v1h-1zM51 12h1v1h-1zM57 12h1v1h-1zM26 13h1v1h-1zM43 13h1v1h-1zM45 13h1v1h-1zM49 13h1v1h-1zM4 14h1v1h-1zM8 14h1v1h-1zM19 14h1v1h-1zM22 14h1v1h-1zM30 14h1v1h-1zM36 14h1v1h-1zM49 14h1v1h-1zM13 15h1v1h-1zM25 15h1v1h-1zM43 15h1v1h-1zM49 15h1v1h-1zM53 15h1v1h-1zM2 16h1v1h-1zM10 16h1v1h-1zM12 16h1v1h-1zM24 16h1v1h-1zM29 16h1v1h-1zM37 16h1v1h-1zM53 16h1v1h-1zM4 17h1v1h-1zM16 17h1v1h-1zM24 17h1v1h-1zM36 17h1v1h-1zM42 17h1v1h-1zM59 17h1v1h-1zM7 18h1v1h-1zM16 18h1v1h-1zM19 18h1v1h-1zM28 18h1v1h-1zM33 18h1v1h-1zM36 18h1v1h-1zM48 18h1v1h-1zM54 18h1v1h-1zM4 19h1v1h-1zM10 19h1v1h-1zM18 19h1v1h-1zM22 19h1v1h-1zM32 19h1v1h-1zM57 19h1v1h-1zM59 19h1v1h-1zM6 20h1v1h-1zM17 20h1v1h-1zM54 20h1v1h-1zM2 21h1v1h-1zM6 21h1v1h-1zM47 21h1v1h-1zM49 21h1v1h-1zM51 21h1v1h-1zM59 21h1v1h-1zM0 22h1v1h-1zM4 22h1v1h-1zM10 22h3v1h-3zM27 22h1v1h-1zM32 22h1v1h-1zM51 22h1v1h-1zM58 22h1v1h-1zM8 23h1v1h-1zM11 23h1v1h-1zM13 23h1v1h-1zM17 23h1v1h-1zM28 23h1v1h-1zM31 23h1v1h-1zM44 23h1v1h-1zM57 23h1v1h-1zM0 24h1v1h-1zM9 24h1v1h-1zM23 24h1v1h-1zM28 24h1v1h-1zM38 24h1v1h-1zM43 24h1v1h-1zM47 24h1v1h-1zM55 24h1v1h-1zM12 25h1v1h-1zM16 25h1v1h-1zM29 25h1v1h-1zM37 25h1v1h-1zM44 25h1v1h-1zM46 25h1v1h-1zM49 25h1v1h-1zM52 25h1v1h-1zM56 25h1v1h-1zM5 26h1v1h-1zM7 26h1v1h-1zM26 26h1v1h-1zM29 26h1v1h-1zM51 26h1v1h-1zM59 26h1v1h-1zM6 27h1v1h-1zM24 27h1v1h-1zM33 27h1v1h-1zM35 27h1v1h-1zM52 27h1v1h-1zM0 28h1v1h-1zM2 28h1v1h-1zM17 28h1v1h-1zM29 28h1v1h-1zM32 28h1v1h-1zM37 28h1v1h-1zM59 28h1v1h-1zM0 29h1v1h-1zM4 29h1v1h-1zM9 29h1v1h-1zM13 29h1v1h-1zM16 29h1v1h-1zM18 29h1v1h-1zM28 29h1v1h-1zM31 29h1v1h-1zM35 29h1v1h-1zM46 29h1v1h-1zM2 30h1v1h-1zM7 30h1v1h-1zM13 30h1v1h-1zM19 30h1v1h-1zM27 30h1v1h-1zM31 30h1v1h-1zM35 30h1v1h-1zM0 31h1v1h-1zM4 31h1v1h-1zM19 31h1v1h-1zM35 31h1v1h-1zM43 31h1v1h-1zM45 31h1v1h-1zM54 31h1v1h-1zM56 31h1v1h-1zM3 32h1v1h-1zM7 32h2v1h-2zM11 32h2v1h-2zM14 32h1v1h-1zM42 32h1v1h-1zM49 32h1v1h-1zM51 32h1v1h-1zM5 33h1v1h-1zM31 33h1v1h-1zM46 33h1v1h-1zM2 34h1v1h-1zM8 34h1v1h-1zM17 34h1v1h-1zM19 34h1v1h-1zM21 34h1v1h-1zM27 34h1v1h-1zM32 34h1v1h-1zM43 34h1v1h-1zM49 34h2v1h-2zM16 35h1v1h-1zM28 35h1v1h-1zM40 35h1v1h-1zM44 35h1v1h-1zM53 35h1v1h-1zM55 35h1v1h-1zM10 36h1v1h-1zM35 36h1v1h-1zM37 36h1v1h-1zM45 36h1v1h-1zM13 37h1v1h-1zM20 37h1v1h-1zM23 37h1v1h-1zM25 37h1v1h-1zM34 37h1v1h-1zM39 37h1v1h-1zM16 38h1v1h-1zM32 38h1v1h-1zM36 38h1v1h-1zM39 38h1v1h-1zM54 38h1v1h-1zM4 39h1v1h-1zM16 39h1v1h-1zM29 39h1v1h-1zM32 39h1v1h-1zM40 39h2v1h-2zM47 39h1v1h-1zM51 39h2v1h-2zM0 40h1v1h-1zM6 40h1v1h-1zM19 40h1v1h-1zM22 40h1v1h-1zM25 40h1v1h-1zM32 40h2v1h-2zM41 40h1v1h-1zM50 40h1v1h-1zM53 40h1v1h-1zM5 41h1v1h-1zM11 41h1v1h-1zM13 41h1v1h-1zM20 41h1v1h-1zM43 41h1v1h-1zM45 41h1v1h-1zM1 42h1v1h-1zM5 42h1v1h-1zM24 42h1v1h-1zM48 42h1v1h-1zM52 42h1v1h-1zM0 43h1v1h-1zM8 43h1v1h-1zM30 43h2v1h-2zM43 43h1v1h-1zM49 43h1v1h-1zM20 44h1v1h-1zM24 44h1v1h-1zM28 44h1v1h-1zM36 44h1v1h-1zM10 45h1v1h-1zM12 45h1v1h-1zM30 45h1v1h-1zM32 45h1v1h-1zM34 45h1v1h-1zM36 45h1v1h-1zM54 45h1v1h-1zM20 46h1v1h-1zM24 46h2v1h-2zM28 46h1v1h-1zM30 46h1v1h-1zM36 47h1v1h-1zM38 47h1v1h-1zM55 47h1v1h-1zM10 48h1v1h-1zM15 48h1v1h-1zM17 48h1v1h-1zM40 48h1v1h-1zM47 48h1v1h-1zM53 48h1v1h-1zM8 49h1v1h-1zM32 49h1v1h-1zM35 49h1v1h-1zM45 49h1v1h-1zM50 49h1v1h-1zM58 49h1v1h-1zM0 50h1v1h-1zM6 50h1v1h-1zM9 50h1v1h-1zM15 50h1v1h-1zM35 50h1v1h-1zM38 50h1v1h-1zM43 50h2v1h-2zM55 50h1v1h-1zM58 50h1v1h-1zM18 51h2v1h-2zM25 51h1v1h-1zM30 51h1v1h-1zM37 51h1v1h-1zM54 51h1v1h-1zM7 52h1v1h-1zM15 52h1v1h-1zM23 52h1v1h-1zM31 52h1v1h-1zM49 52h1v1h-1zM58 52h1v1h-1zM2 53h1v1h-1zM10 53h1v1h-1zM19 53h1v1h-1zM21 53h1v1h-1zM40 53h1v1h-1zM59 53h1v1h-1zM19 54h1v1h-1zM33 54h1v1h-1zM41 54h1v1h-1zM3 55h1v1h-1zM9 55h1v1h-1zM14 55h2v1h-2zM18 55h1v1h-1zM32 55h1v1h-1zM41 55h1v1h-1zM56 55h1v1h-1zM5 56h1v1h-1zM27 56h1v1h-1zM44 56h1v1h-1zM5 57h1v1h-1zM8 57h1v1h-1zM16 57h2v1h-2zM25 57h1v1h-1zM36 57h1v1h-1zM41 57h1v1h-1zM48 57h1v1h-1zM55 57h1v1h-1zM9 58h1v1h-1zM13 58h1v1h-1zM21 58h1v1h-1zM25 58h1v1h-1zM32 58h1v1h-1zM0 59h2v1h-2zM11 59h1v1h-1zM18 59h1v1h-1zM34 59h1v1h-1zM37 59h1v1h-1zM46 59h2v1h-2z"/>
<path fill="#c04f58" d="M0 0h2v1h-2zM15 0h2v1h-2zM25 0h1v1h-1zM33 0h1v1h-1zM36 0h1v1h-1zM39 0h1v1h-1zM43 0h2v1h-2zM51 0h1v1h-1zM55 0h2v1h-2zM59 0h1v1h-1zM6 1h1v1h-1zM8 1h1v1h-1zM10 1h1v1h-1zM19 1h1v1h-1zM24 1h1v1h-1zM31 1h1v1h-1zM34 1h1v1h-1zM37 1h1v1h-1zM45 1h1v1h-1zM56 1h1v1h-1zM8 2h1v1h-1zM10 2h1v1h-1zM18 2h1v1h-1zM24 2h1v1h-1zM37 2h3v1h-3zM5 3h2v1h-2zM19 3h1v1h-1zM22 3h1v1h-1zM28 3h1v1h-1zM39 3h1v1h-1zM51 3h1v1h-1zM53 3h1v1h-1zM6 4h1v1h-1zM8 4h1v1h-1zM16 4h1v1h-1zM21 4h1v1h-1zM26 4h2v1h-2zM38 4h1v1h-1zM44 4h1v1h-1zM48 4h1v1h-1zM55 4h1v1h-1zM1 5h1v1h-1zM4 5h1v1h-1zM9 5h1v1h-1zM14 5h1v1h-1zM19 5h1v1h-1zM23 5h1v1h-1zM26 5h2v1h-2zM43 5h1v1h-1zM4 6h1v1h-1zM12 6h1v1h-1zM17 6h1v1h-1zM22 6h1v1h-1zM30 6h1v1h-1zM35 6h1v1h-1zM43 6h1v1h-1zM54 6h2v1h-2zM58 6h1v1h-1zM13 7h2v1h-2zM17 7h1v1h-1zM20 7h2v1h-2zM23 7h1v1h-1zM30 7h1v1h-1zM33 7h1v1h-1zM35 7h1v1h-1zM40 7h2v1h-2zM52 7h1v1h-1zM8 8h1v1h-1zM13 8h1v1h-1zM18 8h1v1h-1zM27 8h3v1h-3zM35 8h1v1h-1zM37 8h1v1h-1zM39 8h1v1h-1zM50 8h1v1h-1zM53 8h1v1h-1zM1 9h1v1h-1zM5 9h1v1h-1zM16 9h2v1h-2zM20 9h1v1h-1zM37 9h1v1h-1zM3 10h3v1h-3zM12 10h1v1h-1zM22 10h1v1h-1zM28 10h1v1h-1zM46 10h1v1h-1zM50 10h1v1h-1zM57 10h1v1h-1zM15 11h1v1h-1zM19 11h1v1h-1zM22 11h2v1h-2zM26 11h1v1h-1zM38 11h1v1h-1zM47 11h1v1h-1zM9 12h1v1h-1zM19 12h1v1h-1zM22 12h1v1h-1zM27 12h1v1h-1zM30 12h1v1h-1zM32 12h1v1h-1zM38 12h1v1h-1zM40 12h1v1h-1zM50 12h1v1h-1zM54 12h1v1h-1zM58 12h1v1h-1zM0 13h1v1h-1zM15 13h1v1h-1zM20 13h1v1h-1zM25 13h1v1h-1zM34 13h1v1h-1zM44 13h1v1h-1zM50 13h1v1h-1zM57 13h1v1h-1zM3 14h1v1h-1zM7 14h1v1h-1zM10 14h1v1h-1zM15 14h2v1h-2zM29 14h1v1h-1zM32 14h1v1h-1zM37 14h1v1h-1zM44 14h1v1h-1zM54 14h1v1h-1zM4 15h3v1h-3zM21 15h2v1h-2zM30 15h1v1h-1zM40 15h2v1h-2zM55 15h1v1h-1zM0 16h1v1h-1zM3 16h1v1h-1zM5 16h1v1h-1zM15 16h1v1h-1zM31 16h1v1h-1zM33 16h1v1h-1zM39 16h3v1h-3zM44 16h1v1h-1zM52 16h1v1h-1zM56 16h1v1h-1zM2 17h1v1h-1zM5 17h1v1h-1zM7 17h1v1h-1zM11 17h1v1h-1zM14 17h1v1h-1zM26 17h1v1h-1zM30 17h1v1h-1zM40 17h1v1h-1zM5 18h2v1h-2zM32 18h1v1h-1zM34 18h1v1h-1zM44 18h2v1h-2zM56 18h1v1h-1zM58 18h2v1h-2zM1 19h1v1h-1zM13 19h1v1h-1zM16 19h1v1h-1zM19 19h2v1h-2zM30 19h1v1h-1zM36 19h1v1h-1zM42 19h1v1h-1zM45 19h1v1h-1zM0 20h1v1h-1zM4 20h1v1h-1zM8 20h2v1h-2zM16 20h1v1h-1zM18 20h1v1h-1zM24 20h2v1h-2zM32 20h2v1h-2zM44 20h1v1h-1zM46 20h1v1h-1zM51 20h1v1h-1zM7 21h2v1h-2zM16 21h1v1h-1zM18 21h1v1h-1zM43 21h1v1h-1zM48 21h1v1h-1zM58 21h1v1h-1zM2 22h2v1h-2zM21 22h1v1h-1zM25 22h2v1h-2zM30 22h1v1h-1zM33 22h1v1h-1zM37 22h3v1h-3zM42 22h1v1h-1zM46 22h1v1h-1zM57 22h1v1h-1zM1 23h1v1h-1zM9 23h2v1h-2zM12 23h1v1h-1zM16 23h1v1h-1zM29 23h1v1h-1zM38 23h1v1h-1zM45 23h1v1h-1zM50 23h2v1h-2zM14 24h1v1h-1zM20 24h1v1h-1zM46 24h1v1h-1zM49 24h1v1h-1zM53 24h1v1h-1zM56 24h1v1h-1zM2 25h1v1h-1zM4 25h1v1h-1zM6 25h1v1h-1zM11 25h1v1h-1zM25 25h1v1h-1zM34 25h1v1h-1zM36 25h1v1h-1zM42 25h1v1h-1zM50 25h1v1h-1zM1 26h1v1h-1zM9 26h1v1h-1zM17 26h2v1h-2zM30 26h1v1h-1zM33 26h1v1h-1zM37 26h2v1h-2zM44 26h1v1h-1zM49 26h1v1h-1zM54 26h1v1h-1zM0 27h1v1h-1zM8 27h1v1h-1zM14 27h1v1h-1zM28 27h2v1h-2zM43 27h1v1h-1zM45 27h1v1h-1zM53 27h1v1h-1zM46 28h2v1h-2zM49 28h1v1h-1zM6 29h1v1h-1zM19 29h1v1h-1zM22 29h1v1h-1zM53 29h1v1h-1zM14 30h1v1h-1zM26 30h1v1h-1zM37 30h1v1h-1zM47 30h1v1h-1zM49 30h1v1h-1zM58 30h1v1h-1zM6 31h1v1h-1zM9 31h1v1h-1zM11 31h1v1h-1zM32 31h1v1h-1zM37 31h1v1h-1zM49 31h1v1h-1zM53 31h1v1h-1zM6 32h1v1h-1zM17 32h1v1h-1zM19 32h1v1h-1zM26 32h1v1h-1zM32 32h1v1h-1zM46 32h1v1h-1zM58 32h1v1h-1zM12 33h1v1h-1zM19 33h1v1h-1zM22 33h1v1h-1zM24 33h1v1h-1zM26 33h1v1h-1zM30 33h1v1h-1zM32 33h1v1h-1zM40 33h1v1h-1zM48 33h1v1h-1zM50 33h1v1h-1zM54 33h2v1h-2zM59 33h1v1h-1zM0 34h2v1h-2zM14 34h1v1h-1zM16 34h1v1h-1zM26 34h1v1h-1zM29 34h1v1h-1zM33 34h1v1h-1zM57 34h1v1h-1zM59 34h1v1h-1zM11 35h1v1h-1zM18 35h1v1h-1zM21 35h3v1h-3zM29 35h1v1h-1zM36 35h2v1h-2zM39 35h1v1h-1zM46 35h1v1h-1zM51 35h2v1h-2zM56 35h1v1h-1zM59 35h1v1h-1zM3 36h1v1h-1zM34 36h1v1h-1zM42 36h1v1h-1zM50 36h1v1h-1zM56 36h1v1h-1zM58 36h2v1h-2zM6 37h1v1h-1zM15 37h3v1h-3zM27 37h1v1h-1zM31 37h1v1h-1zM38 37h1v1h-1zM41 37h2v1h-2zM50 37h1v1h-1zM55 37h1v1h-1zM57 37h1v1h-1zM0 38h2v1h-2zM3 38h1v1h-1zM8 38h1v1h-1zM13 38h1v1h-1zM17 38h1v1h-1zM23 38h1v1h-1zM25 38h1v1h-1zM28 38h1v1h-1zM31 38h1v1h-1zM33 38h1v1h-1zM38 38h1v1h-1zM42 38h1v1h-1zM45 38h1v1h-1zM58 38h1v1h-1zM18 39h2v1h-2zM21 39h1v1h-1zM23 39h1v1h-1zM25 39h2v1h-2zM33 39h1v1h-1zM35 39h1v1h-1zM44 39h1v1h-1zM50 39h1v1h-1zM56 39h1v1h-1zM3 40h1v1h-1zM8 40h1v1h-1zM12 40h1v1h-1zM17 40h1v1h-1zM27 40h1v1h-1zM40 40h1v1h-1zM46 40h1v1h-1zM48 40h1v1h-1zM58 40h1v1h-1zM3 41h2v1h-2zM6 41h2v1h-2zM17 41h1v1h-1zM28 41h1v1h-1zM32 41h1v1h-1zM37 41h1v1h-1zM44 41h1v1h-1zM47 41h1v1h-1zM53 41h1v1h-1zM55 41h1v1h-1zM13 42h1v1h-1zM26 42h1v1h-1zM31 42h1v1h-1zM39 42h1v1h-1zM50 42h1v1h-1zM5 43h2v1h-2zM10 43h1v1h-1zM18 43h1v1h-1zM38 43h1v1h-1zM50 43h1v1h-1zM59 43h1v1h-1zM3 44h1v1h-1zM7 44h1v1h-1zM12 44h1v1h-1zM17 44h1v1h-1zM22 44h1v1h-1zM25 44h1v1h-1zM30 44h2v1h-2zM34 44h1v1h-1zM37 44h1v1h-1zM43 44h1v1h-1zM47 44h1v1h-1zM53 44h1v1h-1zM5 45h1v1h-1zM13 45h1v1h-1zM16 45h1v1h-1zM18 45h1v1h-1zM29 45h1v1h-1zM37 45h1v1h-1zM39 45h1v1h-1zM41 45h1v1h-1zM51 45h1v1h-1zM55 45h1v1h-1zM59 45h1v1h-1zM0 46h1v1h-1zM2 46h1v1h-1zM11 46h1v1h-1zM33 46h1v1h-1zM48 46h1v1h-1zM56 46h1v1h-1zM11 47h2v1h-2zM16 47h1v1h-1zM18 47h1v1h-1zM30 47h1v1h-1zM34 47h1v1h-1zM50 47h1v1h-1zM58 47h1v1h-1zM0 48h2v1h-2zM6 48h1v1h-1zM8 48h1v1h-1zM19 48h2v1h-2zM37 48h1v1h-1zM42 48h2v1h-2zM48 48h1v1h-1zM51 48h1v1h-1zM54 48h1v1h-1zM59 48h1v1h-1zM5 49h1v1h-1zM10 49h1v1h-1zM13 49h1v1h-1zM15 49h1v1h-1zM22 49h1v1h-1zM33 49h1v1h-1zM39 49h1v1h-1zM41 49h2v1h-2zM44 49h1v1h-1zM8 50h1v1h-1zM29 50h1v1h-1zM36 50h1v1h-1zM45 50h1v1h-1zM51 50h1v1h-1zM15 51h1v1h-1zM31 51h1v1h-1zM35 51h2v1h-2zM44 51h1v1h-1zM47 51h1v1h-1zM55 51h1v1h-1zM9 52h1v1h-1zM17 52h3v1h-3zM27 52h1v1h-1zM32 52h1v1h-1zM42 52h1v1h-1zM48 52h1v1h-1zM12 53h2v1h-2zM15 53h2v1h-2zM47 53h1v1h-1zM49 53h1v1h-1zM54 53h1v1h-1zM56 53h1v1h-1zM6 54h1v1h-1zM15 54h1v1h-1zM24 54h1v1h-1zM27 54h2v1h-2zM30 54h1v1h-1zM35 54h1v1h-1zM37 54h1v1h-1zM42 54h1v1h-1zM51 54h2v1h-2zM54 54h1v1h-1zM59 54h1v1h-1zM5 55h1v1h-1zM10 55h1v1h-1zM19 55h1v1h-1zM22 55h1v1h-1zM27 55h1v1h-1zM33 55h1v1h-1zM35 55h1v1h-1zM44 55h1v1h-1zM55 55h1v1h-1zM4 56h1v1h-1zM11 56h1v1h-1zM15 56h1v1h-1zM19 56h2v1h-2zM25 56h1v1h-1zM33 56h1v1h-1zM39 56h1v1h-1zM52 56h1v1h-1zM58 56h1v1h-1zM4 57h1v1h-1zM7 57h1v1h-1zM18 57h1v1h-1zM31 57h2v1h-2zM50 57h1v1h-1zM4 58h1v1h-1zM6 58h1v1h-1zM16 58h1v1h-1zM19 58h1v1h-1zM29 58h1v1h-1zM34 58h1v1h-1zM39 58h1v1h-1zM43 58h1v1h-1zM54 58h1v1h-1zM57 58h1v1h-1zM59 58h1v1h-1zM2 59h1v1h-1zM8 59h2v1h-2zM16 59h1v1h-1zM19 59h1v1h-1zM24 59h1v1h-1zM31 59h3v1h-3zM35 59h1v1h-1zM51 59h2v1h-2z"/>
</pattern>
<pattern id="pe" width="50" height="50" patternUnits="userSpaceOnUse" x="567" y="14">
<rect width="50" height="50" fill="#fbfafc"/>
<path fill="#6e68cc" d="M6 0h1v1h-1zM25 0h1v1h-1zM25 1h1v1h-1zM27 1h1v1h-1zM37 1h1v1h-1zM42 1h1v1h-1zM13 2h1v1h-1zM16 2h1v1h-1zM26 2h1v1h-1zM41 2h1v1h-1zM34 3h1v1h-1zM3 4h1v1h-1zM10 4h1v1h-1zM33 4h1v1h-1zM36 4h1v1h-1zM43 4h2v1h-2zM2 6h1v1h-1zM5 6h1v1h-1zM10 6h1v1h-1zM19 6h1v1h-1zM25 7h1v1h-1zM22 8h1v1h-1zM33 9h1v1h-1zM15 10h1v1h-1zM30 10h1v1h-1zM38 10h1v1h-1zM48 10h1v1h-1zM21 11h1v1h-1zM42 11h1v1h-1zM2 12h1v1h-1zM6 12h2v1h-2zM11 12h1v1h-1zM14 12h1v1h-1zM23 12h1v1h-1zM39 12h2v1h-2zM43 12h2v1h-2zM3 13h1v1h-1zM35 13h1v1h-1zM9 14h1v1h-1zM13 14h1v1h-1zM28 14h1v1h-1zM42 15h1v1h-1zM25 16h1v1h-1zM30 16h1v1h-1zM37 16h1v1h-1zM39 16h1v1h-1zM42 16h1v1h-1zM0 17h1v1h-1zM15 17h1v1h-1zM45 17h1v1h-1zM33 18h1v1h-1zM41 18h1v1h-1zM1 19h1v1h-1zM7 19h1v1h-1zM31 19h1v1h-1zM1 20h1v1h-1zM6 20h1v1h-1zM0 21h1v1h-1zM27 21h1v1h-1zM47 21h1v1h-1zM49 21h1v1h-1zM17 22h1v1h-1zM30 22h1v1h-1zM5 23h1v1h-1zM18 23h1v1h-1zM23 23h1v1h-1zM47 23h1v1h-1zM38 24h1v1h-1zM8 25h1v1h-1zM11 26h1v1h-1zM21 26h1v1h-1zM40 26h1v1h-1zM49 26h1v1h-1zM3 27h1v1h-1zM26 27h2v1h-2zM8 28h1v1h-1zM10 28h1v1h-1zM14 28h1v1h-1zM24 28h1v1h-1zM37 28h1v1h-1zM47 28h1v1h-1zM10 29h1v1h-1zM24 29h1v1h-1zM20 30h1v1h-1zM5 31h1v1h-1zM23 31h1v1h-1zM49 31h1v1h-1zM19 32h1v1h-1zM37 32h1v1h-1zM40 32h1v1h-1zM49 32h1v1h-1zM12 34h1v1h-1zM22 34h1v1h-1zM25 34h1v1h-1zM40 34h2v1h-2zM12 35h1v1h-1zM31 35h1v1h-1zM49 35h1v1h-1zM5 37h1v1h-1zM26 37h1v1h-1zM29 37h1v1h-1zM6 38h1v1h-1zM22 38h1v1h-1zM46 38h1v1h-1zM7 39h1v1h-1zM32 39h1v1h-1zM0 40h1v1h-1zM43 40h1v1h-1zM33 41h1v1h-1zM41 41h1v1h-1zM15 42h1v1h-1zM23 42h1v1h-1zM37 43h1v1h-1zM40 43h1v1h-1zM41 44h1v1h-1zM48 44h1v1h-1zM9 45h1v1h-1zM41 45h1v1h-1zM48 45h1v1h-1zM12 46h1v1h-1zM22 46h1v1h-1zM32 46h1v1h-1zM46 47h1v1h-1zM8 48h1v1h-1zM39 48h1v1h-1zM6 49h1v1h-1zM8 49h1v1h-1zM25 49h1v1h-1zM48 49h1v1h-1z"/>
<path fill="#b0adec" d="M5 0h1v1h-1zM15 0h1v1h-1zM21 0h1v1h-1zM37 0h2v1h-2zM15 1h1v1h-1zM18 1h1v1h-1zM21 1h1v1h-1zM35 1h1v1h-1zM41 1h1v1h-1zM19 2h1v1h-1zM27 2h1v1h-1zM1 3h1v1h-1zM13 3h1v1h-1zM24 3h1v1h-1zM33 3h1v1h-1zM49 3h1v1h-1zM45 4h3v1h-3zM0 5h1v1h-1zM10 5h1v1h-1zM14 5h1v1h-1zM32 5h1v1h-1zM42 5h1v1h-1zM0 6h1v1h-1zM3 6h1v1h-1zM6 6h2v1h-2zM12 6h1v1h-1zM23 6h1v1h-1zM26 6h1v1h-1zM40 6h1v1h-1zM3 7h2v1h-2zM32 7h1v1h-1zM15 8h2v1h-2zM31 8h1v1h-1zM34 8h1v1h-1zM37 8h1v1h-1zM1 9h1v1h-1zM13 9h1v1h-1zM15 9h1v1h-1zM24 9h1v1h-1zM44 9h1v1h-1zM46 9h2v1h-2zM7 10h1v1h-1zM45 10h1v1h-1zM1 11h1v1h-1zM7 11h1v1h-1zM20 11h1v1h-1zM22 11h1v1h-1zM45 11h1v1h-1zM3 12h1v1h-1zM17 12h1v1h-1zM22 12h1v1h-1zM35 12h1v1h-1zM41 12h1v1h-1zM7 13h1v1h-1zM10 13h1v1h-1zM33 13h1v1h-1zM39 13h1v1h-1zM0 14h1v1h-1zM3 14h1v1h-1zM5 14h2v1h-2zM10 14h1v1h-1zM25 14h1v1h-1zM27 14h1v1h-1zM32 14h1v1h-1zM43 14h1v1h-1zM1 15h1v1h-1zM4 15h1v1h-1zM15 15h1v1h-1zM37 15h1v1h-1zM0 16h1v1h-1zM3 16h2v1h-2zM26 16h1v1h-1zM44 16h1v1h-1zM7 17h1v1h-1zM37 17h1v1h-1zM2 18h1v1h-1zM21 18h1v1h-1zM24 18h1v1h-1zM27 18h1v1h-1zM36 18h1v1h-1zM44 18h1v1h-1zM0 19h1v1h-1zM11 19h1v1h-1zM15 19h3v1h-3zM20 19h1v1h-1zM5 20h1v1h-1zM13 20h1v1h-1zM16 20h1v1h-1zM31 20h1v1h-1zM46 20h1v1h-1zM19 21h1v1h-1zM23 21h2v1h-2zM37 21h1v1h-1zM46 21h1v1h-1zM9 22h1v1h-1zM12 22h1v1h-1zM16 22h1v1h-1zM28 22h1v1h-1zM34 22h1v1h-1zM46 22h1v1h-1zM13 23h1v1h-1zM31 23h1v1h-1zM16 24h1v1h-1zM27 24h1v1h-1zM48 24h1v1h-1zM7 25h1v1h-1zM13 25h1v1h-1zM19 25h1v1h-1zM23 25h1v1h-1zM38 25h1v1h-1zM26 26h1v1h-1zM31 26h1v1h-1zM36 26h1v1h-1zM39 26h1v1h-1zM41 26h1v1h-1zM7 27h1v1h-1zM20 27h1v1h-1zM39 27h1v1h-1zM42 27h1v1h-1zM47 27h1v1h-1zM2 28h1v1h-1zM20 28h1v1h-1zM22 28h1v1h-1zM27 28h1v1h-1zM33 28h1v1h-1zM38 28h1v1h-1zM16 29h1v1h-1zM36 29h1v1h-1zM2 30h1v1h-1zM5 30h1v1h-1zM12 30h1v1h-1zM26 30h1v1h-1zM45 30h1v1h-1zM48 30h1v1h-1zM3 31h1v1h-1zM14 31h1v1h-1zM21 31h1v1h-1zM28 31h1v1h-1zM39 31h1v1h-1zM8 32h1v1h-1zM13 32h1v1h-1zM21 32h1v1h-1zM30 32h1v1h-1zM32 32h2v1h-2zM5 33h1v1h-1zM10 33h1v1h-1zM27 33h1v1h-1zM35 33h1v1h-1zM3 34h1v1h-1zM9 34h1v1h-1zM35 34h1v1h-1zM42 34h2v1h-2zM49 34h1v1h-1zM3 35h1v1h-1zM9 35h1v1h-1zM21 35h1v1h-1zM24 35h1v1h-1zM49 36h1v1h-1zM11 37h1v1h-1zM24 37h1v1h-1zM38 37h1v1h-1zM40 37h1v1h-1zM43 37h1v1h-1zM29 38h1v1h-1zM33 38h1v1h-1zM38 38h1v1h-1zM43 38h1v1h-1zM47 38h1v1h-1zM8 39h1v1h-1zM11 39h1v1h-1zM20 39h1v1h-1zM26 39h1v1h-1zM30 39h1v1h-1zM42 39h1v1h-1zM45 39h1v1h-1zM48 39h1v1h-1zM10 40h1v1h-1zM18 40h1v1h-1zM39 40h1v1h-1zM10 41h1v1h-1zM15 41h1v1h-1zM21 41h1v1h-1zM30 41h1v1h-1zM40 41h1v1h-1zM44 41h1v1h-1zM18 42h1v1h-1zM21 42h1v1h-1zM28 42h1v1h-1zM30 42h1v1h-1zM32 42h3v1h-3zM3 43h1v1h-1zM10 43h1v1h-1zM27 43h1v1h-1zM29 43h1v1h-1zM34 43h1v1h-1zM10 44h1v1h-1zM15 44h1v1h-1zM24 44h2v1h-2zM33 44h1v1h-1zM39 44h2v1h-2zM47 44h1v1h-1zM0 45h1v1h-1zM2 45h1v1h-1zM19 45h2v1h-2zM2 46h1v1h-1zM10 46h1v1h-1zM17 46h1v1h-1zM48 46h1v1h-1zM3 47h1v1h-1zM6 47h1v1h-1zM29 47h1v1h-1zM37 47h1v1h-1zM49 47h1v1h-1zM0 48h1v1h-1zM26 48h1v1h-1zM35 48h1v1h-1zM40 48h1v1h-1zM46 48h1v1h-1zM13 49h1v1h-1zM18 49h1v1h-1zM20 49h1v1h-1zM36 49h1v1h-1zM49 49h1v1h-1z"/>
<path fill="#f0c8cd" d="M19 0h2v1h-2zM22 0h1v1h-1zM28 0h1v1h-1zM30 0h1v1h-1zM0 1h1v1h-1zM4 1h1v1h-1zM10 1h1v1h-1zM28 1h1v1h-1zM0 2h1v1h-1zM7 2h1v1h-1zM22 2h1v1h-1zM24 2h2v1h-2zM28 2h1v1h-1zM43 2h1v1h-1zM0 3h1v1h-1zM9 3h1v1h-1zM21 3h1v1h-1zM42 3h1v1h-1zM44 3h1v1h-1zM5 4h1v1h-1zM11 4h1v1h-1zM14 4h1v1h-1zM5 5h1v1h-1zM12 5h1v1h-1zM25 5h1v1h-1zM27 5h1v1h-1zM31 5h1v1h-1zM44 5h1v1h-1zM47 5h2v1h-2zM14 6h1v1h-1zM22 6h1v1h-1zM24 6h1v1h-1zM34 6h1v1h-1zM44 6h1v1h-1zM46 6h3v1h-3zM1 7h1v1h-1zM5 7h1v1h-1zM9 7h1v1h-1zM16 7h1v1h-1zM19 7h1v1h-1zM41 7h1v1h-1zM44 7h1v1h-1zM49 7h1v1h-1zM0 8h1v1h-1zM7 8h1v1h-1zM14 8h1v1h-1zM21 8h1v1h-1zM33 8h1v1h-1zM41 8h1v1h-1zM43 8h2v1h-2zM47 8h1v1h-1zM49 8h1v1h-1zM4 9h2v1h-2zM8 9h1v1h-1zM12 9h1v1h-1zM17 9h1v1h-1zM20 9h1v1h-1zM25 9h2v1h-2zM28 9h1v1h-1zM49 9h1v1h-1zM3 10h1v1h-1zM5 10h1v1h-1zM24 10h1v1h-1zM29 10h1v1h-1zM32 10h1v1h-1zM40 10h1v1h-1zM6 11h1v1h-1zM11 11h2v1h-2zM18 11h1v1h-1zM26 11h1v1h-1zM29 11h1v1h-1zM32 11h1v1h-1zM36 11h1v1h-1zM10 12h1v1h-1zM24 12h1v1h-1zM36 12h1v1h-1zM45 12h1v1h-1zM13 13h1v1h-1zM16 13h2v1h-2zM28 13h1v1h-1zM30 13h1v1h-1zM34 13h1v1h-1zM37 13h2v1h-2zM42 13h1v1h-1zM47 13h1v1h-1zM7 14h1v1h-1zM11 14h1v1h-1zM37 14h1v1h-1zM0 15h1v1h-1zM6 15h1v1h-1zM8 15h1v1h-1zM19 15h1v1h-1zM38 15h1v1h-1zM43 15h1v1h-1zM47 15h2v1h-2zM6 16h1v1h-1zM3 17h1v1h-1zM8 17h1v1h-1zM16 17h1v1h-1zM20 17h1v1h-1zM28 17h1v1h-1zM0 18h1v1h-1zM3 18h1v1h-1zM8 18h1v1h-1zM29 18h1v1h-1zM48 18h2v1h-2zM2 19h1v1h-1zM29 19h1v1h-1zM33 19h1v1h-1zM10 20h1v1h-1zM33 20h1v1h-1zM35 20h1v1h-1zM10 21h1v1h-1zM16 21h1v1h-1zM31 21h1v1h-1zM36 21h1v1h-1zM7 22h1v1h-1zM11 22h1v1h-1zM14 22h1v1h-1zM29 22h1v1h-1zM41 22h1v1h-1zM3 23h1v1h-1zM29 23h1v1h-1zM36 23h1v1h-1zM38 23h1v1h-1zM41 23h1v1h-1zM4 24h1v1h-1zM12 24h1v1h-1zM14 24h1v1h-1zM36 24h1v1h-1zM39 24h2v1h-2zM45 24h1v1h-1zM1 25h1v1h-1zM36 25h1v1h-1zM39 25h2v1h-2zM47 25h1v1h-1zM2 26h1v1h-1zM4 26h1v1h-1zM13 26h1v1h-1zM15 26h1v1h-1zM19 26h1v1h-1zM23 26h1v1h-1zM28 26h1v1h-1zM30 26h1v1h-1zM33 26h1v1h-1zM48 26h1v1h-1zM1 27h1v1h-1zM12 27h1v1h-1zM34 27h2v1h-2zM11 28h1v1h-1zM15 28h1v1h-1zM28 28h1v1h-1zM34 28h1v1h-1zM39 28h1v1h-1zM42 28h1v1h-1zM49 28h1v1h-1zM4 29h2v1h-2zM25 29h2v1h-2zM28 29h1v1h-1zM34 29h2v1h-2zM44 29h2v1h-2zM0 30h1v1h-1zM43 30h1v1h-1zM13 31h1v1h-1zM18 31h1v1h-1zM5 32h1v1h-1zM22 32h1v1h-1zM24 32h1v1h-1zM27 32h1v1h-1zM36 32h1v1h-1zM39 32h1v1h-1zM44 32h2v1h-2zM48 32h1v1h-1zM9 33h1v1h-1zM11 33h1v1h-1zM21 33h1v1h-1zM29 33h1v1h-1zM40 33h1v1h-1zM42 33h1v1h-1zM6 34h1v1h-1zM19 34h1v1h-1zM21 34h1v1h-1zM47 34h1v1h-1zM0 35h1v1h-1zM11 35h1v1h-1zM16 35h1v1h-1zM25 35h1v1h-1zM28 35h2v1h-2zM35 35h1v1h-1zM37 35h1v1h-1zM39 35h1v1h-1zM42 35h1v1h-1zM0 36h1v1h-1zM14 36h1v1h-1zM17 36h1v1h-1zM19 36h1v1h-1zM25 36h1v1h-1zM29 36h1v1h-1zM34 36h1v1h-1zM37 36h1v1h-1zM39 36h1v1h-1zM41 36h1v1h-1zM46 36h2v1h-2zM2 37h1v1h-1zM17 37h1v1h-1zM48 37h1v1h-1zM23 38h1v1h-1zM35 38h1v1h-1zM4 39h1v1h-1zM14 39h1v1h-1zM29 39h1v1h-1zM39 39h1v1h-1zM2 40h1v1h-1zM7 40h1v1h-1zM13 40h1v1h-1zM20 40h1v1h-1zM22 40h1v1h-1zM29 40h2v1h-2zM35 40h1v1h-1zM40 40h1v1h-1zM47 40h1v1h-1zM6 41h1v1h-1zM8 41h1v1h-1zM18 41h1v1h-1zM24 41h1v1h-1zM26 41h1v1h-1zM46 41h1v1h-1zM49 41h1v1h-1zM1 42h1v1h-1zM7 42h2v1h-2zM11 42h1v1h-1zM13 42h1v1h-1zM31 42h1v1h-1zM33 43h1v1h-1zM0 44h1v1h-1zM2 44h1v1h-1zM13 44h1v1h-1zM49 44h1v1h-1zM8 45h1v1h-1zM14 45h1v1h-1zM35 45h1v1h-1zM40 45h1v1h-1zM46 45h1v1h-1zM16 46h1v1h-1zM25 46h1v1h-1zM4 47h1v1h-1zM13 47h2v1h-2zM24 47h1v1h-1zM26 47h1v1h-1zM36 47h1v1h-1zM41 47h1v1h-1zM5 48h1v1h-1zM13 48h1v1h-1zM20 48h1v1h-1zM36 48h2v1h-2zM43 48h1v1h-1zM45 48h1v1h-1zM2 49h1v1h-1zM23 49h1v1h-1zM30 49h1v1h-1zM34 49h1v1h-1zM42 49h1v1h-1z"/>
<path fill="#dc8c93" d="M7 0h1v1h-1zM12 0h1v1h-1zM33 0h1v1h-1zM2 1h1v1h-1zM12 1h1v1h-1zM16 1h1v1h-1zM19 1h1v1h-1zM23 1h1v1h-1zM40 2h1v1h-1zM46 2h1v1h-1zM4 3h1v1h-1zM6 3h1v1h-1zM16 3h2v1h-2zM20 3h1v1h-1zM22 3h1v1h-1zM26 3h1v1h-1zM43 3h1v1h-1zM2 4h1v1h-1zM23 4h1v1h-1zM27 4h1v1h-1zM29 4h1v1h-1zM31 4h2v1h-2zM42 4h1v1h-1zM49 4h1v1h-1zM18 5h1v1h-1zM20 5h1v1h-1zM39 5h1v1h-1zM43 5h1v1h-1zM46 5h1v1h-1zM4 6h1v1h-1zM11 6h1v1h-1zM13 6h1v1h-1zM15 6h1v1h-1zM18 6h1v1h-1zM20 6h1v1h-1zM29 6h1v1h-1zM21 7h1v1h-1zM31 7h1v1h-1zM37 7h2v1h-2zM42 7h1v1h-1zM2 8h1v1h-1zM8 8h1v1h-1zM17 8h1v1h-1zM40 8h1v1h-1zM45 8h1v1h-1zM36 9h1v1h-1zM41 9h1v1h-1zM43 9h1v1h-1zM48 9h1v1h-1zM4 10h1v1h-1zM14 10h1v1h-1zM16 10h1v1h-1zM31 10h1v1h-1zM46 10h1v1h-1zM8 11h1v1h-1zM14 11h1v1h-1zM44 11h1v1h-1zM26 12h1v1h-1zM32 12h1v1h-1zM0 13h1v1h-1zM9 13h1v1h-1zM18 13h1v1h-1zM24 13h1v1h-1zM41 13h1v1h-1zM19 14h1v1h-1zM21 14h1v1h-1zM26 14h1v1h-1zM35 14h1v1h-1zM38 14h1v1h-1zM44 14h1v1h-1zM46 14h1v1h-1zM30 15h1v1h-1zM5 16h1v1h-1zM17 16h1v1h-1zM21 16h1v1h-1zM24 16h1v1h-1zM32 16h1v1h-1zM35 16h1v1h-1zM47 16h1v1h-1zM5 17h1v1h-1zM9 17h1v1h-1zM11 17h1v1h-1zM22 17h1v1h-1zM34 17h1v1h-1zM41 17h2v1h-2zM13 18h1v1h-1zM30 18h1v1h-1zM32 18h1v1h-1zM5 19h1v1h-1zM34 19h1v1h-1zM40 19h1v1h-1zM44 19h1v1h-1zM47 19h1v1h-1zM8 20h1v1h-1zM12 20h1v1h-1zM27 20h1v1h-1zM48 20h2v1h-2zM1 21h1v1h-1zM32 21h2v1h-2zM44 21h1v1h-1zM0 22h1v1h-1zM21 22h1v1h-1zM37 22h1v1h-1zM0 23h1v1h-1zM2 23h1v1h-1zM11 23h1v1h-1zM21 23h2v1h-2zM48 23h2v1h-2zM6 24h1v1h-1zM18 24h1v1h-1zM25 24h1v1h-1zM28 24h1v1h-1zM35 24h1v1h-1zM35 25h1v1h-1zM45 25h1v1h-1zM6 26h1v1h-1zM18 26h1v1h-1zM42 26h1v1h-1zM8 27h1v1h-1zM10 27h1v1h-1zM16 27h1v1h-1zM32 27h1v1h-1zM40 27h1v1h-1zM30 28h1v1h-1zM37 29h1v1h-1zM49 29h1v1h-1zM3 30h1v1h-1zM9 30h1v1h-1zM14 30h1v1h-1zM41 30h1v1h-1zM44 30h1v1h-1zM35 31h1v1h-1zM37 31h1v1h-1zM41 31h1v1h-1zM45 31h1v1h-1zM11 32h1v1h-1zM15 32h2v1h-2zM25 32h1v1h-1zM34 32h1v1h-1zM47 32h1v1h-1zM6 33h1v1h-1zM12 33h2v1h-2zM24 33h2v1h-2zM48 33h1v1h-1zM0 34h1v1h-1zM2 34h1v1h-1zM20 34h1v1h-1zM26 34h1v1h-1zM32 34h1v1h-1zM44 34h1v1h-1zM7 35h1v1h-1zM14 35h1v1h-1zM23 35h1v1h-1zM30 35h1v1h-1zM43 35h1v1h-1zM11 36h2v1h-2zM21 36h1v1h-1zM38 36h1v1h-1zM4 37h1v1h-1zM6 37h1v1h-1zM15 37h1v1h-1zM21 37h3v1h-3zM25 37h1v1h-1zM34 37h1v1h-1zM42 37h1v1h-1zM45 37h1v1h-1zM49 37h1v1h-1zM9 38h1v1h-1zM12 38h1v1h-1zM17 38h1v1h-1zM19 38h1v1h-1zM26 38h1v1h-1zM41 38h1v1h-1zM48 38h1v1h-1zM0 39h2v1h-2zM21 39h1v1h-1zM23 39h1v1h-1zM35 39h2v1h-2zM41 39h1v1h-1zM5 40h2v1h-2zM37 40h2v1h-2zM4 41h1v1h-1zM17 41h1v1h-1zM29 41h1v1h-1zM39 41h1v1h-1zM3 42h1v1h-1zM19 42h1v1h-1zM24 42h1v1h-1zM35 42h1v1h-1zM47 42h1v1h-1zM0 43h1v1h-1zM17 43h1v1h-1zM25 43h1v1h-1zM32 43h1v1h-1zM35 43h1v1h-1zM38 43h1v1h-1zM45 43h1v1h-1zM48 43h2v1h-2zM17 44h1v1h-1zM35 44h1v1h-1zM43 44h1v1h-1zM46 44h1v1h-1zM4 45h1v1h-1zM27 45h1v1h-1zM42 45h1v1h-1zM5 46h1v1h-1zM8 46h1v1h-1zM26 46h1v1h-1zM37 46h1v1h-1zM9 47h1v1h-1zM15 47h2v1h-2zM23 47h1v1h-1zM28 47h1v1h-1zM48 47h1v1h-1zM1 48h1v1h-1zM7 48h1v1h-1zM9 48h1v1h-1zM17 48h2v1h-2zM27 48h1v1h-1zM30 48h1v1h-1zM32 48h1v1h-1zM49 48h1v1h-1zM1 49h1v1h-1zM3 49h1v1h-1zM24 49h1v1h-1zM41 49h1v1h-1zM43 49h1v1h-1z"/>
<path fill="#c04f58" d="M10 0h1v1h-1zM17 0h1v1h-1zM26 0h1v1h-1zM29 0h1v1h-1zM31 0h1v1h-1zM35 0h2v1h-2zM40 0h1v1h-1zM49 0h1v1h-1zM1 1h1v1h-1zM3 1h1v1h-1zM6 1h3v1h-3zM17 1h1v1h-1zM24 1h1v1h-1zM30 1h2v1h-2zM33 1h1v1h-1zM43 1h1v1h-1zM45 1h2v1h-2zM4 2h1v1h-1zM10 2h1v1h-1zM29 2h1v1h-1zM10 3h1v1h-1zM32 3h1v1h-1zM35 3h3v1h-3zM39 3h2v1h-2zM4 4h1v1h-1zM6 4h3v1h-3zM17 4h1v1h-1zM21 4h1v1h-1zM30 4h1v1h-1zM35 4h1v1h-1zM48 4h1v1h-1zM35 5h2v1h-2zM38 5h1v1h-1zM45 5h1v1h-1zM8 6h1v1h-1zM16 6h1v1h-1zM25 6h1v1h-1zM42 6h1v1h-1zM2 7h1v1h-1zM6 7h1v1h-1zM17 7h1v1h-1zM33 7h1v1h-1zM45 7h1v1h-1zM1 8h1v1h-1zM9 8h1v1h-1zM11 8h1v1h-1zM28 8h1v1h-1zM35 8h2v1h-2zM38 8h1v1h-1zM48 8h1v1h-1zM11 9h1v1h-1zM14 9h1v1h-1zM32 9h1v1h-1zM17 10h2v1h-2zM23 10h1v1h-1zM26 10h1v1h-1zM43 10h2v1h-2zM3 11h1v1h-1zM5 11h1v1h-1zM10 11h1v1h-1zM15 11h2v1h-2zM35 11h1v1h-1zM15 12h1v1h-1zM28 12h1v1h-1zM37 12h1v1h-1zM46 12h1v1h-1zM48 12h1v1h-1zM1 13h2v1h-2zM6 13h1v1h-1zM14 13h1v1h-1zM20 13h1v1h-1zM43 13h2v1h-2zM46 13h1v1h-1zM2 14h1v1h-1zM15 14h1v1h-1zM29 14h1v1h-1zM31 14h1v1h-1zM39 14h1v1h-1zM12 15h1v1h-1zM18 15h1v1h-1zM20 15h2v1h-2zM23 15h1v1h-1zM26 15h3v1h-3zM32 15h2v1h-2zM35 15h1v1h-1zM7 16h3v1h-3zM20 16h1v1h-1zM34 16h1v1h-1zM36 16h1v1h-1zM4 17h1v1h-1zM17 17h2v1h-2zM21 17h1v1h-1zM29 17h1v1h-1zM36 17h1v1h-1zM43 17h1v1h-1zM1 18h1v1h-1zM6 18h2v1h-2zM10 18h1v1h-1zM16 18h2v1h-2zM23 18h1v1h-1zM35 18h1v1h-1zM43 18h1v1h-1zM45 18h1v1h-1zM47 18h1v1h-1zM6 19h1v1h-1zM8 19h1v1h-1zM13 19h1v1h-1zM19 19h1v1h-1zM22 19h3v1h-3zM27 19h1v1h-1zM43 19h1v1h-1zM46 19h1v1h-1zM2 20h1v1h-1zM4 20h1v1h-1zM7 20h1v1h-1zM9 20h1v1h-1zM24 20h3v1h-3zM29 20h1v1h-1zM37 20h1v1h-1zM41 20h2v1h-2zM3 21h1v1h-1zM7 21h1v1h-1zM9 21h1v1h-1zM17 21h1v1h-1zM29 21h1v1h-1zM34 21h1v1h-1zM38 21h1v1h-1zM41 21h1v1h-1zM10 22h1v1h-1zM15 22h1v1h-1zM20 22h1v1h-1zM25 22h1v1h-1zM31 22h1v1h-1zM40 22h1v1h-1zM45 22h1v1h-1zM1 23h1v1h-1zM9 23h1v1h-1zM12 23h1v1h-1zM14 23h1v1h-1zM3 24h1v1h-1zM7 24h1v1h-1zM9 24h1v1h-1zM21 24h1v1h-1zM31 24h2v1h-2zM34 24h1v1h-1zM15 25h2v1h-2zM22 25h1v1h-1zM24 25h1v1h-1zM28 25h1v1h-1zM34 25h1v1h-1zM37 25h1v1h-1zM43 25h1v1h-1zM1 26h1v1h-1zM17 26h1v1h-1zM24 26h1v1h-1zM27 26h1v1h-1zM38 26h1v1h-1zM45 26h1v1h-1zM6 27h1v1h-1zM43 27h1v1h-1zM48 27h1v1h-1zM1 28h1v1h-1zM6 28h1v1h-1zM12 28h2v1h-2zM23 28h1v1h-1zM25 28h1v1h-1zM36 28h1v1h-1zM40 28h1v1h-1zM6 29h1v1h-1zM20 29h1v1h-1zM46 29h1v1h-1zM48 29h1v1h-1zM1 30h1v1h-1zM4 30h1v1h-1zM7 30h1v1h-1zM10 30h1v1h-1zM18 30h1v1h-1zM21 30h1v1h-1zM24 30h1v1h-1zM27 30h1v1h-1zM30 30h1v1h-1zM32 30h1v1h-1zM42 30h1v1h-1zM49 30h1v1h-1zM0 31h2v1h-2zM6 31h1v1h-1zM9 31h1v1h-1zM11 31h1v1h-1zM15 31h1v1h-1zM24 31h1v1h-1zM7 32h1v1h-1zM9 32h1v1h-1zM17 32h2v1h-2zM26 32h1v1h-1zM28 32h1v1h-1zM31 32h1v1h-1zM42 32h1v1h-1zM2 33h1v1h-1zM17 33h1v1h-1zM28 33h1v1h-1zM32 33h1v1h-1zM39 33h1v1h-1zM15 34h1v1h-1zM2 35h1v1h-1zM6 35h1v1h-1zM13 35h1v1h-1zM15 35h1v1h-1zM18 35h1v1h-1zM27 35h1v1h-1zM36 35h1v1h-1zM38 35h1v1h-1zM48 35h1v1h-1zM5 36h2v1h-2zM8 36h2v1h-2zM13 36h1v1h-1zM24 36h1v1h-1zM32 36h2v1h-2zM48 36h1v1h-1zM1 37h1v1h-1zM14 37h1v1h-1zM31 37h1v1h-1zM36 37h1v1h-1zM39 37h1v1h-1zM4 38h2v1h-2zM14 38h1v1h-1zM16 38h1v1h-1zM31 38h1v1h-1zM37 38h1v1h-1zM39 38h1v1h-1zM49 38h1v1h-1zM3 39h1v1h-1zM12 39h1v1h-1zM15 39h1v1h-1zM17 39h2v1h-2zM22 39h1v1h-1zM31 39h1v1h-1zM33 39h1v1h-1zM37 39h1v1h-1zM43 39h1v1h-1zM46 39h1v1h-1zM3 40h1v1h-1zM23 40h1v1h-1zM25 40h1v1h-1zM27 40h1v1h-1zM36 40h1v1h-1zM42 40h1v1h-1zM45 40h1v1h-1zM2 41h1v1h-1zM9 41h1v1h-1zM11 41h1v1h-1zM19 41h1v1h-1zM38 41h1v1h-1zM42 41h1v1h-1zM2 42h1v1h-1zM14 42h1v1h-1zM17 42h1v1h-1zM26 42h2v1h-2zM41 42h1v1h-1zM44 42h1v1h-1zM49 42h1v1h-1zM4 43h1v1h-1zM9 43h1v1h-1zM18 43h1v1h-1zM21 43h1v1h-1zM28 43h1v1h-1zM31 43h1v1h-1zM39 43h1v1h-1zM42 43h1v1h-1zM47 43h1v1h-1zM8 44h1v1h-1zM11 44h1v1h-1zM19 44h1v1h-1zM21 44h1v1h-1zM32 44h1v1h-1zM38 44h1v1h-1zM16 45h1v1h-1zM22 45h1v1h-1zM25 45h2v1h-2zM45 45h1v1h-1zM14 46h2v1h-2zM1 47h2v1h-2zM7 47h2v1h-2zM11 47h1v1h-1zM22 47h1v1h-1zM30 47h1v1h-1zM38 47h1v1h-1zM21 48h1v1h-1zM24 48h2v1h-2zM28 48h1v1h-1zM42 48h1v1h-1zM44 48h1v1h-1zM48 48h1v1h-1zM0 49h1v1h-1zM4 49h1v1h-1zM17 49h1v1h-1zM21 49h1v1h-1zM26 49h1v1h-1zM45 49h2v1h-2z"/>
</pattern>
<filter id="soft" x="0" y="0" width="100%" height="100%" color-interpolation-filters="sRGB"><feConvolveMatrix order="3" kernelMatrix="1 2 1 2 10 2 1 2 1" edgeMode="duplicate"/></filter>
<filter id="rwb" x="0" y="0" width="100%" height="100%" color-interpolation-filters="sRGB">
<feTurbulence type="fractalNoise" baseFrequency="1.1" numOctaves="1" seed="4"/>
<feColorMatrix type="matrix" values="1 0 0 0 0  1 0 0 0 0  1 0 0 0 0  0 0 0 0 1"/>
<feComponentTransfer>
<feFuncR type="discrete" tableValues="0.51 0.51 0.51 0.51 0.51 0.51 0.51 0.51 0.51 0.51 0.51 0.51 0.51 0.51 0.51 0.51 0.51 0.51 0.51 0.737 0.737 0.98 0.98 0.98 0.941 0.941 0.882 0.882 0.784 0.784 0.784 0.784 0.784 0.784 0.784 0.784 0.784 0.784 0.784 0.784 0.784 0.784 0.784 0.784 0.784 0.784 0.784 0.784"/>
<feFuncG type="discrete" tableValues="0.471 0.471 0.471 0.471 0.471 0.471 0.471 0.471 0.471 0.471 0.471 0.471 0.471 0.471 0.471 0.471 0.471 0.471 0.471 0.714 0.714 0.976 0.976 0.976 0.804 0.804 0.608 0.608 0.353 0.353 0.353 0.353 0.353 0.353 0.353 0.353 0.353 0.353 0.353 0.353 0.353 0.353 0.353 0.353 0.353 0.353 0.353 0.353"/>
<feFuncB type="discrete" tableValues="0.831 0.831 0.831 0.831 0.831 0.831 0.831 0.831 0.831 0.831 0.831 0.831 0.831 0.831 0.831 0.831 0.831 0.831 0.831 0.922 0.922 0.984 0.984 0.984 0.824 0.824 0.627 0.627 0.384 0.384 0.384 0.384 0.384 0.384 0.384 0.384 0.384 0.384 0.384 0.384 0.384 0.384 0.384 0.384 0.384 0.384 0.384 0.384"/>
</feComponentTransfer>
<feGaussianBlur stdDeviation="0.45"/>
</filter>
<filter id="rwb2" x="0" y="0" width="100%" height="100%" color-interpolation-filters="sRGB">
<feTurbulence type="fractalNoise" baseFrequency="0.9" numOctaves="1" seed="9"/>
<feColorMatrix type="matrix" values="1 0 0 0 0  1 0 0 0 0  1 0 0 0 0  0 0 0 0 1"/>
<feComponentTransfer>
<feFuncR type="discrete" tableValues="0.373 0.373 0.373 0.373 0.373 0.373 0.373 0.373 0.373 0.373 0.373 0.373 0.373 0.373 0.373 0.373 0.373 0.373 0.373 0.373 0.647 0.647 0.98 0.98 0.98 0.98 0.933 0.933 0.839 0.725 0.725 0.725 0.725 0.725 0.725 0.725 0.725 0.725 0.725 0.725 0.725 0.725 0.725 0.725 0.725 0.725 0.725 0.725"/>
<feFuncG type="discrete" tableValues="0.361 0.361 0.361 0.361 0.361 0.361 0.361 0.361 0.361 0.361 0.361 0.361 0.361 0.361 0.361 0.361 0.361 0.361 0.361 0.361 0.627 0.627 0.976 0.976 0.976 0.976 0.784 0.784 0.549 0.282 0.282 0.282 0.282 0.282 0.282 0.282 0.282 0.282 0.282 0.282 0.282 0.282 0.282 0.282 0.282 0.282 0.282 0.282"/>
<feFuncB type="discrete" tableValues="0.784 0.784 0.784 0.784 0.784 0.784 0.784 0.784 0.784 0.784 0.784 0.784 0.784 0.784 0.784 0.784 0.784 0.784 0.784 0.784 0.902 0.902 0.984 0.984 0.984 0.984 0.816 0.816 0.596 0.345 0.345 0.345 0.345 0.345 0.345 0.345 0.345 0.345 0.345 0.345 0.345 0.345 0.345 0.345 0.345 0.345 0.345 0.345"/>
</feComponentTransfer>
<feGaussianBlur stdDeviation="0.45"/>
</filter>
<filter id="rwb3" x="0" y="0" width="100%" height="100%" color-interpolation-filters="sRGB">
<feTurbulence type="fractalNoise" baseFrequency="0.9" numOctaves="1" seed="6"/>
<feColorMatrix type="matrix" values="1 0 0 0 0  1 0 0 0 0  1 0 0 0 0  0 0 0 0 1"/>
<feComponentTransfer>
<feFuncR type="discrete" tableValues="0.451 0.451 0.451 0.451 0.451 0.451 0.451 0.451 0.451 0.451 0.451 0.451 0.451 0.451 0.451 0.451 0.451 0.451 0.706 0.706 0.98 0.98 0.98 0.98 0.98 0.98 0.933 0.933 0.839 0.725 0.725 0.725 0.725 0.725 0.725 0.725 0.725 0.725 0.725 0.725 0.725 0.725 0.725 0.725 0.725 0.725 0.725 0.725"/>
<feFuncG type="discrete" tableValues="0.431 0.431 0.431 0.431 0.431 0.431 0.431 0.431 0.431 0.431 0.431 0.431 0.431 0.431 0.431 0.431 0.431 0.431 0.694 0.694 0.976 0.976 0.976 0.976 0.976 0.976 0.784 0.784 0.549 0.282 0.282 0.282 0.282 0.282 0.282 0.282 0.282 0.282 0.282 0.282 0.282 0.282 0.282 0.282 0.282 0.282 0.282 0.282"/>
<feFuncB type="discrete" tableValues="0.816 0.816 0.816 0.816 0.816 0.816 0.816 0.816 0.816 0.816 0.816 0.816 0.816 0.816 0.816 0.816 0.816 0.816 0.933 0.933 0.984 0.984 0.984 0.984 0.984 0.984 0.816 0.816 0.596 0.345 0.345 0.345 0.345 0.345 0.345 0.345 0.345 0.345 0.345 0.345 0.345 0.345 0.345 0.345 0.345 0.345 0.345 0.345"/>
</feComponentTransfer>
<feGaussianBlur stdDeviation="0.45"/>
</filter>
<filter id="nav" x="0" y="0" width="100%" height="100%" color-interpolation-filters="sRGB">
<feTurbulence type="fractalNoise" baseFrequency="0.7" numOctaves="1" seed="13"/>
<feColorMatrix type="matrix" values="1 0 0 0 0  1 0 0 0 0  1 0 0 0 0  0 0 0 0 1"/>
<feComponentTransfer>
<feFuncR type="discrete" tableValues="0.157 0.157 0.157 0.157 0.157 0.157 0.157 0.157 0.157 0.157 0.157 0.157 0.157 0.157 0.157 0.157 0.157 0.157 0.157 0.157 0.157 0.157 0.157 0.18 0.18 0.18 0.18 0.18 0.18 0.212 0.212 0.212 0.212 0.212 0.212 0.212 0.314 0.314 0.314 0.314 0.314 0.314 0.314 0.314 0.314 0.314 0.314 0.314"/>
<feFuncG type="discrete" tableValues="0.157 0.157 0.157 0.157 0.157 0.157 0.157 0.157 0.157 0.157 0.157 0.157 0.157 0.157 0.157 0.157 0.157 0.157 0.157 0.157 0.157 0.157 0.157 0.18 0.18 0.18 0.18 0.18 0.18 0.212 0.212 0.212 0.212 0.212 0.212 0.212 0.314 0.314 0.314 0.314 0.314 0.314 0.314 0.314 0.314 0.314 0.314 0.314"/>
<feFuncB type="discrete" tableValues="0.525 0.525 0.525 0.525 0.525 0.525 0.525 0.525 0.525 0.525 0.525 0.525 0.525 0.525 0.525 0.525 0.525 0.525 0.525 0.525 0.525 0.525 0.525 0.557 0.557 0.557 0.557 0.557 0.557 0.588 0.588 0.588 0.588 0.588 0.588 0.588 0.667 0.667 0.667 0.667 0.667 0.667 0.667 0.667 0.667 0.667 0.667 0.667"/>
</feComponentTransfer>
<feGaussianBlur stdDeviation="0.4"/>
</filter>
<filter id="mskf" x="-10%" y="-10%" width="120%" height="120%" color-interpolation-filters="sRGB">
<feGaussianBlur in="SourceGraphic" stdDeviation="5" result="b"/>
<feTurbulence type="fractalNoise" baseFrequency="0.7" numOctaves="1" seed="7"/>
<feColorMatrix type="matrix" values="1 0 0 0 0  1 0 0 0 0  1 0 0 0 0  0 0 0 0 1" result="n"/>
<feComposite in="b" in2="n" operator="arithmetic" k2="1" k3="1.7" k4="-0.85"/>
<feComponentTransfer><feFuncR type="linear" slope="5" intercept="-2"/><feFuncG type="linear" slope="5" intercept="-2"/><feFuncB type="linear" slope="5" intercept="-2"/><feFuncA type="linear" slope="0" intercept="1"/></feComponentTransfer>
</filter>
<filter id="spk" x="0" y="0" width="100%" height="100%" color-interpolation-filters="sRGB">
<feTurbulence type="fractalNoise" baseFrequency="0.12" numOctaves="3" seed="11"/>
<feColorMatrix type="matrix" values="1 0 0 0 0  1 0 0 0 0  1 0 0 0 0  0 0 0 0 1" result="L"/>
<feTurbulence type="fractalNoise" baseFrequency="0.8" numOctaves="1" seed="5"/>
<feColorMatrix type="matrix" values="1 0 0 0 0  1 0 0 0 0  1 0 0 0 0  0 0 0 0 1" result="H"/>
<feComposite in="H" in2="L" operator="arithmetic" k2="2.0" k3="1.8" k4="-1.27"/>
<feColorMatrix type="matrix" values="1 0 0 0 0  1 0 0 0 0  1 0 0 0 0  0 0 0 0 1"/>
<feComponentTransfer>
<feFuncR type="discrete" tableValues="0.15 0.15 0.16 0.19 0.24 0.38 0.64 0.88 1 1"/>
<feFuncG type="discrete" tableValues="0.15 0.15 0.16 0.19 0.24 0.38 0.64 0.88 1 1"/>
<feFuncB type="discrete" tableValues="0.5 0.5 0.53 0.58 0.66 0.77 0.88 0.95 1 1"/>
</feComponentTransfer>
<feGaussianBlur stdDeviation="0.4"/>
</filter>
<filter id="blur3" x="-20%" y="-20%" width="140%" height="140%"><feGaussianBlur stdDeviation="3"/></filter>
<filter id="blur2" x="-20%" y="-20%" width="140%" height="140%"><feGaussianBlur stdDeviation="2"/></filter>
<mask id="md" maskUnits="userSpaceOnUse" x="469" y="9" width="87" height="87">
<g filter="url(#mskf)"><rect x="466" y="6" width="93" height="93" fill="#000"/>
<path fill="#fff" d="M471,11 L521.5,11 L523,22 L525,31.7 L530,38 L538,44.8 L546,48 L556,50 L556,74 L540,74.3 L530,76 L525,79.2 L523,84 L522,96 L488,96 L486,80 L481,74 L471,72 Z"/></g>
</mask>
<mask id="me" maskUnits="userSpaceOnUse" x="562" y="9" width="87" height="87">
<g filter="url(#mskf)"><rect x="559" y="6" width="93" height="93" fill="#000"/>
<ellipse fill="#fff" cx="591" cy="54.5" rx="25.5" ry="17.5" transform="rotate(10 591 54.5)"/></g>
</mask>
</defs>
<rect x="286" y="14" width="77" height="77" fill="url(#pb)" filter="url(#soft)"/>
<rect x="380" y="14" width="77" height="77" fill="#fff" filter="url(#spk)"/>
<rect x="474" y="14" width="77" height="77" fill="#fff" filter="url(#nav)"/>
<g mask="url(#md)"><rect x="474" y="14" width="77" height="77" fill="url(#pd)" filter="url(#soft)"/></g>
<defs><linearGradient id="lbd" x1="0" y1="0" x2="1" y2="0"><stop offset="0" stop-color="#2a2a8c" stop-opacity="0.75"/><stop offset="1" stop-color="#2a2a8c" stop-opacity="0"/></linearGradient><linearGradient id="lbd2" x1="0" y1="0" x2="0" y2="1"><stop offset="0" stop-color="#fff"/><stop offset="0.6" stop-color="#fff"/><stop offset="1" stop-color="#000"/></linearGradient><mask id="lbm"><rect x="474" y="14" width="8" height="44" fill="url(#lbd2)"/></mask></defs>
<rect x="474" y="14" width="8" height="44" fill="url(#lbd)" mask="url(#lbm)"/>
<rect x="567" y="14" width="77" height="77" fill="#fff" filter="url(#nav)"/>
<g mask="url(#me)"><rect x="567" y="14" width="77" height="77" fill="url(#pe)" filter="url(#soft)"/></g>
<path d="M383.6,14 v77 M380,17.6 h77 M395.2,14 v77 M380,29.2 h77 M406.9,14 v77 M380,40.9 h77 M418.5,14 v77 M380,52.5 h77 M430.1,14 v77 M380,64.1 h77 M441.8,14 v77 M380,75.8 h77 M453.4,14 v77 M380,87.4 h77 M474.0,14 v77 M474,14.0 h77 M486.8,14 v77 M474,26.8 h77 M499.7,14 v77 M474,39.7 h77 M512.5,14 v77 M474,52.5 h77 M525.3,14 v77 M474,65.3 h77 M538.2,14 v77 M474,78.2 h77 M551.0,14 v77 M474,91.0 h77" stroke="#8080b8" stroke-width="0.6" fill="none" opacity="0.35"/>
<path d="M577.2,14 v77 M567,24.2 h77 M591.7,14 v77 M567,38.6 h77 M606.1,14 v77 M567,53.1 h77 M620.6,14 v77 M567,67.5 h77 M635.0,14 v77 M567,82.0 h77" stroke="#8080b8" stroke-width="0.6" fill="none" opacity="0.55"/>
<path d="M286,14 V91 H363 M286.0,91 v3 M286,14.0 h-3 M295.6,91 v3 M286,23.6 h-3 M305.2,91 v3 M286,33.2 h-3 M314.9,91 v3 M286,42.9 h-3 M324.5,91 v3 M286,52.5 h-3 M334.1,91 v3 M286,62.1 h-3 M343.8,91 v3 M286,71.8 h-3 M353.4,91 v3 M286,81.4 h-3 M363.0,91 v3 M286,91.0 h-3 M380,14 V91 H457 M383.6,91 v3 M380,17.6 h-3 M395.2,91 v3 M380,29.2 h-3 M406.9,91 v3 M380,40.9 h-3 M418.5,91 v3 M380,52.5 h-3 M430.1,91 v3 M380,64.1 h-3 M441.8,91 v3 M380,75.8 h-3 M453.4,91 v3 M380,87.4 h-3 M474,14 V91 H551 M474.0,91 v3 M474,14.0 h-3 M486.8,91 v3 M474,26.8 h-3 M499.7,91 v3 M474,39.7 h-3 M512.5,91 v3 M474,52.5 h-3 M525.3,91 v3 M474,65.3 h-3 M538.2,91 v3 M474,78.2 h-3 M551.0,91 v3 M474,91.0 h-3 M567,14 V91 H644 M577.2,91 v3 M567,24.2 h-3 M591.4,91 v3 M567,38.4 h-3 M605.5,91 v3 M567,52.5 h-3 M619.7,91 v3 M567,66.7 h-3 M633.8,91 v3 M567,80.8 h-3" stroke="#222" stroke-width="0.9" fill="none"/>
<g font-family='"Liberation Sans", sans-serif'>
<text x="287.6" y="10.3" font-size="15" font-weight="bold">b</text>
<text x="382.4" y="10.3" font-size="15" font-weight="bold">c</text>
<text x="475.0" y="10.3" font-size="15" font-weight="bold">d</text>
<text x="567.8" y="10.3" font-size="15" font-weight="bold">e</text>
<text x="324.5" y="106.3" font-size="15" font-style="italic" text-anchor="middle">x</text>
<text x="418.5" y="106.3" font-size="15" font-style="italic" text-anchor="middle">x</text>
<text x="512.5" y="106.3" font-size="15" font-style="italic" text-anchor="middle">x</text>
<text x="605.5" y="106.3" font-size="15" font-style="italic" text-anchor="middle">x</text>
<text x="271.6" y="56.2" font-size="15" font-style="italic">y</text>
</g>
<path d="M312.00,1.10 L313.30,3.91 L316.37,4.28 L314.10,6.38 L314.70,9.42 L312.00,7.91 L309.30,9.42 L309.90,6.38 L307.63,4.28 L310.70,3.91 Z" fill="#000" stroke="#222" stroke-width="0.5"/>
<path d="M407.30,1.00 L408.60,3.81 L411.67,4.18 L409.40,6.28 L410.00,9.32 L407.30,7.81 L404.60,9.32 L405.20,6.28 L402.93,4.18 L406.00,3.81 Z" fill="#45c8f0" stroke="#222" stroke-width="0.5"/>
<path d="M501.10,0.80 L502.40,3.61 L505.47,3.98 L503.20,6.08 L503.80,9.12 L501.10,7.61 L498.40,9.12 L499.00,6.08 L496.73,3.98 L499.80,3.61 Z" fill="#ff00ff" stroke="#222" stroke-width="0.5"/>
<path d="M595.20,1.00 L596.55,3.94 L599.77,4.32 L597.39,6.51 L598.02,9.68 L595.20,8.10 L592.38,9.68 L593.01,6.51 L590.63,4.32 L593.85,3.94 Z" fill="#0000ff" stroke="#222" stroke-width="0.5"/>
<defs><linearGradient id="cb" x1="0" y1="1" x2="0" y2="0">
<stop offset="0" stop-color="#00004d"/><stop offset="0.25" stop-color="#0000ff"/><stop offset="0.5" stop-color="#ffffff"/><stop offset="0.75" stop-color="#ff0000"/><stop offset="1" stop-color="#800000"/></linearGradient></defs>
<rect x="650.4" y="14.6" width="4.2" height="76.4" fill="url(#cb)"/>
<path d="M654.6,91.0 h2.2 M654.6,75.7 h2.2 M654.6,60.4 h2.2 M654.6,45.2 h2.2 M654.6,29.9 h2.2 M654.6,14.6 h2.2" stroke="#222" stroke-width="0.8" fill="none"/>
<g font-family='"Liberation Sans", sans-serif' font-size="15">
<text x="659.3" y="96.6">0</text>
<text x="659.3" y="81.3">1</text>
<text x="659.3" y="66.0">2</text>
<text x="659.3" y="50.8">3</text>
<text x="659.3" y="35.5">4</text>
<text x="657.4" y="20.3" font-size="13">≥</text><text x="667.9" y="20.6">5</text>
<text x="0" y="0" font-size="14" transform="translate(674.0,25.4) rotate(90)">v (arb. u.)</text>
</g>
<defs>
<clipPath id="cpf"><rect x="291.2" y="133.5" width="80.6" height="79.80000000000001"/></clipPath>
<clipPath id="cpg"><rect x="386.2" y="133.5" width="80.6" height="79.80000000000001"/></clipPath>
<clipPath id="cph"><rect x="480.4" y="133.5" width="80.6" height="79.80000000000001"/></clipPath>
<clipPath id="cpi"><rect x="575.8" y="133.5" width="80.6" height="79.80000000000001"/></clipPath>
</defs>
<g clip-path="url(#cpf)" fill="none">
<path d="M315.5,133.5 V213.3" stroke="#000" stroke-width="1.1" stroke-dasharray="3 2.2"/>
<path d="M291.2,182.0 C291.8,180.5 293.2,175.7 294.5,173.0 C295.8,170.3 296.7,167.8 298.7,166.0 C300.7,164.2 304.0,163.0 306.7,162.0 C309.4,161.0 312.1,160.3 314.7,160.1 C317.2,159.9 319.8,160.4 322.0,160.8 C324.2,161.2 325.8,162.0 328.0,162.8 C330.2,163.6 332.8,164.5 335.0,165.5 C337.2,166.5 339.1,167.4 341.3,168.7 C343.5,169.9 345.8,171.3 348.0,173.0 C350.2,174.7 352.8,177.1 354.8,178.8 C356.8,180.5 358.2,181.0 360.0,183.0 C361.8,185.0 363.4,188.5 365.3,191.0 C367.2,193.5 370.6,196.8 371.6,198.0" stroke="#66ee00" stroke-width="2"/>
<path d="M296.8,214.0 C297.6,210.0 299.7,197.6 301.3,190.0 C302.9,182.4 304.9,174.2 306.7,168.7 C308.5,163.1 310.4,159.1 312.0,156.7 C313.6,154.2 314.3,154.1 316.0,154.0 C317.7,153.9 320.0,154.7 322.0,156.0 C324.0,157.3 326.0,159.5 328.0,162.0 C330.0,164.5 332.2,168.1 334.0,171.0 C335.8,173.9 337.1,176.1 338.7,179.3 C340.3,182.5 341.9,186.2 343.5,190.0 C345.1,193.8 346.8,198.0 348.0,202.0 C349.2,206.0 350.3,212.0 350.8,214.0" stroke="#9400e6" stroke-width="2"/>
</g>
<path d="M311.3,213.3 v-2.2 M311.3,133.5 v2.2 M331.5,213.3 v-2.2 M331.5,133.5 v2.2 M351.6,213.3 v-2.2 M351.6,133.5 v2.2 M291.2,213.3 h3 M371.79999999999995,213.3 h-3 M291.2,206.4 h1.6 M371.79999999999995,206.4 h-1.6 M291.2,202.3 h1.6 M371.79999999999995,202.3 h-1.6 M291.2,199.5 h1.6 M371.79999999999995,199.5 h-1.6 M291.2,197.2 h1.6 M371.79999999999995,197.2 h-1.6 M291.2,195.4 h1.6 M371.79999999999995,195.4 h-1.6 M291.2,193.9 h1.6 M371.79999999999995,193.9 h-1.6 M291.2,192.5 h1.6 M371.79999999999995,192.5 h-1.6 M291.2,191.4 h1.6 M371.79999999999995,191.4 h-1.6 M291.2,190.3 h3 M371.79999999999995,190.3 h-3 M291.2,183.4 h1.6 M371.79999999999995,183.4 h-1.6 M291.2,179.3 h1.6 M371.79999999999995,179.3 h-1.6 M291.2,176.5 h1.6 M371.79999999999995,176.5 h-1.6 M291.2,174.2 h1.6 M371.79999999999995,174.2 h-1.6 M291.2,172.4 h1.6 M371.79999999999995,172.4 h-1.6 M291.2,170.9 h1.6 M371.79999999999995,170.9 h-1.6 M291.2,169.5 h1.6 M371.79999999999995,169.5 h-1.6 M291.2,168.4 h1.6 M371.79999999999995,168.4 h-1.6 M291.2,167.3 h3 M371.79999999999995,167.3 h-3 M291.2,160.4 h1.6 M371.79999999999995,160.4 h-1.6 M291.2,156.3 h1.6 M371.79999999999995,156.3 h-1.6 M291.2,153.5 h1.6 M371.79999999999995,153.5 h-1.6 M291.2,151.2 h1.6 M371.79999999999995,151.2 h-1.6 M291.2,149.4 h1.6 M371.79999999999995,149.4 h-1.6 M291.2,147.9 h1.6 M371.79999999999995,147.9 h-1.6 M291.2,146.5 h1.6 M371.79999999999995,146.5 h-1.6 M291.2,145.4 h1.6 M371.79999999999995,145.4 h-1.6 M291.2,144.3 h3 M371.79999999999995,144.3 h-3 M291.2,137.4 h1.6 M371.79999999999995,137.4 h-1.6" stroke="#333" stroke-width="0.6" fill="none"/>
<rect x="291.2" y="133.5" width="80.6" height="79.80000000000001" fill="none" stroke="#333" stroke-width="0.8"/>
<g clip-path="url(#cpg)" fill="none">
<path d="M422.1,133.5 V213.3" stroke="#000" stroke-width="1.1" stroke-dasharray="3 2.2"/>
<path d="M386.2,187.7 C386.9,185.4 388.5,177.4 390.2,173.8 C391.9,170.2 393.8,167.8 396.3,166.2 C398.9,164.6 401.9,164.5 405.5,164.0 C409.1,163.5 413.7,163.1 417.8,163.1 C421.9,163.1 426.4,163.4 430.2,164.0 C434.0,164.6 436.8,165.6 440.9,166.6 C445.0,167.6 450.5,168.7 454.8,170.0 C459.1,171.3 464.6,173.8 466.6,174.6" stroke="#66ee00" stroke-width="2"/>
<path d="M390.8,214.0 C391.5,209.4 393.4,192.4 394.8,186.2 C396.2,180.0 397.1,179.7 399.4,176.9 C401.7,174.1 405.0,171.2 408.6,169.2 C412.2,167.1 417.8,166.1 420.9,164.6 C424.0,163.1 425.0,161.6 427.1,160.0 C429.2,158.4 431.8,155.5 433.5,155.0 C435.2,154.5 436.4,155.8 437.5,157.0 C438.6,158.2 439.1,158.9 440.0,162.0 C440.9,165.1 441.6,169.0 442.6,175.3 C443.6,181.6 445.3,193.2 446.1,199.7 C446.9,206.1 447.0,211.6 447.2,214.0" stroke="#9400e6" stroke-width="2"/>
</g>
<path d="M406.3,213.3 v-2.2 M406.3,133.5 v2.2 M426.5,213.3 v-2.2 M426.5,133.5 v2.2 M446.6,213.3 v-2.2 M446.6,133.5 v2.2 M386.2,213.3 h3 M466.79999999999995,213.3 h-3 M386.2,206.4 h1.6 M466.79999999999995,206.4 h-1.6 M386.2,202.3 h1.6 M466.79999999999995,202.3 h-1.6 M386.2,199.5 h1.6 M466.79999999999995,199.5 h-1.6 M386.2,197.2 h1.6 M466.79999999999995,197.2 h-1.6 M386.2,195.4 h1.6 M466.79999999999995,195.4 h-1.6 M386.2,193.9 h1.6 M466.79999999999995,193.9 h-1.6 M386.2,192.5 h1.6 M466.79999999999995,192.5 h-1.6 M386.2,191.4 h1.6 M466.79999999999995,191.4 h-1.6 M386.2,190.3 h3 M466.79999999999995,190.3 h-3 M386.2,183.4 h1.6 M466.79999999999995,183.4 h-1.6 M386.2,179.3 h1.6 M466.79999999999995,179.3 h-1.6 M386.2,176.5 h1.6 M466.79999999999995,176.5 h-1.6 M386.2,174.2 h1.6 M466.79999999999995,174.2 h-1.6 M386.2,172.4 h1.6 M466.79999999999995,172.4 h-1.6 M386.2,170.9 h1.6 M466.79999999999995,170.9 h-1.6 M386.2,169.5 h1.6 M466.79999999999995,169.5 h-1.6 M386.2,168.4 h1.6 M466.79999999999995,168.4 h-1.6 M386.2,167.3 h3 M466.79999999999995,167.3 h-3 M386.2,160.4 h1.6 M466.79999999999995,160.4 h-1.6 M386.2,156.3 h1.6 M466.79999999999995,156.3 h-1.6 M386.2,153.5 h1.6 M466.79999999999995,153.5 h-1.6 M386.2,151.2 h1.6 M466.79999999999995,151.2 h-1.6 M386.2,149.4 h1.6 M466.79999999999995,149.4 h-1.6 M386.2,147.9 h1.6 M466.79999999999995,147.9 h-1.6 M386.2,146.5 h1.6 M466.79999999999995,146.5 h-1.6 M386.2,145.4 h1.6 M466.79999999999995,145.4 h-1.6 M386.2,144.3 h3 M466.79999999999995,144.3 h-3 M386.2,137.4 h1.6 M466.79999999999995,137.4 h-1.6" stroke="#333" stroke-width="0.6" fill="none"/>
<rect x="386.2" y="133.5" width="80.6" height="79.80000000000001" fill="none" stroke="#333" stroke-width="0.8"/>
<g clip-path="url(#cph)" fill="none">
<path d="M524.3,133.5 V213.3" stroke="#000" stroke-width="1.1" stroke-dasharray="3 2.2"/>
<path d="M480.4,189.2 C481.0,187.7 482.6,182.6 484.0,180.0 C485.4,177.4 487.0,175.3 488.5,173.6 C490.0,171.8 491.3,170.7 493.0,169.5 C494.7,168.3 496.2,167.4 498.9,166.6 C501.6,165.8 505.3,164.8 509.4,164.8 C513.5,164.8 518.7,165.7 523.3,166.6 C527.9,167.5 533.1,169.0 537.2,170.0 C541.3,171.0 545.1,172.2 547.7,172.5 C550.3,172.8 551.7,172.2 553.0,171.5 C554.3,170.8 554.8,170.1 555.5,168.5 C556.2,166.9 556.9,164.4 557.5,162.0 C558.1,159.6 558.5,155.9 559.0,154.0 C559.5,152.1 560.5,151.3 560.8,150.8" stroke="#66ee00" stroke-width="2"/>
<path d="M493.7,214.0 C494.6,210.8 496.9,200.9 498.9,194.5 C500.9,188.1 503.6,180.2 505.9,175.3 C508.2,170.4 510.8,167.1 512.8,164.8 C514.8,162.5 516.1,162.3 518.0,161.5 C519.9,160.7 521.9,160.1 524.2,160.0 C526.5,159.9 529.9,160.4 531.9,160.9 C533.9,161.4 535.1,163.2 536.5,163.1 C537.9,162.9 539.1,161.8 540.2,160.0 C541.3,158.2 542.5,152.3 543.3,152.3 C544.1,152.3 544.3,155.4 544.8,160.0 C545.3,164.6 545.8,173.1 546.4,180.0 C547.0,186.9 547.8,195.8 548.2,201.5 C548.6,207.2 548.7,211.9 548.8,214.0" stroke="#9400e6" stroke-width="2"/>
</g>
<path d="M500.5,213.3 v-2.2 M500.5,133.5 v2.2 M520.7,213.3 v-2.2 M520.7,133.5 v2.2 M540.9,213.3 v-2.2 M540.9,133.5 v2.2 M480.4,213.3 h3 M561.0,213.3 h-3 M480.4,206.4 h1.6 M561.0,206.4 h-1.6 M480.4,202.3 h1.6 M561.0,202.3 h-1.6 M480.4,199.5 h1.6 M561.0,199.5 h-1.6 M480.4,197.2 h1.6 M561.0,197.2 h-1.6 M480.4,195.4 h1.6 M561.0,195.4 h-1.6 M480.4,193.9 h1.6 M561.0,193.9 h-1.6 M480.4,192.5 h1.6 M561.0,192.5 h-1.6 M480.4,191.4 h1.6 M561.0,191.4 h-1.6 M480.4,190.3 h3 M561.0,190.3 h-3 M480.4,183.4 h1.6 M561.0,183.4 h-1.6 M480.4,179.3 h1.6 M561.0,179.3 h-1.6 M480.4,176.5 h1.6 M561.0,176.5 h-1.6 M480.4,174.2 h1.6 M561.0,174.2 h-1.6 M480.4,172.4 h1.6 M561.0,172.4 h-1.6 M480.4,170.9 h1.6 M561.0,170.9 h-1.6 M480.4,169.5 h1.6 M561.0,169.5 h-1.6 M480.4,168.4 h1.6 M561.0,168.4 h-1.6 M480.4,167.3 h3 M561.0,167.3 h-3 M480.4,160.4 h1.6 M561.0,160.4 h-1.6 M480.4,156.3 h1.6 M561.0,156.3 h-1.6 M480.4,153.5 h1.6 M561.0,153.5 h-1.6 M480.4,151.2 h1.6 M561.0,151.2 h-1.6 M480.4,149.4 h1.6 M561.0,149.4 h-1.6 M480.4,147.9 h1.6 M561.0,147.9 h-1.6 M480.4,146.5 h1.6 M561.0,146.5 h-1.6 M480.4,145.4 h1.6 M561.0,145.4 h-1.6 M480.4,144.3 h3 M561.0,144.3 h-3 M480.4,137.4 h1.6 M561.0,137.4 h-1.6" stroke="#333" stroke-width="0.6" fill="none"/>
<rect x="480.4" y="133.5" width="80.6" height="79.80000000000001" fill="none" stroke="#333" stroke-width="0.8"/>
<g clip-path="url(#cpi)" fill="none">
<path d="M631.6,133.5 V213.3" stroke="#000" stroke-width="1.1" stroke-dasharray="3 2.2"/>
<path d="M575.8,203.2 C576.5,200.9 578.5,192.3 580.0,189.2 C581.5,186.1 583.3,185.7 585.0,184.5 C586.7,183.3 587.9,183.1 590.4,182.3 C592.9,181.6 597.1,180.6 600.0,180.0 C602.9,179.4 604.2,179.2 607.8,178.8 C611.4,178.4 617.7,178.0 621.8,177.7 C625.9,177.4 628.7,177.6 632.2,177.0 C635.7,176.4 640.1,175.4 642.7,174.4 C645.3,173.4 646.7,172.4 648.0,171.0 C649.3,169.6 649.8,168.2 650.5,166.0 C651.2,163.8 651.5,161.4 652.0,158.0 C652.5,154.6 652.9,148.9 653.6,145.7 C654.3,142.5 655.8,140.1 656.2,139.0" stroke="#66ee00" stroke-width="2"/>
<path d="M586.2,214.0 C587.2,211.6 590.1,203.8 592.2,199.7 C594.4,195.6 596.5,191.8 599.1,189.2 C601.7,186.6 604.6,185.7 607.8,184.0 C611.0,182.3 615.4,180.8 618.3,178.8 C621.2,176.8 623.3,174.7 625.3,171.8 C627.3,168.9 628.9,164.9 630.5,161.4 C632.1,157.9 633.8,154.4 635.0,150.9 C636.2,147.4 636.9,141.0 637.7,140.5 C638.5,140.0 639.2,143.4 639.8,148.0 C640.4,152.6 640.8,160.9 641.4,168.3 C642.0,175.8 642.6,185.1 643.1,192.7 C643.6,200.3 644.4,210.4 644.6,214.0" stroke="#9400e6" stroke-width="2"/>
</g>
<path d="M595.9,213.3 v-2.2 M595.9,133.5 v2.2 M616.1,213.3 v-2.2 M616.1,133.5 v2.2 M636.2,213.3 v-2.2 M636.2,133.5 v2.2 M575.8,213.3 h3 M656.4,213.3 h-3 M575.8,206.4 h1.6 M656.4,206.4 h-1.6 M575.8,202.3 h1.6 M656.4,202.3 h-1.6 M575.8,199.5 h1.6 M656.4,199.5 h-1.6 M575.8,197.2 h1.6 M656.4,197.2 h-1.6 M575.8,195.4 h1.6 M656.4,195.4 h-1.6 M575.8,193.9 h1.6 M656.4,193.9 h-1.6 M575.8,192.5 h1.6 M656.4,192.5 h-1.6 M575.8,191.4 h1.6 M656.4,191.4 h-1.6 M575.8,190.3 h3 M656.4,190.3 h-3 M575.8,183.4 h1.6 M656.4,183.4 h-1.6 M575.8,179.3 h1.6 M656.4,179.3 h-1.6 M575.8,176.5 h1.6 M656.4,176.5 h-1.6 M575.8,174.2 h1.6 M656.4,174.2 h-1.6 M575.8,172.4 h1.6 M656.4,172.4 h-1.6 M575.8,170.9 h1.6 M656.4,170.9 h-1.6 M575.8,169.5 h1.6 M656.4,169.5 h-1.6 M575.8,168.4 h1.6 M656.4,168.4 h-1.6 M575.8,167.3 h3 M656.4,167.3 h-3 M575.8,160.4 h1.6 M656.4,160.4 h-1.6 M575.8,156.3 h1.6 M656.4,156.3 h-1.6 M575.8,153.5 h1.6 M656.4,153.5 h-1.6 M575.8,151.2 h1.6 M656.4,151.2 h-1.6 M575.8,149.4 h1.6 M656.4,149.4 h-1.6 M575.8,147.9 h1.6 M656.4,147.9 h-1.6 M575.8,146.5 h1.6 M656.4,146.5 h-1.6 M575.8,145.4 h1.6 M656.4,145.4 h-1.6 M575.8,144.3 h3 M656.4,144.3 h-3 M575.8,137.4 h1.6 M656.4,137.4 h-1.6" stroke="#333" stroke-width="0.6" fill="none"/>
<rect x="575.8" y="133.5" width="80.6" height="79.80000000000001" fill="none" stroke="#333" stroke-width="0.8"/>
<g font-family='"Liberation Sans", sans-serif'>
<text x="293.4" y="128.9" font-size="14.3" font-weight="bold">f</text>
<text x="387.4" y="126.5" font-size="14.3" font-weight="bold">g</text>
<text x="483.9" y="126.7" font-size="14.3" font-weight="bold">h</text>
<text x="577.8" y="126.7" font-size="14.3" font-weight="bold">i</text>
<text x="292.0" y="227.3" font-size="15" text-anchor="middle">0</text>
<text x="331.8" y="227.3" font-size="15" text-anchor="middle">0.5</text>
<text x="371.0" y="227.3" font-size="15" text-anchor="middle">1</text>
<text x="387.0" y="227.3" font-size="15" text-anchor="middle">0</text>
<text x="426.8" y="227.3" font-size="15" text-anchor="middle">0.5</text>
<text x="466.0" y="227.3" font-size="15" text-anchor="middle">1</text>
<text x="481.2" y="227.3" font-size="15" text-anchor="middle">0</text>
<text x="521.0" y="227.3" font-size="15" text-anchor="middle">0.5</text>
<text x="560.2" y="227.3" font-size="15" text-anchor="middle">1</text>
<text x="576.6" y="227.3" font-size="15" text-anchor="middle">0</text>
<text x="616.4" y="227.3" font-size="15" text-anchor="middle">0.5</text>
<text x="655.6" y="227.3" font-size="15" text-anchor="middle">1</text>
<text x="287.6" y="219.7" font-size="15" text-anchor="end">10<tspan font-size="9.8" dy="-6.0">-2</tspan></text>
<text x="287.6" y="196.7" font-size="15" text-anchor="end">10<tspan font-size="9.8" dy="-6.0">-1</tspan></text>
<text x="287.6" y="173.7" font-size="15" text-anchor="end">10<tspan font-size="9.8" dy="-6.0">0</tspan></text>
<text x="287.6" y="150.7" font-size="15" text-anchor="end">10<tspan font-size="9.8" dy="-6.0">1</tspan></text>
<text x="0" y="0" font-size="14" text-anchor="middle" transform="translate(260.2,173.8) rotate(-90)">Prob (arb. u.)</text>
<path d="M327.6,143.3 H339" stroke="#9400e6" stroke-width="2"/>
<path d="M327.6,155.8 H339" stroke="#66ee00" stroke-width="2"/>
<ellipse cx="346.1" cy="144.6" rx="3.0" ry="2.9" fill="none" stroke="#000" stroke-width="1.05"/><path d="M347.7,140.1 L344.6,149.1" stroke="#000" stroke-width="1.05"/>
<text x="342.2" y="158.6" font-size="12.2" font-style="italic">ψ<tspan font-size="8.5" font-style="normal" dy="2.7" dx="-0.9">6</tspan></text>
</g>
</svg>
</body></html>
